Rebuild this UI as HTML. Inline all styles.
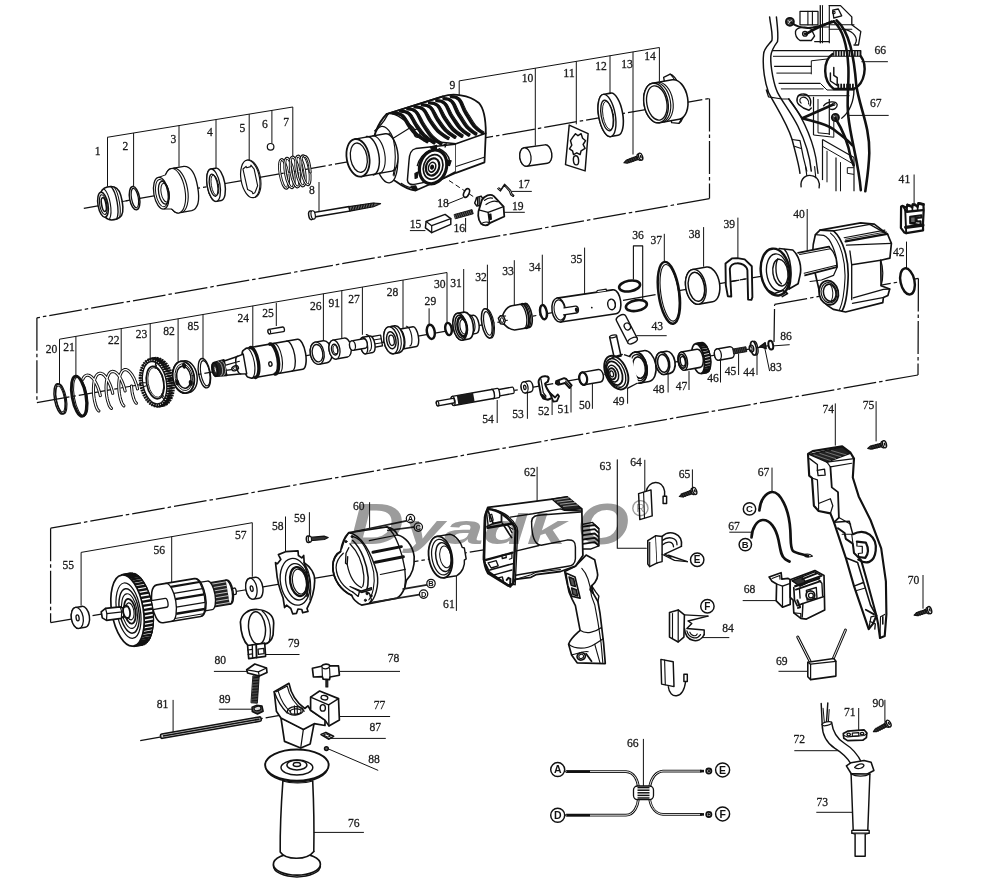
<!DOCTYPE html>
<html><head><meta charset="utf-8"><title>Parts diagram</title>
<style>html,body{margin:0;padding:0;background:#fff;}svg{display:block}</style></head>
<body>
<svg width="993" height="889" viewBox="0 0 993 889" stroke-linejoin="round" stroke-linecap="round">
<rect width="993" height="889" fill="#fff"/>
<g id="dashdot">
<line x1="83.8" y1="208.3" x2="709.5" y2="98.4" stroke="#111" stroke-width="1.25" stroke-dasharray="33 3 3.5 3" stroke-linecap="butt"/>
<line x1="709.5" y1="98.4" x2="709.5" y2="198.6" stroke="#111" stroke-width="1.25" stroke-dasharray="33 3 3.5 3" stroke-linecap="butt"/>
<line x1="709.5" y1="198.6" x2="36.9" y2="317.8" stroke="#111" stroke-width="1.25" stroke-dasharray="33 3 3.5 3" stroke-linecap="butt"/>
<line x1="36.9" y1="317.8" x2="36.9" y2="402.6" stroke="#111" stroke-width="1.25" stroke-dasharray="33 3 3.5 3" stroke-linecap="butt"/>
<line x1="36.9" y1="402.6" x2="780" y2="273" stroke="#111" stroke-width="1.25" stroke-dasharray="33 3 3.5 3" stroke-linecap="butt"/>
<line x1="437" y1="404" x2="771.4" y2="345.2" stroke="#111" stroke-width="1.25" stroke-dasharray="33 3 3.5 3" stroke-linecap="butt"/>
<line x1="774" y1="342" x2="774.6" y2="304.4" stroke="#111" stroke-width="1.25" stroke-dasharray="33 3 3.5 3" stroke-linecap="butt"/>
<line x1="774.6" y1="304.4" x2="918.4" y2="278.4" stroke="#111" stroke-width="1.25" stroke-dasharray="33 3 3.5 3" stroke-linecap="butt"/>
<line x1="918.4" y1="278.4" x2="918" y2="375" stroke="#111" stroke-width="1.25" stroke-dasharray="33 3 3.5 3" stroke-linecap="butt"/>
<line x1="918" y1="375" x2="50.6" y2="528.2" stroke="#111" stroke-width="1.25" stroke-dasharray="33 3 3.5 3" stroke-linecap="butt"/>
<line x1="50.6" y1="528.2" x2="50.6" y2="622.6" stroke="#111" stroke-width="1.25" stroke-dasharray="33 3 3.5 3" stroke-linecap="butt"/>
<line x1="50.6" y1="622.6" x2="520" y2="543.8" stroke="#111" stroke-width="1.25" stroke-dasharray="33 3 3.5 3" stroke-linecap="butt"/>
<line x1="140.2" y1="740.7" x2="316.4" y2="708.7" stroke="#111" stroke-width="1.25" stroke-dasharray="33 3 3.5 3" stroke-linecap="butt"/>
<line x1="449" y1="180.5" x2="476.8" y2="198.9" stroke="#111" stroke-width="1" stroke-dasharray="5 3" stroke-linecap="butt"/>
</g>
<g id="brackets">
<line x1="107.2" y1="137.3" x2="292.8" y2="107" stroke="#111" stroke-width="1" stroke-linecap="butt"/>
<line x1="107.5" y1="137.3" x2="107.5" y2="186.6" stroke="#111" stroke-width="1" stroke-linecap="butt"/>
<line x1="133.6" y1="133" x2="133.6" y2="186" stroke="#111" stroke-width="1" stroke-linecap="butt"/>
<line x1="179" y1="125.6" x2="179" y2="166.7" stroke="#111" stroke-width="1" stroke-linecap="butt"/>
<line x1="216" y1="119.5" x2="216" y2="168.5" stroke="#111" stroke-width="1" stroke-linecap="butt"/>
<line x1="249.2" y1="114.1" x2="249.2" y2="160" stroke="#111" stroke-width="1" stroke-linecap="butt"/>
<line x1="271.9" y1="110.4" x2="271.9" y2="143.3" stroke="#111" stroke-width="1" stroke-linecap="butt"/>
<line x1="292.8" y1="107" x2="292.8" y2="156" stroke="#111" stroke-width="1" stroke-linecap="butt"/>
<line x1="319" y1="182" x2="319" y2="211" stroke="#111" stroke-width="1" stroke-linecap="butt"/>
<line x1="459.2" y1="80.9" x2="659.4" y2="47.5" stroke="#111" stroke-width="1" stroke-linecap="butt"/>
<line x1="459.2" y1="80.9" x2="459.2" y2="104" stroke="#111" stroke-width="1" stroke-linecap="butt"/>
<line x1="535.3" y1="68.2" x2="535.3" y2="145.7" stroke="#111" stroke-width="1" stroke-linecap="butt"/>
<line x1="576.3" y1="61.4" x2="576.3" y2="124.3" stroke="#111" stroke-width="1" stroke-linecap="butt"/>
<line x1="610" y1="55.7" x2="610" y2="93" stroke="#111" stroke-width="1" stroke-linecap="butt"/>
<line x1="633" y1="51.9" x2="633" y2="154.5" stroke="#111" stroke-width="1" stroke-linecap="butt"/>
<line x1="659.4" y1="47.5" x2="659.4" y2="81.5" stroke="#111" stroke-width="1" stroke-linecap="butt"/>
<line x1="59.5" y1="339.2" x2="447" y2="272.5" stroke="#111" stroke-width="1" stroke-linecap="butt"/>
<line x1="59.5" y1="339.2" x2="59.5" y2="384.5" stroke="#111" stroke-width="1" stroke-linecap="butt"/>
<line x1="75.9" y1="336.4" x2="75.9" y2="375.7" stroke="#111" stroke-width="1" stroke-linecap="butt"/>
<line x1="121.2" y1="328.6" x2="121.2" y2="371.9" stroke="#111" stroke-width="1" stroke-linecap="butt"/>
<line x1="150.2" y1="323.6" x2="150.2" y2="358" stroke="#111" stroke-width="1" stroke-linecap="butt"/>
<line x1="178.1" y1="318.8" x2="178.1" y2="361.8" stroke="#111" stroke-width="1" stroke-linecap="butt"/>
<line x1="203" y1="314.5" x2="203" y2="359.3" stroke="#111" stroke-width="1" stroke-linecap="butt"/>
<line x1="252.8" y1="305.9" x2="252.8" y2="349.4" stroke="#111" stroke-width="1" stroke-linecap="butt"/>
<line x1="323.4" y1="293.8" x2="323.4" y2="341.1" stroke="#111" stroke-width="1" stroke-linecap="butt"/>
<line x1="341.8" y1="290.6" x2="341.8" y2="339.3" stroke="#111" stroke-width="1" stroke-linecap="butt"/>
<line x1="362.4" y1="287.1" x2="362.4" y2="334.8" stroke="#111" stroke-width="1" stroke-linecap="butt"/>
<line x1="403" y1="280.1" x2="403" y2="329.2" stroke="#111" stroke-width="1" stroke-linecap="butt"/>
<line x1="447" y1="272.5" x2="447" y2="322.5" stroke="#111" stroke-width="1" stroke-linecap="butt"/>
<line x1="276.3" y1="302.8" x2="276.3" y2="326" stroke="#111" stroke-width="1" stroke-linecap="butt"/>
<line x1="429.1" y1="308.3" x2="429.1" y2="324.2" stroke="#111" stroke-width="1" stroke-linecap="butt"/>
<line x1="463.7" y1="269" x2="463.7" y2="314.3" stroke="#111" stroke-width="1" stroke-linecap="butt"/>
<line x1="487.4" y1="264.7" x2="487.4" y2="309.3" stroke="#111" stroke-width="1" stroke-linecap="butt"/>
<line x1="514.3" y1="260.2" x2="514.3" y2="305.5" stroke="#111" stroke-width="1" stroke-linecap="butt"/>
<line x1="542.3" y1="254.7" x2="542.3" y2="305.5" stroke="#111" stroke-width="1" stroke-linecap="butt"/>
<line x1="584.6" y1="247.6" x2="584.6" y2="296" stroke="#111" stroke-width="1" stroke-linecap="butt"/>
<line x1="664.3" y1="233.8" x2="664.3" y2="261.5" stroke="#111" stroke-width="1" stroke-linecap="butt"/>
<line x1="703.6" y1="227.1" x2="703.6" y2="266.7" stroke="#111" stroke-width="1" stroke-linecap="butt"/>
<line x1="737.9" y1="217.6" x2="737.9" y2="257.9" stroke="#111" stroke-width="1" stroke-linecap="butt"/>
<line x1="807.2" y1="209" x2="807.2" y2="251" stroke="#111" stroke-width="1" stroke-linecap="butt"/>
<path d="M633.4,279.1 L633.4,245.9 L642.7,245.9 L642.7,299.2" stroke="#111" stroke-width="1.12" fill="none" />
<line x1="914.1" y1="174.5" x2="914.1" y2="204.8" stroke="#111" stroke-width="1" stroke-linecap="butt"/>
<line x1="906.5" y1="241.6" x2="906.5" y2="268.2" stroke="#111" stroke-width="1" stroke-linecap="butt"/>
<line x1="636.4" y1="335.7" x2="666.7" y2="335.7" stroke="#111" stroke-width="1" stroke-linecap="butt"/>
<line x1="757" y1="354.8" x2="757" y2="375" stroke="#111" stroke-width="1" stroke-linecap="butt"/>
<line x1="738.6" y1="353.5" x2="738.6" y2="375" stroke="#111" stroke-width="1" stroke-linecap="butt"/>
<line x1="720.5" y1="359.8" x2="720.5" y2="382.5" stroke="#111" stroke-width="1" stroke-linecap="butt"/>
<line x1="689" y1="371.1" x2="689" y2="390" stroke="#111" stroke-width="1" stroke-linecap="butt"/>
<line x1="668.1" y1="373.7" x2="668.1" y2="392.5" stroke="#111" stroke-width="1" stroke-linecap="butt"/>
<line x1="627.6" y1="378.5" x2="627.6" y2="403.7" stroke="#111" stroke-width="1" stroke-linecap="butt"/>
<line x1="592.4" y1="383.6" x2="592.4" y2="408.8" stroke="#111" stroke-width="1" stroke-linecap="butt"/>
<line x1="571" y1="387.4" x2="571" y2="412.5" stroke="#111" stroke-width="1" stroke-linecap="butt"/>
<line x1="552.1" y1="400" x2="552.1" y2="415" stroke="#111" stroke-width="1" stroke-linecap="butt"/>
<line x1="527.4" y1="392.4" x2="527.4" y2="418.8" stroke="#111" stroke-width="1" stroke-linecap="butt"/>
<line x1="497.2" y1="400" x2="497.2" y2="423" stroke="#111" stroke-width="1" stroke-linecap="butt"/>
<line x1="771.6" y1="346" x2="789.7" y2="344.7" stroke="#111" stroke-width="1" stroke-linecap="butt"/>
<line x1="764.6" y1="347.2" x2="769.6" y2="371.1" stroke="#111" stroke-width="1" stroke-linecap="butt"/>
<line x1="409.9" y1="230.6" x2="425.4" y2="230.6" stroke="#111" stroke-width="1" stroke-linecap="butt"/>
<line x1="465.6" y1="218" x2="465.6" y2="232.2" stroke="#111" stroke-width="1" stroke-linecap="butt"/>
<line x1="511.4" y1="191.4" x2="531.8" y2="191.4" stroke="#111" stroke-width="1" stroke-linecap="butt"/>
<line x1="447.9" y1="203.8" x2="463.4" y2="197.5" stroke="#111" stroke-width="1" stroke-linecap="butt"/>
<line x1="503.6" y1="212.3" x2="524.8" y2="212.3" stroke="#111" stroke-width="1" stroke-linecap="butt"/>
<line x1="861.4" y1="61.7" x2="887.9" y2="61.7" stroke="#111" stroke-width="1" stroke-linecap="butt"/>
<line x1="848.8" y1="115.4" x2="888.7" y2="115.4" stroke="#111" stroke-width="1" stroke-linecap="butt"/>
<line x1="81.1" y1="552.4" x2="252.3" y2="522.7" stroke="#111" stroke-width="1" stroke-linecap="butt"/>
<line x1="81.1" y1="552.4" x2="81.1" y2="605.7" stroke="#111" stroke-width="1" stroke-linecap="butt"/>
<line x1="171.7" y1="536.7" x2="171.7" y2="583.1" stroke="#111" stroke-width="1" stroke-linecap="butt"/>
<line x1="252.3" y1="522.7" x2="252.3" y2="576.8" stroke="#111" stroke-width="1" stroke-linecap="butt"/>
<line x1="285.5" y1="516.5" x2="285.5" y2="551.8" stroke="#111" stroke-width="1" stroke-linecap="butt"/>
<line x1="309.4" y1="512.2" x2="309.4" y2="537.4" stroke="#111" stroke-width="1" stroke-linecap="butt"/>
<line x1="369.6" y1="502.2" x2="369.6" y2="530.4" stroke="#111" stroke-width="1" stroke-linecap="butt"/>
<line x1="456.4" y1="569.4" x2="456.4" y2="610.9" stroke="#111" stroke-width="1" stroke-linecap="butt"/>
<line x1="537.1" y1="466.8" x2="537.1" y2="505.6" stroke="#111" stroke-width="1" stroke-linecap="butt"/>
<path d="M617.3,459.8 L617.3,548.3 L646.3,548.3" stroke="#111" stroke-width="1.12" fill="none" />
<line x1="644.8" y1="459.8" x2="644.8" y2="492.7" stroke="#111" stroke-width="1" stroke-linecap="butt"/>
<line x1="692.4" y1="469.4" x2="692.4" y2="488.8" stroke="#111" stroke-width="1" stroke-linecap="butt"/>
<line x1="835.3" y1="403.4" x2="835.3" y2="445.6" stroke="#111" stroke-width="1" stroke-linecap="butt"/>
<line x1="876.1" y1="401.2" x2="876.1" y2="441.4" stroke="#111" stroke-width="1" stroke-linecap="butt"/>
<line x1="923" y1="575" x2="923" y2="608.7" stroke="#111" stroke-width="1" stroke-linecap="butt"/>
<line x1="772" y1="467.6" x2="772" y2="492" stroke="#111" stroke-width="1" stroke-linecap="butt"/>
<line x1="729.3" y1="532.2" x2="752.3" y2="532.2" stroke="#111" stroke-width="1" stroke-linecap="butt"/>
<line x1="742.7" y1="600.6" x2="775.9" y2="600.6" stroke="#111" stroke-width="1" stroke-linecap="butt"/>
<line x1="778.5" y1="671.3" x2="808.2" y2="671.3" stroke="#111" stroke-width="1" stroke-linecap="butt"/>
<line x1="702.1" y1="637.6" x2="729.3" y2="637.6" stroke="#111" stroke-width="1" stroke-linecap="butt"/>
<line x1="858.7" y1="708" x2="858.7" y2="733.4" stroke="#111" stroke-width="1" stroke-linecap="butt"/>
<line x1="884.9" y1="699.8" x2="884.9" y2="721.7" stroke="#111" stroke-width="1" stroke-linecap="butt"/>
<line x1="794.3" y1="750.7" x2="844" y2="750.7" stroke="#111" stroke-width="1" stroke-linecap="butt"/>
<line x1="816.3" y1="812.3" x2="854.6" y2="812.3" stroke="#111" stroke-width="1" stroke-linecap="butt"/>
<line x1="643.4" y1="738.9" x2="643.4" y2="786.7" stroke="#111" stroke-width="1" stroke-linecap="butt"/>
<line x1="265.4" y1="654.5" x2="299.5" y2="654.5" stroke="#111" stroke-width="1" stroke-linecap="butt"/>
<line x1="213.9" y1="671.4" x2="248" y2="671.4" stroke="#111" stroke-width="1" stroke-linecap="butt"/>
<line x1="218.8" y1="709.2" x2="252.3" y2="709.2" stroke="#111" stroke-width="1" stroke-linecap="butt"/>
<line x1="173.1" y1="699.9" x2="173.1" y2="733.4" stroke="#111" stroke-width="1" stroke-linecap="butt"/>
<line x1="339.7" y1="671.4" x2="400" y2="671.4" stroke="#111" stroke-width="1" stroke-linecap="butt"/>
<line x1="338.3" y1="716.5" x2="390.1" y2="716.5" stroke="#111" stroke-width="1" stroke-linecap="butt"/>
<line x1="331" y1="738.4" x2="385.8" y2="738.4" stroke="#111" stroke-width="1" stroke-linecap="butt"/>
<line x1="328.1" y1="748.8" x2="378.2" y2="770.4" stroke="#111" stroke-width="1" stroke-linecap="butt"/>
<line x1="310.6" y1="832.4" x2="363.9" y2="832.4" stroke="#111" stroke-width="1" stroke-linecap="butt"/>
</g>
<g id="top">
<g transform="rotate(-10 103 204.7)">
<path d="M103,192.22848000000002 C105,188.72848000000002 110,187.72848000000002 114,188.22848000000002 L117,189.22848000000002 C121,190.72848000000002 122.5,196.72848000000002 122.5,204.72848000000002 C122.5,212.72848000000002 121,218.72848000000002 117,220.22848000000002 L114,221.22848000000002 C110,221.72848000000002 105,220.72848000000002 103,217.22848000000002 Z" stroke="#111" stroke-width="1.57" fill="#fff" />
<path d="M114,188.22848000000002 C118.5,194.72848000000002 118.5,214.72848000000002 114,221.22848000000002" stroke="#111" stroke-width="1.34" fill="none" />
<path d="M117,189.22848000000002 C120.5,195.72848000000002 120.5,213.72848000000002 117,220.22848000000002" stroke="#111" stroke-width="1.01" fill="none" />
<path d="M107,189.52848000000003 C111.5,195.72848000000002 111.5,213.72848000000002 107,219.92848" stroke="#111" stroke-width="1.12" fill="none" />
<ellipse cx="103" cy="204.72848000000002" rx="5" ry="12.6" fill="#fff" stroke="#111" stroke-width="1.5"/>
<ellipse cx="103.3" cy="204.72848000000002" rx="3.6" ry="10" fill="none" stroke="#111" stroke-width="1.1"/>
<ellipse cx="103.8" cy="204.72848000000002" rx="2.2" ry="7" fill="none" stroke="#111" stroke-width="1.6"/>
</g>
<ellipse cx="134.6" cy="198.2" rx="5" ry="11.8" stroke="#111" stroke-width="1.46" fill="#fff" transform="rotate(-10 134.6 198.2)"/>
<ellipse cx="134.9" cy="198.1" rx="3.4" ry="9.8" stroke="#111" stroke-width="1.23" fill="none" transform="rotate(-10 134.9 198.1)"/>
<line x1="121.5" y1="201.7" x2="129" y2="200.4" stroke="#111" stroke-width="1" stroke-linecap="butt"/>
<g transform="rotate(-10 175 190.8)">
<path d="M175,168.28528 L188,168.28528 C195,169.28528 198,178.78528 198,190.78528 C198,202.78528 195,212.28528 188,213.28528 L175,213.28528 A10 22.5 0 0 1 175,168.28528Z" stroke="#111" stroke-width="1.34" fill="#fff" />
<ellipse cx="175" cy="190.78528" rx="10" ry="22.5" fill="#fff" stroke="#111" stroke-width="1.1"/>
<path d="M177.2,168.28528 A10.5 22.5 0 0 1 177.2,213.28528" stroke="#111" stroke-width="1.12" fill="none" />
<path d="M161,174.78528 L170,173.28528 L170,208.28528 L161,206.78528Z" stroke="#111" stroke-width="0.0" fill="#fff" />
<line x1="161" y1="174.8" x2="169" y2="173.3" stroke="#111" stroke-width="1" stroke-linecap="butt"/>
<line x1="161" y1="206.8" x2="169" y2="208.3" stroke="#111" stroke-width="1" stroke-linecap="butt"/>
<ellipse cx="161" cy="190.78528" rx="7.4" ry="16" fill="#fff" stroke="#111" stroke-width="1.3"/>
<ellipse cx="161.6" cy="190.78528" rx="6" ry="13.8" fill="none" stroke="#111" stroke-width="1"/>
<ellipse cx="163.5" cy="190.78528" rx="5" ry="11.5" fill="none" stroke="#111" stroke-width="1.3"/>
<ellipse cx="165" cy="190.78528" rx="4" ry="9.5" fill="none" stroke="#111" stroke-width="1"/>
</g>
<g transform="rotate(-10 213.6 185.2)">
<path d="M213.6,168.8 L218.6,168.8 A6.4,16.4 0 0 1 218.6,201.6 L213.6,201.6 A6.4,16.4 0 0 1 213.6,168.8Z" stroke="#111" stroke-width="1.46" fill="#fff" />
<ellipse cx="213.6" cy="185.2" rx="6.4" ry="16.4" stroke="#111" stroke-width="1.3" fill="#fff"/>
</g>
<ellipse cx="213.6" cy="185.2" rx="4" ry="11.2" stroke="#111" stroke-width="1.34" fill="none" transform="rotate(-10 213.6 185.2)"/>
<ellipse cx="214.9" cy="185.2" rx="3.5" ry="10.4" stroke="#111" stroke-width="0.9" fill="none" transform="rotate(-10 214.9 185.2)"/>
<g transform="rotate(-10 250.3 178.9)">
<ellipse cx="251.3" cy="178.9" rx="9.3" ry="19" fill="#fff" stroke="#111" stroke-width="1"/>
<ellipse cx="250.3" cy="178.9" rx="9.3" ry="19" fill="#fff" stroke="#111" stroke-width="1.2"/>
<path d="M244.8,167.9 L248.3,165.9 L248.8,167.4 L252.8,166.9 L253.3,165.4 L255.8,169.9 L256.3,186.9 L253.3,191.9 L252.3,193.4 L250.3,193.9 L249.8,191.9 L245.8,188.9 Z" stroke="#111" stroke-width="1.12" fill="none" />
</g>
<circle cx="270.6" cy="146.8" r="3.3" stroke="#111" stroke-width="1.23" fill="#fff"/>
<ellipse cx="284" cy="173.9" rx="3.9" ry="14.6" stroke="#111" stroke-width="2.8" fill="none" transform="rotate(-10 284 173.9)"/>
<ellipse cx="284" cy="173.9" rx="3.9" ry="14.6" stroke="#fff" stroke-width="0.9" fill="none" transform="rotate(-10 284 173.9)"/>
<ellipse cx="289.5" cy="173" rx="4.1" ry="15" stroke="#111" stroke-width="2.8" fill="none" transform="rotate(-10 289.5 173)"/>
<ellipse cx="289.5" cy="173" rx="4.1" ry="15" stroke="#fff" stroke-width="0.9" fill="none" transform="rotate(-10 289.5 173)"/>
<ellipse cx="295" cy="172" rx="4.1" ry="15.2" stroke="#111" stroke-width="2.8" fill="none" transform="rotate(-10 295 172)"/>
<ellipse cx="295" cy="172" rx="4.1" ry="15.2" stroke="#fff" stroke-width="0.9" fill="none" transform="rotate(-10 295 172)"/>
<ellipse cx="300.5" cy="171" rx="4.1" ry="15.2" stroke="#111" stroke-width="2.8" fill="none" transform="rotate(-10 300.5 171)"/>
<ellipse cx="300.5" cy="171" rx="4.1" ry="15.2" stroke="#fff" stroke-width="0.9" fill="none" transform="rotate(-10 300.5 171)"/>
<ellipse cx="305.5" cy="170.2" rx="4" ry="14.8" stroke="#111" stroke-width="2.8" fill="none" transform="rotate(-10 305.5 170.2)"/>
<ellipse cx="305.5" cy="170.2" rx="4" ry="14.8" stroke="#fff" stroke-width="0.9" fill="none" transform="rotate(-10 305.5 170.2)"/>
<path d="M304.5,156.4 C307.5,155.8 309.5,162 310.3,172" stroke="#111" stroke-width="2.8" fill="none" />
<path d="M304.5,156.4 C307.5,155.8 309.5,162 310.3,172" stroke="#fff" stroke-width="0.9" fill="none" />
<g transform="rotate(-9.5 310.8 215.3)">
<path d="M313,213 L350,213 L350,217.6 L313,217.6Z" stroke="#111" stroke-width="1.46" fill="#fff" />
<path d="M350,213 L374,213.4 L381.5,215.3 L374,217.2 L350,217.6Z" stroke="#111" stroke-width="1.23" fill="#666" />
<line x1="351.5" y1="217.4" x2="353.7" y2="213.2" stroke="#111" stroke-width="1.2" stroke-linecap="butt"/>
<line x1="354.2" y1="217.4" x2="356.4" y2="213.2" stroke="#111" stroke-width="1.2" stroke-linecap="butt"/>
<line x1="356.9" y1="217.4" x2="359.1" y2="213.2" stroke="#111" stroke-width="1.2" stroke-linecap="butt"/>
<line x1="359.6" y1="217.4" x2="361.8" y2="213.2" stroke="#111" stroke-width="1.2" stroke-linecap="butt"/>
<line x1="362.3" y1="217.4" x2="364.5" y2="213.2" stroke="#111" stroke-width="1.2" stroke-linecap="butt"/>
<line x1="365" y1="217.4" x2="367.2" y2="213.2" stroke="#111" stroke-width="1.2" stroke-linecap="butt"/>
<line x1="367.7" y1="217.4" x2="369.9" y2="213.2" stroke="#111" stroke-width="1.2" stroke-linecap="butt"/>
<line x1="370.4" y1="217.4" x2="372.6" y2="213.2" stroke="#111" stroke-width="1.2" stroke-linecap="butt"/>
<line x1="373.1" y1="217.4" x2="375.3" y2="213.2" stroke="#111" stroke-width="1.2" stroke-linecap="butt"/>
<ellipse cx="311" cy="215.3" rx="2.3" ry="4.4" fill="#fff" stroke="#111" stroke-width="1.5"/>
<ellipse cx="313.2" cy="215.3" rx="2.1" ry="4.2" fill="#fff" stroke="#111" stroke-width="1.2"/>
</g>
</g>
<g id="housing9">
<path d="M386.7,114.0 L443.1,96.3 C452.8,93.1 468.9,94.7 478.6,102.7 C483.4,107.6 485.8,117.2 485.8,133.3 L484.5,162.3 L456.0,172.8 L443.1,178.5 L415.7,190.5 C409.3,189.7 402.8,186.5 396.4,181.7 C385.1,175.2 373.0,162.3 373.0,149.5 C372.2,138.2 377.1,123.7 386.7,114.0 Z" stroke="#111" stroke-width="1.79" fill="#fff" />
<ellipse cx="385.6" cy="154.6" rx="11.5" ry="28.5" stroke="#111" stroke-width="1.34" fill="#fff" transform="rotate(-8 385.6 154.6)"/>
<path d="M389.1,133.3 C395.6,141.4 398.0,160.7 394.0,176.0 " stroke="#111" stroke-width="1.12" fill="none" />
<g transform="rotate(-10 358 157.8)">
<path d="M358.0470512407348,138.83274250725106 L389.0470512407348,138.83274250725106 A9 19 0 0 1 389.0470512407348,176.83274250725106 L358.0470512407348,176.83274250725106Z" stroke="#111" stroke-width="1.46" fill="#fff" />
<path d="M370.0470512407348,138.33274250725106 A9 19.5 0 0 1 370.0470512407348,177.33274250725106" stroke="#111" stroke-width="1.46" fill="none" />
<path d="M376.0470512407348,138.83274250725106 A9 19 0 0 1 376.0470512407348,176.83274250725106" stroke="#111" stroke-width="1.12" fill="none" />
<ellipse cx="358.0" cy="157.8" rx="11.3" ry="19" fill="#fff" stroke="#111" stroke-width="1.8"/>
<ellipse cx="358.8" cy="157.8" rx="8.3" ry="14.8" fill="#fff" stroke="#111" stroke-width="1.3"/>
</g>
<path d="M386.7,114.0 C393.2,111.6 401.2,117.2 412.5,126.9 L423.8,140.6 " stroke="#111" stroke-width="1.34" fill="none" />
<path d="M388.3,113.7 L384.3,120.4 C381.1,125.3 377.1,128.5 374.6,130.9 " stroke="#111" stroke-width="1.34" fill="none" />
<path d="M410.9,127.2 L393.2,138.2 C395.6,149.5 396.4,162.3 393.2,175.2 " stroke="#111" stroke-width="1.12" fill="none" />
<path d="M415.7,129.3 C420.6,128.5 421.4,136.6 417.3,137.4 C413.3,136.6 413.3,130.9 415.7,129.3 " stroke="#111" stroke-width="1.23" fill="#fff" />
<path d="M423.8,140.6 L456.0,143.8 L485.8,133.3 " stroke="#111" stroke-width="1.46" fill="none" />
<path d="M393.2,113.0 C404.5,113.0 403.6,118.5 409.3,126.6 C414.9,134.6 415.7,134.5 427.0,141.7 " stroke="#111" stroke-width="3.25" fill="none" />
<path d="M395.4,112.7 C406.1,113.4 405.6,119.0 411.4,126.4 C416.5,133.8 418.2,134.5 428.6,140.8 " stroke="#111" stroke-width="1.01" fill="none" />
<path d="M400.4,111.0 C411.7,111.0 410.7,118.1 416.4,126.1 C422.0,134.2 422.7,135.6 434.0,142.8 " stroke="#111" stroke-width="3.25" fill="none" />
<path d="M402.7,110.7 C413.3,111.3 412.7,118.5 418.5,125.9 C423.6,133.4 425.1,135.6 435.6,141.9 " stroke="#111" stroke-width="1.01" fill="none" />
<path d="M407.7,108.9 C419.0,108.9 417.8,117.6 423.5,125.6 C429.1,133.7 429.6,136.7 440.9,144.0 " stroke="#111" stroke-width="3.25" fill="none" />
<path d="M409.9,108.6 C420.6,109.3 419.8,118.1 425.6,125.5 C430.7,132.9 432.0,136.7 442.5,143.0 " stroke="#111" stroke-width="1.01" fill="none" />
<path d="M414.9,106.9 C426.2,106.9 424.9,113.8 430.6,121.9 C436.2,129.9 436.6,131.2 447.9,138.5 " stroke="#111" stroke-width="3.25" fill="none" />
<path d="M417.2,106.6 C427.8,107.2 426.9,114.3 432.7,121.7 C437.8,129.1 439.0,131.2 449.5,137.5 " stroke="#111" stroke-width="1.01" fill="none" />
<path d="M422.2,104.8 C433.5,104.8 432.0,112.2 437.7,120.3 C443.3,128.3 443.5,130.1 454.8,137.4 " stroke="#111" stroke-width="3.25" fill="none" />
<path d="M424.4,104.5 C435.1,105.1 434.0,112.7 439.8,120.1 C444.9,127.5 445.9,130.1 456.4,136.4 " stroke="#111" stroke-width="1.01" fill="none" />
<path d="M429.4,102.8 C440.7,102.8 439.1,110.7 444.8,118.7 C450.4,126.8 450.5,129.0 461.8,136.3 " stroke="#111" stroke-width="3.25" fill="none" />
<path d="M431.7,102.4 C442.3,103.1 441.1,111.1 446.9,118.6 C452.0,126.0 452.9,129.0 463.4,135.3 " stroke="#111" stroke-width="1.01" fill="none" />
<path d="M436.7,100.7 C448.0,100.7 446.2,109.1 451.9,117.1 C457.5,125.2 457.4,127.9 468.7,135.2 " stroke="#111" stroke-width="3.25" fill="none" />
<path d="M438.9,100.4 C449.6,101.0 448.2,109.6 454.0,117.0 C459.1,124.4 459.8,127.9 470.3,134.2 " stroke="#111" stroke-width="1.01" fill="none" />
<path d="M443.9,98.7 C455.2,98.7 453.3,107.5 459.0,115.6 C464.6,123.6 464.4,126.9 475.7,134.1 " stroke="#111" stroke-width="3.25" fill="none" />
<path d="M446.2,98.3 C456.8,99.0 455.3,108.0 461.1,115.4 C466.2,122.8 466.8,126.9 477.3,133.1 " stroke="#111" stroke-width="1.01" fill="none" />
<path d="M451.2,96.6 C462.5,96.6 460.4,105.9 466.1,114.0 C471.7,122.1 471.3,125.8 482.6,133.0 " stroke="#111" stroke-width="3.25" fill="none" />
<path d="M453.4,96.3 C464.1,96.9 462.4,106.4 468.2,113.8 C473.3,121.3 473.7,125.8 484.2,132.1 " stroke="#111" stroke-width="1.01" fill="none" />
<path d="M386.7,114.0 L443.1,96.3 " stroke="#111" stroke-width="1.79" fill="none" />
<path d="M455.2,144.3 L455.2,171.2 " stroke="#111" stroke-width="1.46" fill="none" />
<path d="M456.0,166.4 L484.2,157.2 " stroke="#111" stroke-width="1.01" fill="none" />
<path d="M455.2,144.3 L415.7,148.6 C410.9,149.5 409.3,154.3 409.0,160.7 L407.4,180.1 C407.7,184.1 410.9,185.2 415.7,184.1 L443.1,178.5 L455.2,172.0 " stroke="#111" stroke-width="1.46" fill="#fff" />
<ellipse cx="433.1" cy="166.9" rx="13.3" ry="17.2" stroke="#111" stroke-width="3.14" fill="#fff" transform="rotate(18 433.1 166.9)"/>
<ellipse cx="433.1" cy="166.9" rx="9.5" ry="12.6" stroke="#111" stroke-width="1.68" fill="none" transform="rotate(18 433.1 166.9)"/>
<ellipse cx="432.6" cy="166.9" rx="6.5" ry="8.8" stroke="#111" stroke-width="2.24" fill="none" transform="rotate(18 432.6 166.9)"/>
<ellipse cx="432.1" cy="167.2" rx="3.5" ry="5" stroke="#111" stroke-width="1.57" fill="none" transform="rotate(18 432.1 167.2)"/>
<ellipse cx="432.1" cy="167.2" rx="1.2" ry="1.8" stroke="#111" stroke-width="1.57" fill="#111" transform="rotate(18 432.1 167.2)"/>
<path d="M430.2,147.0 L436.7,145.4 L436.4,149.5 L432.7,151.1 Z" stroke="#111" stroke-width="1.12" fill="#111" />
<path d="M443.9,144.9 L446.3,143.8 L445.1,147.0 " stroke="#111" stroke-width="1.34" fill="none" />
<path d="M445.5,159.9 L451.2,160.7 L449.6,165.6 L446.3,164.8 Z" stroke="#111" stroke-width="1.12" fill="#111" />
<path d="M414.9,173.6 L417.7,172.0 L417.3,177.7 L415.1,178.5 Z" stroke="#111" stroke-width="1.12" fill="#111" />
<path d="M417.3,165.6 C419.0,159.1 423.8,152.7 429.4,150.3 " stroke="#111" stroke-width="1.34" fill="none" />
<path d="M439.1,148.6 C444.7,151.1 448.8,155.9 449.6,160.7 " stroke="#111" stroke-width="1.34" fill="none" />
<path d="M401.2,183.3 C404.5,185.7 410.9,188.1 414.9,188.1 " stroke="#111" stroke-width="1.12" fill="none" />
<path d="M410.9,186.2 L415.7,185.7 L417.3,188.9 L413.3,190.1 Z" stroke="#111" stroke-width="1.12" fill="#111" />
</g>
<g id="top3">
<ellipse cx="466.5" cy="193" rx="2.5" ry="4.6" stroke="#111" stroke-width="1.57" fill="#fff" transform="rotate(25 466.5 193)"/>
<path d="M426.1,221.5 L445.1,214.4 L450.8,218.6 L450.8,224.3 L431.7,232.7 L425.4,227.8 Z" stroke="#111" stroke-width="1.46" fill="#fff" />
<path d="M426.1,221.5 L431.7,225.7 L450.8,218.6 " stroke="#111" stroke-width="1.23" fill="none" />
<path d="M431.7,225.7 L431.7,232.7 " stroke="#111" stroke-width="1.23" fill="none" />
<g transform="rotate(-15.5 455 216.5)">
<rect x="455" y="214.4" width="18.3" height="4.4" fill="#555" stroke="#111" stroke-width="0.8"/>
<line x1="456" y1="214.4" x2="456.6" y2="218.8" stroke="#111" stroke-width="0.9" stroke-linecap="butt"/>
<line x1="458" y1="214.4" x2="458.6" y2="218.8" stroke="#111" stroke-width="0.9" stroke-linecap="butt"/>
<line x1="460" y1="214.4" x2="460.6" y2="218.8" stroke="#111" stroke-width="0.9" stroke-linecap="butt"/>
<line x1="462" y1="214.4" x2="462.6" y2="218.8" stroke="#111" stroke-width="0.9" stroke-linecap="butt"/>
<line x1="464" y1="214.4" x2="464.6" y2="218.8" stroke="#111" stroke-width="0.9" stroke-linecap="butt"/>
<line x1="466" y1="214.4" x2="466.6" y2="218.8" stroke="#111" stroke-width="0.9" stroke-linecap="butt"/>
<line x1="468" y1="214.4" x2="468.6" y2="218.8" stroke="#111" stroke-width="0.9" stroke-linecap="butt"/>
<line x1="470" y1="214.4" x2="470.6" y2="218.8" stroke="#111" stroke-width="0.9" stroke-linecap="butt"/>
<line x1="472" y1="214.4" x2="472.6" y2="218.8" stroke="#111" stroke-width="0.9" stroke-linecap="butt"/>
</g>
<path d="M497.6,188.6 L500.4,191.1 L504.3,185.5 L509.3,191.1 L510.7,194.7 L513.2,196.5 " stroke="#111" stroke-width="1.12" fill="none" />
<path d="M498.7,187.8 L500.9,189.5 L504.6,184.1 L510.7,190.4 L512.1,194.0 L513.9,195.4 L513.2,196.5 " stroke="#111" stroke-width="1.12" fill="none" />
<path d="M476.8,197.5 L481.1,196.1 L482.5,198.2 L481.8,205.2 L476.8,206.0 L474.7,203.1 Z" stroke="#111" stroke-width="1.46" fill="#fff" />
<path d="M477.8,198.2 L477.8,204.5 " stroke="#111" stroke-width="1.68" fill="none" />
<path d="M479.7,197.5 L479.7,205.2 " stroke="#111" stroke-width="1.12" fill="none" />
<path d="M481.8,200.3 C484.6,195.4 490.2,193.3 493.8,196.1 L503.6,206.7 L504.3,216.5 L490.2,222.9 C487.4,226.4 483.2,225.7 481.1,223.6 C477.5,219.3 477.5,212.3 479.7,207.4 Z" stroke="#111" stroke-width="1.79" fill="#fff" />
<path d="M484.6,200.3 C487.4,198.2 490.2,197.5 492.3,198.2 " stroke="#111" stroke-width="1.34" fill="none" />
<path d="M486.0,204.5 C490.2,201.7 494.5,200.3 497.3,201.7 " stroke="#111" stroke-width="1.34" fill="none" />
<path d="M479.7,210.2 L488.1,212.3 L503.6,206.7 " stroke="#111" stroke-width="1.34" fill="none" />
<path d="M488.1,212.3 L489.5,222.9 " stroke="#111" stroke-width="1.34" fill="none" />
<path d="M489.2,214.4 L490.9,214.0 L491.4,219.3 L489.8,219.8 Z" stroke="#111" stroke-width="1.12" fill="#111" />
<path d="M481.1,223.6 C483.2,222.2 486.0,221.5 488.8,222.4 " stroke="#111" stroke-width="1.12" fill="none" />
</g>
<g id="p10_14">
<g transform="rotate(-8 525.4 157)">
<path d="M525.4,147.7 L546.4,147.7 A5.6,9.3 0 0 1 546.4,166.3 L525.4,166.3 A5.6,9.3 0 0 1 525.4,147.7Z" stroke="#111" stroke-width="1.46" fill="#fff" />
<ellipse cx="525.4" cy="157" rx="5.6" ry="9.3" stroke="#111" stroke-width="1.3" fill="#fff"/>
</g>
<path d="M569.2,125.1 L588.1,133.7 L585.1,170.9 L565.5,164.6 Z" stroke="#111" stroke-width="1.46" fill="#fff" />
<path d="M573.0,136.9 L575.5,133.7 L578.0,135.7 L581.1,133.7 L582.6,138.2 L585.6,140.7 L583.1,144.5 L585.1,148.3 L581.1,150.8 L580.1,154.6 L576.8,152.8 L573.5,154.6 L572.5,150.8 L569.5,148.8 L571.8,145.2 L570.5,140.7 Z" stroke="#111" stroke-width="1.46" fill="#fff" />
<ellipse cx="576" cy="160.3" rx="2.6" ry="4.6" stroke="#111" stroke-width="1.46" fill="#fff" transform="rotate(-5 576 160.3)"/>
<g transform="rotate(-10 607 115.5)">
<path d="M607,94.1 L614.5,94.1 A8.3,21.4 0 0 1 614.5,136.9 L607,136.9 A8.3,21.4 0 0 1 607,94.1Z" stroke="#111" stroke-width="1.57" fill="#fff" />
<ellipse cx="607" cy="115.5" rx="8.3" ry="21.4" stroke="#111" stroke-width="1.4" fill="#fff"/>
</g>
<ellipse cx="607" cy="115.5" rx="5.8" ry="15.5" stroke="#111" stroke-width="1.34" fill="none" transform="rotate(-10 607 115.5)"/>
<ellipse cx="608.2" cy="115.5" rx="5.2" ry="14.3" stroke="#111" stroke-width="0.9" fill="none" transform="rotate(-10 608.2 115.5)"/>
<g transform="rotate(160 640.3 156.8)">
<path d="M642.3,155.0 L654.8,155.3 L657.8,156.8 L654.8,158.3 L642.3,158.60000000000002Z" stroke="#111" stroke-width="1.12" fill="#333" />
<line x1="643.8" y1="154.5" x2="644.6" y2="159.1" stroke="#111" stroke-width="0.9" stroke-linecap="butt"/>
<line x1="646" y1="154.5" x2="646.8" y2="159.1" stroke="#111" stroke-width="0.9" stroke-linecap="butt"/>
<line x1="648.2" y1="154.5" x2="649" y2="159.1" stroke="#111" stroke-width="0.9" stroke-linecap="butt"/>
<line x1="650.4" y1="154.5" x2="651.2" y2="159.1" stroke="#111" stroke-width="0.9" stroke-linecap="butt"/>
<line x1="652.6" y1="154.5" x2="653.4" y2="159.1" stroke="#111" stroke-width="0.9" stroke-linecap="butt"/>
<ellipse cx="641.6999999999999" cy="156.8" rx="1.6" ry="3.3" fill="#fff" stroke="#111" stroke-width="1.2"/>
<ellipse cx="640.0" cy="156.8" rx="1.9" ry="3.7" fill="#fff" stroke="#111" stroke-width="1.4"/>
<ellipse cx="639.8" cy="156.8" rx="0.8" ry="1.8" fill="#111"/>
</g>
<g transform="rotate(-10 656 103)">
<path d="M668,79 L675,77 C680,79 681,87 683,93 L686,95 L686,111 L683,113 C681,119 680,125 675,127 L668,125Z" stroke="#111" stroke-width="1.34" fill="#fff" />
<path d="M675,77 C682,85 682,121 675,127" stroke="#111" stroke-width="1.12" fill="none" />
</g>
<g transform="rotate(-10 656 103)">
<path d="M656,83 L676,83 A12,20 0 0 1 676,123 L656,123 A12,20 0 0 1 656,83Z" stroke="#111" stroke-width="1.57" fill="#fff" />
<ellipse cx="656" cy="103" rx="12" ry="20" stroke="#111" stroke-width="1.4" fill="#fff"/>
</g>
<ellipse cx="656.8" cy="103" rx="10" ry="17.3" stroke="#111" stroke-width="1.34" fill="none" transform="rotate(-10 656.8 103)"/>
<g transform="rotate(-10 656 103)">
<path d="M658.5,83 A12 20 0 0 1 658.5,123" stroke="#111" stroke-width="1.12" fill="none" />
<path d="M661,83 A12 20 0 0 1 661,123" stroke="#111" stroke-width="1.12" fill="none" />
</g>
</g>
<g id="mid">
<ellipse cx="61.2" cy="398.9" rx="5.2" ry="15.2" stroke="#111" stroke-width="1.12" fill="none" transform="rotate(-10 61.2 398.9)"/>
<ellipse cx="59.9" cy="398.9" rx="5.4" ry="15.4" stroke="#111" stroke-width="1.46" fill="none" transform="rotate(-10 59.9 398.9)"/>
<ellipse cx="60.4" cy="398.9" rx="4" ry="13" stroke="#111" stroke-width="1.01" fill="none" transform="rotate(-10 60.4 398.9)"/>
<ellipse cx="79" cy="396.2" rx="6.9" ry="20.3" stroke="#111" stroke-width="2.91" fill="none" transform="rotate(-10 79 396.2)"/>
<ellipse cx="80.8" cy="396.5" rx="6.5" ry="19.6" stroke="#111" stroke-width="1.01" fill="none" transform="rotate(-10 80.8 396.5)"/>
<g transform="rotate(-10 89 394)">
<path d="M85.5,378.3 L86.6,376.9 L87.9,375.8 L89.2,375.2 L90.4,375.1 L91.7,375.4 L93.0,376.2 L94.2,377.4 L95.4,379.0 L96.4,381.0 L97.3,383.3 L98.1,385.9 L98.8,388.7 L99.3,391.6 L99.7,394.5 L99.9,397.5 M95.8,412.4 L95.2,411.7 L94.6,410.5 L94.1,408.8 L93.7,406.9 L93.5,404.6 L93.3,402.0 L93.3,399.3 L93.4,396.4 L93.7,393.5 L94.1,390.6 L94.7,387.8 L95.4,385.1 L96.2,382.6 L97.2,380.5 L98.3,378.7 L99.4,377.2 L100.6,376.2 L101.9,375.6 L103.2,375.4 L104.4,375.8 L105.7,376.5 L106.9,377.7 L108.0,379.3 L109.0,381.3 L110.0,383.6 L110.7,386.1 L111.4,388.8 L111.9,391.6 L112.3,394.5 L112.5,397.4 M108.6,412.1 L108.0,411.3 L107.4,410.1 L106.9,408.5 L106.6,406.6 L106.3,404.4 L106.1,401.9 L106.1,399.2 L106.2,396.4 L106.5,393.5 L106.9,390.6 L107.5,387.9 L108.2,385.3 L109.1,382.9 L110.0,380.8 L111.1,379.0 L112.2,377.6 L113.4,376.6 L114.6,376.0 L115.9,375.8 L117.2,376.2 L118.4,376.9 L119.6,378.1 L120.7,379.6 L121.7,381.6 L122.6,383.8 L123.4,386.3 L124.0,388.9 L124.5,391.7 L124.9,394.5 L125.1,397.3 M121.3,411.7 L120.7,410.9 L120.2,409.8 L119.7,408.2 L119.4,406.3 L119.1,404.1 L119.0,401.7 L119.0,399.1 L119.1,396.3 L119.4,393.5 L119.8,390.7 L120.4,388.0 L121.1,385.5 L121.9,383.1 L122.8,381.0 L123.9,379.3 L125.0,377.9 L126.2,376.9 L127.4,376.4 L128.6,376.2 L129.9,376.5 L131.1,377.3 L132.2,378.4 L133.3,380.0 L134.3,381.8 L135.2,384.0 L136.0,386.4 L136.6,389.0 L137.1,391.7 L137.5,394.5 L137.7,397.3 M134.1,411.3 L133.5,410.6 L133.0,409.4 L132.6,407.9 L132.2,406.1 L132.0,403.9 L131.8,401.5 L131.8,399.0 L132.0,396.3 L132.2,393.5 " stroke="#111" stroke-width="3.14" fill="none" />
<path d="M85.5,378.3 L86.6,376.9 L87.9,375.8 L89.2,375.2 L90.4,375.1 L91.7,375.4 L93.0,376.2 L94.2,377.4 L95.4,379.0 L96.4,381.0 L97.3,383.3 L98.1,385.9 L98.8,388.7 L99.3,391.6 L99.7,394.5 L99.9,397.5 M95.8,412.4 L95.2,411.7 L94.6,410.5 L94.1,408.8 L93.7,406.9 L93.5,404.6 L93.3,402.0 L93.3,399.3 L93.4,396.4 L93.7,393.5 L94.1,390.6 L94.7,387.8 L95.4,385.1 L96.2,382.6 L97.2,380.5 L98.3,378.7 L99.4,377.2 L100.6,376.2 L101.9,375.6 L103.2,375.4 L104.4,375.8 L105.7,376.5 L106.9,377.7 L108.0,379.3 L109.0,381.3 L110.0,383.6 L110.7,386.1 L111.4,388.8 L111.9,391.6 L112.3,394.5 L112.5,397.4 M108.6,412.1 L108.0,411.3 L107.4,410.1 L106.9,408.5 L106.6,406.6 L106.3,404.4 L106.1,401.9 L106.1,399.2 L106.2,396.4 L106.5,393.5 L106.9,390.6 L107.5,387.9 L108.2,385.3 L109.1,382.9 L110.0,380.8 L111.1,379.0 L112.2,377.6 L113.4,376.6 L114.6,376.0 L115.9,375.8 L117.2,376.2 L118.4,376.9 L119.6,378.1 L120.7,379.6 L121.7,381.6 L122.6,383.8 L123.4,386.3 L124.0,388.9 L124.5,391.7 L124.9,394.5 L125.1,397.3 M121.3,411.7 L120.7,410.9 L120.2,409.8 L119.7,408.2 L119.4,406.3 L119.1,404.1 L119.0,401.7 L119.0,399.1 L119.1,396.3 L119.4,393.5 L119.8,390.7 L120.4,388.0 L121.1,385.5 L121.9,383.1 L122.8,381.0 L123.9,379.3 L125.0,377.9 L126.2,376.9 L127.4,376.4 L128.6,376.2 L129.9,376.5 L131.1,377.3 L132.2,378.4 L133.3,380.0 L134.3,381.8 L135.2,384.0 L136.0,386.4 L136.6,389.0 L137.1,391.7 L137.5,394.5 L137.7,397.3 M134.1,411.3 L133.5,410.6 L133.0,409.4 L132.6,407.9 L132.2,406.1 L132.0,403.9 L131.8,401.5 L131.8,399.0 L132.0,396.3 L132.2,393.5 " stroke="#fff" stroke-width="1.23" fill="none" />
</g>
<g transform="rotate(-10 154.6 382.7)">
<ellipse cx="159.1" cy="382.67312000000004" rx="13.6" ry="23.4" fill="none" stroke="#111" stroke-width="3.8" stroke-dasharray="1.7 0.8" stroke-linecap="butt"/>
<ellipse cx="157.6" cy="382.67312000000004" rx="13.6" ry="23.4" fill="none" stroke="#111" stroke-width="3.8" stroke-dasharray="1.7 0.8" stroke-linecap="butt"/>
<ellipse cx="156.1" cy="382.67312000000004" rx="13.6" ry="23.4" fill="none" stroke="#111" stroke-width="3.8" stroke-dasharray="1.7 0.8" stroke-linecap="butt"/>
<ellipse cx="154.6" cy="382.67312000000004" rx="13.6" ry="23.4" fill="#fff" stroke="#111" stroke-width="3.8" stroke-dasharray="1.7 0.8" stroke-linecap="butt"/>
<ellipse cx="154.6" cy="382.67312000000004" rx="11.8" ry="21.4" fill="#fff" stroke="#111" stroke-width="1.3"/>
<ellipse cx="155.2" cy="382.67312000000004" rx="8.6" ry="16.4" fill="#fff" stroke="#111" stroke-width="1.7"/>
<ellipse cx="155.79999999999998" cy="382.67312000000004" rx="7.6" ry="15" fill="none" stroke="#111" stroke-width="0.8"/>
<line x1="158.2" y1="366.3" x2="159.6" y2="361.3" stroke="#111" stroke-width="1.1" stroke-linecap="butt"/>
<line x1="158.2" y1="369.3" x2="159.6" y2="365.3" stroke="#111" stroke-width="1.1" stroke-linecap="butt"/>
<line x1="159.5" y1="394.6" x2="161.4" y2="398.2" stroke="#111" stroke-width="1.1" stroke-linecap="butt"/>
<line x1="159.5" y1="397.6" x2="161.4" y2="402.2" stroke="#111" stroke-width="1.1" stroke-linecap="butt"/>
<line x1="146" y1="381.2" x2="142.8" y2="380.7" stroke="#111" stroke-width="1.1" stroke-linecap="butt"/>
<line x1="146" y1="384.2" x2="142.8" y2="384.7" stroke="#111" stroke-width="1.1" stroke-linecap="butt"/>
</g>
<g transform="rotate(-10 183.5 377.2)">
<path d="M183.5,361.2 L186.5,361.2 A10.6,16 0 0 1 186.5,393.2 L183.5,393.2 A10.6,16 0 0 1 183.5,361.2Z" stroke="#111" stroke-width="1.46" fill="#fff" />
<ellipse cx="183.5" cy="377.2" rx="10.6" ry="16" stroke="#111" stroke-width="1.3" fill="#fff"/>
</g>
<ellipse cx="183.5" cy="377.2" rx="10.6" ry="16" stroke="#111" stroke-width="1.79" fill="#fff" transform="rotate(-10 183.5 377.2)"/>
<ellipse cx="183.8" cy="377.2" rx="7" ry="11.2" stroke="#111" stroke-width="1.46" fill="#fff" transform="rotate(-10 183.8 377.2)"/>
<ellipse cx="183.8" cy="377.2" rx="8.6" ry="13.5" stroke="#111" stroke-width="0.9" fill="none" transform="rotate(-10 183.8 377.2)"/>
<g transform="rotate(-10 183.5 377.2)">
<ellipse cx="186.1" cy="366.0" rx="2" ry="3" fill="#111"/>
<ellipse cx="189.7" cy="384.1" rx="2" ry="3" fill="#111"/>
<ellipse cx="176.4" cy="381.3" rx="2" ry="3" fill="#111"/>
</g>
<ellipse cx="204.4" cy="373.2" rx="5.8" ry="14.9" stroke="#111" stroke-width="1.34" fill="none" transform="rotate(-10 204.4 373.2)"/>
<ellipse cx="205.2" cy="373.2" rx="4.4" ry="12.8" stroke="#111" stroke-width="1.12" fill="none" transform="rotate(-10 205.2 373.2)"/>
</g>
<g id="mid2">
<g transform="rotate(-10 244 364.1)">
<path d="M246,350.38176000000004 L249,348.88176000000004 L301,348.88176000000004 A5.5,15.2 0 0 1 301,379.28176 L249,379.28176 L246,377.78176 A3,13.7 0 0 1 246,350.38176000000004Z" stroke="#111" stroke-width="1.57" fill="#fff" />
<path d="M253,348.88176000000004 A5.5,15.2 0 0 1 253,379.28176" stroke="#111" stroke-width="3.36" fill="none" />
<path d="M249,348.88176000000004 A5.5,15.2 0 0 1 249,379.28176" stroke="#111" stroke-width="1.12" fill="none" />
<path d="M273,348.88176000000004 A5.5,15.2 0 0 1 273,379.28176" stroke="#111" stroke-width="3.58" fill="none" />
<path d="M290,348.88176000000004 A5.5,15.2 0 0 1 290,379.28176" stroke="#111" stroke-width="1.34" fill="none" />
<path d="M277,348.88176000000004 A5.5,15.2 0 0 1 277,379.28176" stroke="#111" stroke-width="1.12" fill="none" />
<ellipse cx="270" cy="368.58176000000003" rx="1.6" ry="2.2" fill="#fff" stroke="#111" stroke-width="1.4"/>
<path d="M225,357.58176000000003 L238,355.58176000000003 L245,354.08176000000003 L245,374.08176000000003 L238,373.08176000000003 L225,372.08176000000003Z" stroke="#111" stroke-width="1.46" fill="#fff" />
<path d="M225,362.08176000000003 L240,360.58176000000003" stroke="#111" stroke-width="1.12" fill="none" />
<path d="M225,367.08176000000003 L238,367.58176000000003" stroke="#111" stroke-width="1.12" fill="none" />
<ellipse cx="234.5" cy="366.58176000000003" rx="3.4" ry="2.3" fill="#fff" stroke="#111" stroke-width="1.4" transform="rotate(-15 234.5 366.58176000000003)"/>
<ellipse cx="234.5" cy="366.58176000000003" rx="1.8" ry="1.1" fill="none" stroke="#111" stroke-width="0.8" transform="rotate(-15 234.5 366.58176000000003)"/>
<path d="M239,355.08176000000003 A3,9 0 0 0 239,373.08176000000003" stroke="#111" stroke-width="1.34" fill="none" />
<path d="M214.5,357.28176 L225,356.28176 L225,372.38176000000004 L214.5,371.38176000000004 A3,7 0 0 1 214.5,357.28176Z" stroke="#111" stroke-width="1.46" fill="#222" />
<ellipse cx="214.5" cy="364.38176000000004" rx="2.6" ry="6.6" fill="#222" stroke="#111" stroke-width="1.5"/>
<ellipse cx="214.8" cy="364.38176000000004" rx="1.1" ry="3" fill="#fff" stroke="#111" stroke-width="0.8"/>
<path d="M219,357.08176000000003 A3,7.3 0 0 1 219,371.68176000000005" stroke="#bbb" stroke-width="0.78" fill="none" />
<path d="M222,357.08176000000003 A3,7.3 0 0 1 222,371.68176000000005" stroke="#bbb" stroke-width="0.78" fill="none" />
</g>
<g transform="rotate(-9.5 269.3 331.6)">
<path d="M269.3,329.3 L283.3,329.3 A1.3,2.3 0 0 1 283.3,333.9 L269.3,333.9 A1.3,2.3 0 0 1 269.3,329.3Z" stroke="#111" stroke-width="1.34" fill="#fff" />
<ellipse cx="269.3" cy="331.6" rx="1.3" ry="2.3" stroke="#111" stroke-width="1.2" fill="#fff"/>
</g>
<g transform="rotate(-10 317.2 353.2)">
<path d="M317.2,342 L325.2,342 A6.9,11.2 0 0 1 325.2,364.4 L317.2,364.4 A6.9,11.2 0 0 1 317.2,342Z" stroke="#111" stroke-width="1.46" fill="#fff" />
<ellipse cx="317.2" cy="353.2" rx="6.9" ry="11.2" stroke="#111" stroke-width="1.3" fill="#fff"/>
</g>
<ellipse cx="317.5" cy="353.2" rx="5.2" ry="8.8" stroke="#111" stroke-width="1.34" fill="none" transform="rotate(-10 317.5 353.2)"/>
<g transform="rotate(-10 334.5 349.6)">
<path d="M334.5,340 L346,340 A5.4,9.6 0 0 1 346,359.2 L334.5,359.2 A5.4,9.6 0 0 1 334.5,340Z" stroke="#111" stroke-width="1.46" fill="#fff" />
<ellipse cx="334.5" cy="349.6" rx="5.4" ry="9.6" stroke="#111" stroke-width="1.3" fill="#fff"/>
</g>
<ellipse cx="334.7" cy="349.6" rx="3.1" ry="5.4" stroke="#111" stroke-width="1.46" fill="none" transform="rotate(-10 334.7 349.6)"/>
<ellipse cx="335.3" cy="349.6" rx="2.3" ry="4.3" stroke="#111" stroke-width="0.9" fill="none" transform="rotate(-10 335.3 349.6)"/>
<g transform="rotate(-10 352.5 345.6)">
<path d="M372.5,340.1 L382.0,340.1 L382.0,351.1 L372.5,351.1Z" stroke="#111" stroke-width="1.34" fill="#fff" />
<line x1="372.5" y1="343.8" x2="382" y2="343.8" stroke="#111" stroke-width="1" stroke-linecap="butt"/>
<line x1="372.5" y1="347.8" x2="382" y2="347.8" stroke="#111" stroke-width="1" stroke-linecap="butt"/>
</g>
<g transform="rotate(-10 364 345.6)">
<path d="M364,337.2 L371.5,337.2 A3.5,8.4 0 0 1 371.5,354 L364,354 A3.5,8.4 0 0 1 364,337.2Z" stroke="#111" stroke-width="1.46" fill="#fff" />
<ellipse cx="364" cy="345.6" rx="3.5" ry="8.4" stroke="#111" stroke-width="1.3" fill="#fff"/>
</g>
<g transform="rotate(-10 352.5 345.6)">
<path d="M368.0,337.20000000000005 A3.5,8.4 0 0 1 368.0,354.0" stroke="#111" stroke-width="1.12" fill="none" />
</g>
<g transform="rotate(-10 352.5 345.6)">
<path d="M352.5,340.8 L364.5,340.8 A2.9,4.8 0 0 1 364.5,350.4 L352.5,350.4 A2.9,4.8 0 0 1 352.5,340.8Z" stroke="#111" stroke-width="1.46" fill="#fff" />
<ellipse cx="352.5" cy="345.6" rx="2.9" ry="4.8" stroke="#111" stroke-width="1.3" fill="#fff"/>
</g>
</g>
<g id="mid3">
<g transform="rotate(-10 401 339.1)">
<path d="M401,329.1 L415,329.1 A3.6,10 0 0 1 415,349.1 L401,349.1 A3.6,10 0 0 1 401,329.1Z" stroke="#111" stroke-width="1.46" fill="#fff" />
<ellipse cx="401" cy="339.1" rx="3.6" ry="10" stroke="#111" stroke-width="1.3" fill="#fff"/>
</g>
<g transform="rotate(-10 391 340.3)">
<path d="M408.5,329.1 A3.6,10 0 0 1 408.5,349.1" stroke="#111" stroke-width="1.12" fill="none" />
</g>
<g transform="rotate(-10 391 340.3)">
<path d="M391,326.7 L397,326.7 A7.1,13.6 0 0 1 397,353.9 L391,353.9 A7.1,13.6 0 0 1 391,326.7Z" stroke="#111" stroke-width="1.57" fill="#fff" />
<ellipse cx="391" cy="340.3" rx="7.1" ry="13.6" stroke="#111" stroke-width="1.4" fill="#fff"/>
</g>
<g transform="rotate(-10 391 340.3)">
<path d="M394,326.7 A7.1,13.6 0 0 1 394,353.90000000000003" stroke="#111" stroke-width="1.12" fill="none" />
</g>
<ellipse cx="391.3" cy="340.3" rx="4.6" ry="8.6" stroke="#111" stroke-width="1.46" fill="none" transform="rotate(-10 391.3 340.3)"/>
<ellipse cx="391.6" cy="340.3" rx="2.6" ry="5.2" stroke="#111" stroke-width="1.34" fill="none" transform="rotate(-10 391.6 340.3)"/>
<ellipse cx="430.8" cy="331.8" rx="3.9" ry="7.2" stroke="#111" stroke-width="2.46" fill="#fff" transform="rotate(-10 430.8 331.8)"/>
<ellipse cx="448.5" cy="329" rx="3.2" ry="6.2" stroke="#111" stroke-width="2.46" fill="#fff" transform="rotate(-10 448.5 329)"/>
<g transform="rotate(-10 466 325.9)">
<path d="M466,316.7 L475,316.7 A4.1,9.2 0 0 1 475,335.1 L466,335.1 A4.1,9.2 0 0 1 466,316.7Z" stroke="#111" stroke-width="1.46" fill="#fff" />
<ellipse cx="466" cy="325.9" rx="4.1" ry="9.2" stroke="#111" stroke-width="1.3" fill="#fff"/>
</g>
<g transform="rotate(-10 460 326.7)">
<path d="M471,316.7 A4.1,9.2 0 0 1 471,335.09999999999997" stroke="#111" stroke-width="1.12" fill="none" />
</g>
<g transform="rotate(-10 460 326.7)">
<path d="M460,313.1 L466.5,313.1 A6.8,13.6 0 0 1 466.5,340.3 L460,340.3 A6.8,13.6 0 0 1 460,313.1Z" stroke="#111" stroke-width="1.68" fill="#fff" />
<ellipse cx="460" cy="326.7" rx="6.8" ry="13.6" stroke="#111" stroke-width="1.5" fill="#fff"/>
</g>
<ellipse cx="460.8" cy="326.7" rx="5.6" ry="11.6" stroke="#111" stroke-width="1.46" fill="none" transform="rotate(-10 460.8 326.7)"/>
<ellipse cx="462.2" cy="326.7" rx="4.6" ry="9.6" stroke="#111" stroke-width="2.46" fill="none" transform="rotate(-10 462.2 326.7)"/>
<ellipse cx="463.4" cy="326.7" rx="3.4" ry="7.4" stroke="#111" stroke-width="1.12" fill="none" transform="rotate(-10 463.4 326.7)"/>
<ellipse cx="488.6" cy="323.4" rx="5.4" ry="14.8" stroke="#111" stroke-width="1.12" fill="#fff" transform="rotate(-10 488.6 323.4)"/>
<ellipse cx="487.3" cy="323.4" rx="5.4" ry="14.9" stroke="#111" stroke-width="1.57" fill="#fff" transform="rotate(-10 487.3 323.4)"/>
<ellipse cx="487.8" cy="323.4" rx="3.8" ry="12" stroke="#111" stroke-width="1.12" fill="none" transform="rotate(-10 487.8 323.4)"/>
<g transform="rotate(-10 514 317.8)">
<path d="M503,313.8 C506,308.8 510,305.6 514,305.6 L527.5,305.6 A4.6,12.2 0 0 1 527.5,330.0 L514,330.0 C510,330.0 506,326.8 503,322.3Z" stroke="#111" stroke-width="1.57" fill="#fff" />
<path d="M522,305.6 A4.6,12.2 0 0 1 522,330.0" stroke="#111" stroke-width="1.23" fill="none" />
<path d="M524.2,305.6 A4.6,12.2 0 0 1 524.2,330.0" stroke="#111" stroke-width="2.24" fill="none" />
<path d="M526,305.6 A4.6,12.2 0 0 1 526,330.0" stroke="#111" stroke-width="1.12" fill="none" />
<path d="M498.5,315.6 L501,313.40000000000003 L504,314.2 L505,319.0 L503,322.40000000000003 L499.6,321.40000000000003Z" stroke="#111" stroke-width="1.46" fill="#fff" />
<ellipse cx="501.8" cy="318.0" rx="1.5" ry="2.3" fill="none" stroke="#111" stroke-width="1"/>
<line x1="504" y1="314.2" x2="506.5" y2="314.6" stroke="#111" stroke-width="1" stroke-linecap="butt"/>
<line x1="505" y1="319" x2="507.5" y2="319.2" stroke="#111" stroke-width="1" stroke-linecap="butt"/>
</g>
<ellipse cx="543.5" cy="312.2" rx="3.3" ry="7.2" stroke="#111" stroke-width="2.46" fill="#fff" transform="rotate(-10 543.5 312.2)"/>
</g>
<g id="mid4">
<g transform="rotate(-8.5 558.8 310.1)">
<path d="M558.8,298.0 L614.8,298.0 C619.8,298.0 621.3,305.1 621.3,310.1 C621.3,315.1 619.8,322.20000000000005 614.8,322.20000000000005 L558.8,322.20000000000005Z" stroke="#111" stroke-width="1.57" fill="#fff" />
<path d="M598.8,298.0 L599.8,296.4 L608.8,296.4 L608.8,298.0" stroke="#111" stroke-width="1.12" fill="#fff" />
<ellipse cx="558.8" cy="310.1" rx="6.8" ry="12.1" fill="#fff" stroke="#111" stroke-width="1.5"/>
<ellipse cx="559.5999999999999" cy="310.1" rx="5.4" ry="10.2" fill="#fff" stroke="#111" stroke-width="1.1"/>
<path d="M564.3,308.6 L575.8,308.6 A2.5,3.5 0 0 1 575.8,315.6 L562.8,315.6" stroke="#111" stroke-width="1.34" fill="#fff" />
<ellipse cx="576.3" cy="312.40000000000003" rx="1.6" ry="2.4" fill="#111"/>
<circle cx="591.8" cy="312.6" r="0.9" fill="#111"/>
<ellipse cx="611.8" cy="312.3" rx="3.8" ry="5.3" fill="#fff" stroke="#111" stroke-width="1.4"/>
<path d="M613.8,308.1 A3,4.6 0 0 1 613.8,316.6" stroke="#111" stroke-width="1.01" fill="none" />
</g>
<ellipse cx="629.6" cy="286" rx="10.6" ry="5.3" stroke="#111" stroke-width="2.58" fill="#fff" transform="rotate(-10 629.6 286)"/>
<ellipse cx="636.4" cy="305.6" rx="10.6" ry="5.3" stroke="#111" stroke-width="2.58" fill="#fff" transform="rotate(-10 636.4 305.6)"/>
<ellipse cx="668.9" cy="292.8" rx="10.4" ry="31.2" stroke="#111" stroke-width="2.46" fill="#fff" transform="rotate(-8 668.9 292.8)"/>
<ellipse cx="669.6" cy="292.8" rx="8.8" ry="28.6" stroke="#111" stroke-width="1.12" fill="none" transform="rotate(-8 669.6 292.8)"/>
<g transform="rotate(-117.3 632.6 340.6)">
<path d="M632.6,335.40000000000003 L657.6,335.40000000000003 C661.6,335.40000000000003 662.1,345.8 657.6,345.8 L632.6,345.8Z" stroke="#111" stroke-width="1.46" fill="#fff" />
<ellipse cx="632.6" cy="340.6" rx="2.6" ry="5.2" fill="#fff" stroke="#111" stroke-width="1.3"/>
<ellipse cx="647.6" cy="342.40000000000003" rx="3.6" ry="3" fill="#fff" stroke="#111" stroke-width="1.3"/>
</g>
</g>
<g id="mid5">
<g transform="rotate(-10 498.1 392.9)">
<path d="M498.1,389.7 L513.1,389.7 A1.1,3.2 0 0 1 513.1,396.1 L498.1,396.1 A1.1,3.2 0 0 1 498.1,389.7Z" stroke="#111" stroke-width="1.34" fill="#fff" />
<ellipse cx="498.1" cy="392.9" rx="1.1" ry="3.2" stroke="#111" stroke-width="1.2" fill="#fff"/>
</g>
<g transform="rotate(-10 492.6 394)">
<path d="M492.6,389.3 L498.1,389.3 A1.6,4.7 0 0 1 498.1,398.7 L492.6,398.7 A1.6,4.7 0 0 1 492.6,389.3Z" stroke="#111" stroke-width="1.34" fill="#fff" />
<ellipse cx="492.6" cy="394" rx="1.6" ry="4.7" stroke="#111" stroke-width="1.2" fill="#fff"/>
</g>
<g transform="rotate(-10 453.1 400.9)">
<path d="M453.1,396.3 L493.1,396.3 A1.8,4.6 0 0 1 493.1,405.5 L453.1,405.5 A1.8,4.6 0 0 1 453.1,396.3Z" stroke="#111" stroke-width="1.46" fill="#fff" />
<ellipse cx="453.1" cy="400.9" rx="1.8" ry="4.6" stroke="#111" stroke-width="1.3" fill="#fff"/>
</g>
<g transform="rotate(-10 457.6 400.1)">
<rect x="457.6" y="395.5069" width="16.5" height="9.2" fill="#1a1a1a"/>
</g>
<g transform="rotate(-10 437.6 403.5)">
<path d="M437.6,401.1 L453.6,401.1 A1.2,2.4 0 0 1 453.6,405.9 L437.6,405.9 A1.2,2.4 0 0 1 437.6,401.1Z" stroke="#111" stroke-width="1.46" fill="#fff" />
<ellipse cx="437.6" cy="403.5" rx="1.2" ry="2.4" stroke="#111" stroke-width="1.3" fill="#fff"/>
</g>
<g transform="rotate(-10 524.6 387.4)">
<path d="M524.6,381.8 L529.6,381.8 A3.4,5.6 0 0 1 529.6,393 L524.6,393 A3.4,5.6 0 0 1 524.6,381.8Z" stroke="#111" stroke-width="1.46" fill="#fff" />
<ellipse cx="524.6" cy="387.4" rx="3.4" ry="5.6" stroke="#111" stroke-width="1.3" fill="#fff"/>
</g>
<ellipse cx="524.8" cy="387.4" rx="1.2" ry="2.2" stroke="#111" stroke-width="1.34" fill="none" transform="rotate(-10 524.8 387.4)"/>
<path d="M546.0,376.3 C541.5,375.4 537.8,379.0 538.8,383.5 L540.9,394.4 L543.3,398.6 L547.8,399.8 L553.3,397.5 C549.6,392.6 546.0,389.0 545.1,383.5 L547.8,381.7 L548.7,378.6 C548.7,377.2 547.8,376.5 546.0,376.3 Z" stroke="#111" stroke-width="2.02" fill="#fff" />
<path d="M540.9,379.0 L543.3,392.6 L546.0,396.2" stroke="#111" stroke-width="1.23" fill="none" />
<path d="M549.6,392.6 L555.1,397.5 L557.8,394.4 L559.1,396.2 L556.9,401.1 L553.3,401.7 L552.3,398.9Z" stroke="#111" stroke-width="1.79" fill="#fff" />
<path d="M542.4,395.3 L545.1,397.5" stroke="#111" stroke-width="2.46" fill="none" />
<path d="M556.2,381.2 L564.1,378.1 L566.3,379.0 L571.7,385.3 L569.6,388.1 L565.0,383.0 L558.0,384.8 L555.8,383.4Z" stroke="#111" stroke-width="1.9" fill="#fff" />
<path d="M556.5,381.9 L559.1,380.8 L559.8,383.7 L557.2,384.4Z" stroke="#111" stroke-width="1.12" fill="#222" />
<path d="M565.6,381.2 L570.7,387.0" stroke="#111" stroke-width="1.12" fill="none" />
<g transform="rotate(-10 583.2 378.6)">
<path d="M583.2,372.3 L599.7,372.3 A3.9,6.3 0 0 1 599.7,384.9 L583.2,384.9 A3.9,6.3 0 0 1 583.2,372.3Z" stroke="#111" stroke-width="1.46" fill="#fff" />
<ellipse cx="583.2" cy="378.6" rx="3.9" ry="6.3" stroke="#111" stroke-width="1.3" fill="#fff"/>
</g>
<ellipse cx="583.2" cy="378.6" rx="3.9" ry="6.3" stroke="#111" stroke-width="2.24" fill="none" transform="rotate(-10 583.2 378.6)"/>
</g>
<g id="mid6">
<g transform="rotate(-10 637.6 367.6)">
<path d="M637.6,352 L646.6,352 A9.4,15.6 0 0 1 646.6,383.2 L637.6,383.2 A9.4,15.6 0 0 1 637.6,352Z" stroke="#111" stroke-width="1.57" fill="#fff" />
<ellipse cx="637.6" cy="367.6" rx="9.4" ry="15.6" stroke="#111" stroke-width="1.4" fill="#fff"/>
</g>
<ellipse cx="637.6" cy="367.6" rx="9.3" ry="15.6" stroke="#111" stroke-width="1.79" fill="#fff" transform="rotate(-10 637.6 367.6)"/>
<ellipse cx="638.2" cy="367.6" rx="7.8" ry="13.2" stroke="#111" stroke-width="1.34" fill="none" transform="rotate(-10 638.2 367.6)"/>
<ellipse cx="639" cy="367.6" rx="6.2" ry="10.8" stroke="#111" stroke-width="1.57" fill="none" transform="rotate(-10 639 367.6)"/>
<path d="M622.2,354.5 L631.3,356.7 L638.5,383.0 L626.7,388.9 Z" stroke="#111" stroke-width="0.0" fill="#fff" />
<line x1="624" y1="354.7" x2="630.5" y2="356.9" stroke="#111" stroke-width="1.4" stroke-linecap="butt"/>
<line x1="626.9" y1="388.7" x2="637.6" y2="383" stroke="#111" stroke-width="1.4" stroke-linecap="butt"/>
<g transform="rotate(77.5 613.1 336.3)">
<path d="M613.1323662737988,332.8327289211242 L634.1323662737988,332.8327289211242 L634.1323662737988,339.8327289211242 L613.1323662737988,339.8327289211242Z" stroke="#111" stroke-width="1.57" fill="#fff" />
<ellipse cx="613.1323662737988" cy="336.3327289211242" rx="1.3" ry="3.5" fill="#fff" stroke="#111" stroke-width="1.3"/>
</g>
<ellipse cx="616.3" cy="372.6" rx="10.6" ry="17.8" stroke="#111" stroke-width="1.9" fill="#fff" transform="rotate(-24 616.3 372.6)"/>
<ellipse cx="615.7" cy="372.9" rx="8.8" ry="15.2" stroke="#111" stroke-width="1.34" fill="none" transform="rotate(-24 615.7 372.9)"/>
<ellipse cx="614.5" cy="373.2" rx="7.2" ry="12.4" stroke="#111" stroke-width="1.79" fill="none" transform="rotate(-22 614.5 373.2)"/>
<ellipse cx="613.1" cy="373.6" rx="5.2" ry="8.6" stroke="#111" stroke-width="1.46" fill="none" transform="rotate(-18 613.1 373.6)"/>
<ellipse cx="612.1" cy="373.8" rx="3.6" ry="5.6" stroke="#111" stroke-width="1.9" fill="none" transform="rotate(-15 612.1 373.8)"/>
<ellipse cx="611.7" cy="373.9" rx="1.8" ry="3" stroke="#111" stroke-width="1.34" fill="none" transform="rotate(-15 611.7 373.9)"/>
<path d="M608.6,359.9 L614.5,356.7 L622.2,354.5" stroke="#111" stroke-width="1.46" fill="none" />
<g transform="rotate(-10 662.7 363.3)">
<path d="M662.7,352.1 L668.2,352.1 A6.9,11.2 0 0 1 668.2,374.5 L662.7,374.5 A6.9,11.2 0 0 1 662.7,352.1Z" stroke="#111" stroke-width="1.68" fill="#fff" />
<ellipse cx="662.7" cy="363.3" rx="6.9" ry="11.2" stroke="#111" stroke-width="1.5" fill="#fff"/>
</g>
<ellipse cx="663.1" cy="363.3" rx="5.4" ry="9" stroke="#111" stroke-width="1.57" fill="none" transform="rotate(-10 663.1 363.3)"/>
<g transform="rotate(-10 698.1 358.7)">
<path d="M698.1218529707955,343.67069486404836 A6,15 0 0 1 698.1218529707955,373.67069486404836 L704.6218529707955,373.67069486404836 A6,15 0 0 0 704.6218529707955,343.67069486404836Z" stroke="#111" stroke-width="1.12" fill="#fff" />
<line x1="698.1" y1="343.7" x2="704.6" y2="343.7" stroke="#111" stroke-width="2.3" stroke-linecap="butt"/>
<line x1="699.4" y1="344" x2="705.9" y2="344" stroke="#111" stroke-width="2.3" stroke-linecap="butt"/>
<line x1="700.6" y1="345" x2="707.1" y2="345" stroke="#111" stroke-width="2.3" stroke-linecap="butt"/>
<line x1="701.6" y1="346.5" x2="708.1" y2="346.5" stroke="#111" stroke-width="2.3" stroke-linecap="butt"/>
<line x1="702.6" y1="348.6" x2="709.1" y2="348.6" stroke="#111" stroke-width="2.3" stroke-linecap="butt"/>
<line x1="703.3" y1="351.2" x2="709.8" y2="351.2" stroke="#111" stroke-width="2.3" stroke-linecap="butt"/>
<line x1="703.8" y1="354" x2="710.3" y2="354" stroke="#111" stroke-width="2.3" stroke-linecap="butt"/>
<line x1="704.1" y1="357.1" x2="710.6" y2="357.1" stroke="#111" stroke-width="2.3" stroke-linecap="butt"/>
<line x1="704.1" y1="360.2" x2="710.6" y2="360.2" stroke="#111" stroke-width="2.3" stroke-linecap="butt"/>
<line x1="703.8" y1="363.3" x2="710.3" y2="363.3" stroke="#111" stroke-width="2.3" stroke-linecap="butt"/>
<line x1="703.3" y1="366.2" x2="709.8" y2="366.2" stroke="#111" stroke-width="2.3" stroke-linecap="butt"/>
<line x1="702.6" y1="368.7" x2="709.1" y2="368.7" stroke="#111" stroke-width="2.3" stroke-linecap="butt"/>
<line x1="701.6" y1="370.8" x2="708.1" y2="370.8" stroke="#111" stroke-width="2.3" stroke-linecap="butt"/>
<line x1="700.6" y1="372.4" x2="707.1" y2="372.4" stroke="#111" stroke-width="2.3" stroke-linecap="butt"/>
<line x1="699.4" y1="373.3" x2="705.9" y2="373.3" stroke="#111" stroke-width="2.3" stroke-linecap="butt"/>
<line x1="698.1" y1="373.7" x2="704.6" y2="373.7" stroke="#111" stroke-width="2.3" stroke-linecap="butt"/>
<path d="M704.6218529707955,343.67069486404836 A6,15 0 0 1 704.6218529707955,373.67069486404836" stroke="#111" stroke-width="1.12" fill="none" />
</g>
<ellipse cx="698.1" cy="358.7" rx="6" ry="15" stroke="#111" stroke-width="1.68" fill="#fff" transform="rotate(-10 698.1 358.7)"/>
<g transform="rotate(-10 682.8 361.1)">
<path d="M682.8,351.9 L698.8,351.9 A4.6,9.2 0 0 1 698.8,370.3 L682.8,370.3 A4.6,9.2 0 0 1 682.8,351.9Z" stroke="#111" stroke-width="1.57" fill="#fff" />
<ellipse cx="682.8" cy="361.1" rx="4.6" ry="9.2" stroke="#111" stroke-width="1.4" fill="#fff"/>
</g>
<ellipse cx="682.3" cy="361.3" rx="3.6" ry="7" stroke="#111" stroke-width="1.79" fill="#fff" transform="rotate(-10 682.3 361.3)"/>
<ellipse cx="682.8" cy="361.3" rx="2.4" ry="4.8" stroke="#111" stroke-width="1.34" fill="none" transform="rotate(-10 682.8 361.3)"/>
<g transform="rotate(-10 717.9 354.6)">
<path d="M717.9,348.9 L730.9,348.9 A3.4,5.7 0 0 1 730.9,360.3 L717.9,360.3 A3.4,5.7 0 0 1 717.9,348.9Z" stroke="#111" stroke-width="1.46" fill="#fff" />
<ellipse cx="717.9" cy="354.6" rx="3.4" ry="5.7" stroke="#111" stroke-width="1.3" fill="#fff"/>
</g>
<g transform="rotate(-10 733.6 351.4)">
<rect x="733.5699899295066" y="348.91993957703926" width="13" height="5" fill="#444" stroke="#111" stroke-width="0.8"/>
<line x1="734.6" y1="348.9" x2="735.2" y2="353.9" stroke="#111" stroke-width="0.8" stroke-linecap="butt"/>
<line x1="736.4" y1="348.9" x2="737" y2="353.9" stroke="#111" stroke-width="0.8" stroke-linecap="butt"/>
<line x1="738.2" y1="348.9" x2="738.8" y2="353.9" stroke="#111" stroke-width="0.8" stroke-linecap="butt"/>
<line x1="740" y1="348.9" x2="740.6" y2="353.9" stroke="#111" stroke-width="0.8" stroke-linecap="butt"/>
<line x1="741.8" y1="348.9" x2="742.4" y2="353.9" stroke="#111" stroke-width="0.8" stroke-linecap="butt"/>
<line x1="743.6" y1="348.9" x2="744.2" y2="353.9" stroke="#111" stroke-width="0.8" stroke-linecap="butt"/>
<line x1="745.4" y1="348.9" x2="746" y2="353.9" stroke="#111" stroke-width="0.8" stroke-linecap="butt"/>
</g>
<ellipse cx="755" cy="348.2" rx="2.8" ry="7" stroke="#111" stroke-width="1.34" fill="#fff" transform="rotate(-10 755 348.2)"/>
<ellipse cx="753.5" cy="348.2" rx="2.8" ry="7" stroke="#111" stroke-width="1.57" fill="#fff" transform="rotate(-10 753.5 348.2)"/>
<ellipse cx="751.5" cy="348.5" rx="2.2" ry="3.4" stroke="#111" stroke-width="1.46" fill="#fff" transform="rotate(-10 751.5 348.5)"/>
<ellipse cx="750.9" cy="348.6" rx="1.2" ry="2" stroke="#111" stroke-width="1.12" fill="#fff" transform="rotate(-10 750.9 348.6)"/>
<path d="M759.8,346.6 L765.2,342.6 L766.2,348.6 Z" stroke="#111" stroke-width="1.34" fill="#222" />
<ellipse cx="770.8" cy="345.2" rx="2.3" ry="4.4" stroke="#111" stroke-width="2.02" fill="#fff" transform="rotate(-10 770.8 345.2)"/>
</g>
<g id="h40">
<path d="M815.4,234.6 L820.0,230.1 L860.7,222.9 L874.3,224.1 L887.6,234.3 L891.4,243.4 L889.9,258.1 L880.7,260.3 L881.1,285.7 L889.7,289.0 L887.9,295.4 L883.4,297.6 L882.8,302.6 L845.6,312.0 L833.5,309.4 C826.0,305.6 820.0,299.6 819.2,290.5 L813.2,264.8 C811.6,252.8 813.2,242.2 815.4,234.6 Z" stroke="#111" stroke-width="1.68" fill="#fff" />
<path d="M820.0,230.1 L833.5,230.9 C843.4,239.2 849.0,260.3 848.1,278.4 C847.4,293.5 845.6,305.6 841.9,311.1 " stroke="#111" stroke-width="1.68" fill="none" />
<path d="M830.5,233.1 C840.3,240.7 845.6,260.3 845.0,278.4 C844.4,292.0 842.6,302.6 839.6,309.4 " stroke="#111" stroke-width="1.12" fill="none" />
<path d="M815.4,234.6 L823.7,235.4 C830.5,237.7 836.6,252.8 837.3,266.4 " stroke="#111" stroke-width="1.23" fill="none" />
<path d="M833.5,230.9 L869.8,224.4 L887.6,234.3 " stroke="#111" stroke-width="1.34" fill="none" />
<path d="M844.1,237.7 L884.9,230.1 " stroke="#111" stroke-width="1.12" fill="none" />
<path d="M845.6,241.4 L887.2,233.9 " stroke="#111" stroke-width="2.24" fill="none" />
<path d="M846.5,245.2 L891.4,243.4 " stroke="#111" stroke-width="1.34" fill="none" />
<path d="M845.6,239.2 L886.4,231.9 " stroke="#111" stroke-width="0.9" fill="none" />
<path d="M851.7,264.8 L880.7,260.3 " stroke="#111" stroke-width="1.46" fill="none" />
<path d="M848.4,250.5 L890.2,258.1 " stroke="#111" stroke-width="0.0" fill="none" />
<path d="M849.9,251.0 L851.7,264.8 L851.7,299.6 " stroke="#111" stroke-width="1.34" fill="none" />
<path d="M880.7,260.3 C883.4,267.9 883.4,278.4 881.1,285.7 " stroke="#111" stroke-width="1.23" fill="none" />
<path d="M853.2,297.8 L883.4,289.3 L889.7,289.0 " stroke="#111" stroke-width="1.34" fill="none" />
<path d="M852.4,303.4 L882.8,297.6 " stroke="#111" stroke-width="1.12" fill="none" />
<path d="M848.7,305.6 L882.8,302.6 " stroke="#111" stroke-width="0.0" fill="none" />
<path d="M798.1,252.8 L829.0,246.7 C835.1,252.8 837.3,260.3 836.6,267.1 L804.8,275.4 Z" stroke="#111" stroke-width="0.0" fill="#fff" />
<path d="M798.1,252.8 L829.0,246.7 " stroke="#111" stroke-width="1.79" fill="none" />
<path d="M799.6,254.6 L830.5,248.8 " stroke="#111" stroke-width="1.01" fill="none" />
<path d="M804.8,275.4 L836.6,267.1 " stroke="#111" stroke-width="1.79" fill="none" />
<path d="M804.1,273.2 L836.6,265.2 " stroke="#111" stroke-width="1.01" fill="none" />
<path d="M829.0,246.7 C835.1,252.8 837.3,260.3 836.6,267.1 " stroke="#111" stroke-width="1.34" fill="none" />
<path d="M810.1,281.5 L821.5,280.0 L833.5,275.4 L837.3,267.1 " stroke="#111" stroke-width="1.23" fill="none" />
<ellipse cx="828.7" cy="292.8" rx="9.6" ry="12.2" stroke="#111" stroke-width="1.79" fill="#fff" transform="rotate(-12 828.7 292.8)"/>
<ellipse cx="829" cy="292.8" rx="7.8" ry="10.2" stroke="#111" stroke-width="1.12" fill="none" transform="rotate(-12 829 292.8)"/>
<ellipse cx="829.7" cy="292.8" rx="6.2" ry="8.6" stroke="#111" stroke-width="1.57" fill="#fff" transform="rotate(-12 829.7 292.8)"/>
<path d="M830.5,284.8 C833.5,289.0 833.5,296.6 831.3,301.1 " stroke="#111" stroke-width="1.01" fill="none" />
<path d="M777.7,249.0 L793.5,250.5 C798.8,255.8 801.8,264.8 800.3,274.7 L804.8,275.4 L798.8,286.0 L785.2,293.5 L777.7,249.0 Z" stroke="#111" stroke-width="0.0" fill="#fff" />
<path d="M779.2,248.5 L792.8,250.0 C799.1,255.8 802.1,266.4 800.0,275.4 L798.1,283.7 L789.0,289.0 " stroke="#111" stroke-width="1.68" fill="none" />
<path d="M784.5,249.4 C791.3,257.3 792.8,275.4 789.0,289.0 " stroke="#111" stroke-width="1.46" fill="none" />
<ellipse cx="775.4" cy="272.1" rx="14.5" ry="23.6" stroke="#111" stroke-width="2.46" fill="#fff" transform="rotate(-8 775.4 272.1)"/>
<ellipse cx="777.6" cy="272.4" rx="11" ry="18.6" stroke="#111" stroke-width="1.34" fill="#fff" transform="rotate(-8 777.6 272.4)"/>
<ellipse cx="780.4" cy="272.6" rx="7.5" ry="13.5" stroke="#111" stroke-width="1.46" fill="none" transform="rotate(-8 780.4 272.6)"/>
<path d="M777.7,258.8 C774.6,266.4 775.4,278.4 781.4,283.7 " stroke="#111" stroke-width="1.34" fill="none" />
<path d="M768.6,290.5 L774.6,293.5 L782.9,290.5 L787.5,293.5 L782.2,296.6 " stroke="#111" stroke-width="1.57" fill="none" />
</g>
<g transform="rotate(-10 695.8 286.8)">
<path d="M695.8,269.2 L709.8,269.2 A10,17.6 0 0 1 709.8,304.4 L695.8,304.4 A10,17.6 0 0 1 695.8,269.2Z" stroke="#111" stroke-width="1.57" fill="#fff" />
<ellipse cx="695.8" cy="286.8" rx="10" ry="17.6" stroke="#111" stroke-width="1.4" fill="#fff"/>
</g>
<ellipse cx="696.4" cy="286.8" rx="8" ry="14.6" stroke="#111" stroke-width="1.46" fill="none" transform="rotate(-10 696.4 286.8)"/>
<g transform="rotate(-10 695.8 286.8)">
<path d="M698.8,272.8 A8,14.6 0 0 1 698.8,300.8" stroke="#111" stroke-width="1.01" fill="none" />
</g>
<path d="M725.5,263.5 L731.9,258.4 L737.3,258.1 L744.7,259.4 L751.8,266.2 L752.4,297.2 L751.4,299.9 L748.1,299.6 L747.4,270.2 C746.7,265.5 741.3,263.0 737.3,263.2 C733.2,263.2 730.2,265.5 729.8,268.9 L731.3,296.6 L727.8,296.2 L725.8,285.1 Z" stroke="#111" stroke-width="1.9" fill="#fff" />
<line x1="730" y1="281.6" x2="748" y2="278.5" stroke="#111" stroke-width="1.1" stroke-dasharray="7 3" stroke-linecap="butt"/>
<path d="M901.1,206.6 L902.7,205.9 L906.7,207.7 L907.5,204.9 L910.2,205.9 L912.3,207.4 L912.8,204.6 L915.3,204.9 L917.6,207.0 L918.6,203.4 L923.4,204.4 L923.7,210.2 L922.9,224.9 L923.1,230.4 L906.2,233.2 L904.2,232.4 L900.9,227.9 Z" stroke="#111" stroke-width="2.24" fill="#fff" />
<path d="M902.7,205.9 L905.2,209.7 L906.2,233.2 " stroke="#111" stroke-width="1.9" fill="none" />
<path d="M905.2,209.7 L906.7,211.7 L922.9,210.1 " stroke="#111" stroke-width="2.46" fill="none" />
<path d="M906.7,207.7 L907.2,210.2 " stroke="#111" stroke-width="1.68" fill="none" />
<path d="M912.3,207.4 L912.5,210.2 " stroke="#111" stroke-width="1.68" fill="none" />
<path d="M917.6,207.0 L917.7,209.7 " stroke="#111" stroke-width="1.68" fill="none" />
<path d="M907.5,204.9 L910.2,205.9 " stroke="#111" stroke-width="2.69" fill="none" />
<path d="M912.8,204.6 L915.3,204.9 " stroke="#111" stroke-width="2.69" fill="none" />
<path d="M918.6,203.4 L923.4,204.4 " stroke="#111" stroke-width="2.91" fill="none" />
<path d="M910.2,216.8 L921.4,215.2 L921.5,217.5 L916.6,218.0 L916.6,221.6 L920.6,221.2 L920.6,224.9 L910.2,223.3 Z" stroke="#111" stroke-width="2.02" fill="none" />
<path d="M910.5,217.0 L915.3,216.5 L915.3,222.6 L910.5,222.3 Z" stroke="#111" stroke-width="1.34" fill="#666" />
<path d="M905.7,227.4 L922.9,225.1 " stroke="#111" stroke-width="3.36" fill="none" />
</g>
<g>
<ellipse cx="907.5" cy="281.4" rx="7" ry="13.3" stroke="#111" stroke-width="2.46" fill="#fff" transform="rotate(-12 907.5 281.4)"/>
</g>
<g id="arm">
<g transform="rotate(-9.5 77.3 617.9)">
<path d="M77.3,607.3 L83.6,607.3 A5.9,10.6 0 0 1 83.6,628.5 L77.3,628.5 A5.9,10.6 0 0 1 77.3,607.3Z" stroke="#111" stroke-width="1.46" fill="#fff" />
<ellipse cx="77.3" cy="617.9" rx="5.9" ry="10.6" stroke="#111" stroke-width="1.3" fill="#fff"/>
</g>
<ellipse cx="77.6" cy="617.9" rx="1.5" ry="3" stroke="#111" stroke-width="1.34" fill="none" transform="rotate(-9.5 77.6 617.9)"/>
<g transform="rotate(-9.5 229 592.2)">
<path d="M229,589 L235,589 A1.3,3.2 0 0 1 235,595.4 L229,595.4 A1.3,3.2 0 0 1 229,589Z" stroke="#111" stroke-width="1.34" fill="#fff" />
<ellipse cx="229" cy="592.2" rx="1.3" ry="3.2" stroke="#111" stroke-width="1.2" fill="#fff"/>
</g>
<g transform="rotate(-9.5 209 595.3)">
<path d="M209,583.1 L229,583.1 A4.4,12.2 0 0 1 229,607.5 L209,607.5 A4.4,12.2 0 0 1 209,583.1Z" stroke="#111" stroke-width="1.46" fill="#fff" />
<ellipse cx="209" cy="595.3" rx="4.4" ry="12.2" stroke="#111" stroke-width="1.3" fill="#fff"/>
</g>
<g transform="rotate(-9.5 209 595.3)">
<rect x="213" y="583.31391" width="15" height="24" fill="#222"/>
<line x1="213" y1="584.8" x2="228" y2="584.8" stroke="#ddd" stroke-width="0.8" stroke-linecap="butt"/>
<line x1="213" y1="588.3" x2="228" y2="588.3" stroke="#ddd" stroke-width="0.8" stroke-linecap="butt"/>
<line x1="213" y1="591.8" x2="228" y2="591.8" stroke="#ddd" stroke-width="0.8" stroke-linecap="butt"/>
<line x1="213" y1="595.3" x2="228" y2="595.3" stroke="#ddd" stroke-width="0.8" stroke-linecap="butt"/>
<line x1="213" y1="598.8" x2="228" y2="598.8" stroke="#ddd" stroke-width="0.8" stroke-linecap="butt"/>
<line x1="213" y1="602.3" x2="228" y2="602.3" stroke="#ddd" stroke-width="0.8" stroke-linecap="butt"/>
<line x1="213" y1="605.8" x2="228" y2="605.8" stroke="#ddd" stroke-width="0.8" stroke-linecap="butt"/>
<path d="M228,583.1139099999999 A4.4,12.2 0 0 1 228,607.51391" stroke="#111" stroke-width="1.34" fill="none" />
</g>
<g transform="rotate(-9.5 200 597)">
<path d="M200,582.5 L210,582.5 A5.2,14.5 0 0 1 210,611.5 L200,611.5 A5.2,14.5 0 0 1 200,582.5Z" stroke="#111" stroke-width="1.34" fill="#fff" />
<ellipse cx="200" cy="597" rx="5.2" ry="14.5" stroke="#111" stroke-width="1.2" fill="#fff"/>
</g>
<g transform="rotate(-9.5 160 603.8)">
<path d="M160,584.6312099999999 L198,584.6312099999999 C204,584.6312099999999 206,595.8312099999999 206,603.8312099999999 C206,611.8312099999999 204,623.03121 198,623.03121 L160,623.03121 C154,623.03121 152,611.8312099999999 152,603.8312099999999 C152,595.8312099999999 154,584.6312099999999 160,584.6312099999999Z" stroke="#111" stroke-width="1.57" fill="#fff" />
<path d="M169,584.6312099999999 A7,19.2 0 0 1 169,623.03121" stroke="#111" stroke-width="1.34" fill="none" />
<path d="M198,584.6312099999999 A7,19.2 0 0 1 198,623.03121" stroke="#111" stroke-width="1.12" fill="none" />
<line x1="173.4" y1="588.8" x2="202.4" y2="588.8" stroke="#111" stroke-width="2.2" stroke-linecap="butt"/>
<line x1="175.4" y1="595.8" x2="204.4" y2="595.8" stroke="#111" stroke-width="1.2" stroke-linecap="butt"/>
<line x1="176" y1="601.8" x2="205" y2="601.8" stroke="#111" stroke-width="2.4" stroke-linecap="butt"/>
<line x1="175.6" y1="609.8" x2="204.6" y2="609.8" stroke="#111" stroke-width="1.2" stroke-linecap="butt"/>
<line x1="174.3" y1="616.3" x2="203.3" y2="616.3" stroke="#111" stroke-width="2.4" stroke-linecap="butt"/>
<line x1="172.3" y1="620.8" x2="201.3" y2="620.8" stroke="#111" stroke-width="1.0" stroke-linecap="butt"/>
<path d="M152,599.3312099999999 L166,599.3312099999999 A2,4.5 0 0 1 166,608.3312099999999 L152,608.3312099999999" stroke="#111" stroke-width="1.34" fill="#fff" />
</g>
<g transform="rotate(-9.5 127.5 610.6)">
<path d="M127.5,574.6 A15.8,36 0 0 1 127.5,646.6 L137.0,646.6 A15.8,36 0 0 0 137.0,574.6Z" stroke="#111" stroke-width="1.12" fill="#fff" />
<line x1="127.5" y1="574.6" x2="137" y2="574.6" stroke="#111" stroke-width="2.4" stroke-linecap="butt"/>
<line x1="129.3" y1="574.8" x2="138.8" y2="574.8" stroke="#111" stroke-width="2.4" stroke-linecap="butt"/>
<line x1="131.1" y1="575.6" x2="140.6" y2="575.6" stroke="#111" stroke-width="2.4" stroke-linecap="butt"/>
<line x1="132.9" y1="576.8" x2="142.4" y2="576.8" stroke="#111" stroke-width="2.4" stroke-linecap="butt"/>
<line x1="134.6" y1="578.4" x2="144.1" y2="578.4" stroke="#111" stroke-width="2.4" stroke-linecap="butt"/>
<line x1="136.2" y1="580.5" x2="145.7" y2="580.5" stroke="#111" stroke-width="2.4" stroke-linecap="butt"/>
<line x1="137.7" y1="583" x2="147.2" y2="583" stroke="#111" stroke-width="2.4" stroke-linecap="butt"/>
<line x1="139" y1="585.9" x2="148.5" y2="585.9" stroke="#111" stroke-width="2.4" stroke-linecap="butt"/>
<line x1="140.2" y1="589.1" x2="149.7" y2="589.1" stroke="#111" stroke-width="2.4" stroke-linecap="butt"/>
<line x1="141.2" y1="592.6" x2="150.7" y2="592.6" stroke="#111" stroke-width="2.4" stroke-linecap="butt"/>
<line x1="142" y1="596.3" x2="151.5" y2="596.3" stroke="#111" stroke-width="2.4" stroke-linecap="butt"/>
<line x1="142.6" y1="600.3" x2="152.1" y2="600.3" stroke="#111" stroke-width="2.4" stroke-linecap="butt"/>
<line x1="143.1" y1="604.3" x2="152.6" y2="604.3" stroke="#111" stroke-width="2.4" stroke-linecap="butt"/>
<line x1="143.3" y1="608.5" x2="152.8" y2="608.5" stroke="#111" stroke-width="2.4" stroke-linecap="butt"/>
<line x1="143.3" y1="612.7" x2="152.8" y2="612.7" stroke="#111" stroke-width="2.4" stroke-linecap="butt"/>
<line x1="143.1" y1="616.9" x2="152.6" y2="616.9" stroke="#111" stroke-width="2.4" stroke-linecap="butt"/>
<line x1="142.6" y1="620.9" x2="152.1" y2="620.9" stroke="#111" stroke-width="2.4" stroke-linecap="butt"/>
<line x1="142" y1="624.9" x2="151.5" y2="624.9" stroke="#111" stroke-width="2.4" stroke-linecap="butt"/>
<line x1="141.2" y1="628.6" x2="150.7" y2="628.6" stroke="#111" stroke-width="2.4" stroke-linecap="butt"/>
<line x1="140.2" y1="632.1" x2="149.7" y2="632.1" stroke="#111" stroke-width="2.4" stroke-linecap="butt"/>
<line x1="139" y1="635.3" x2="148.5" y2="635.3" stroke="#111" stroke-width="2.4" stroke-linecap="butt"/>
<line x1="137.7" y1="638.2" x2="147.2" y2="638.2" stroke="#111" stroke-width="2.4" stroke-linecap="butt"/>
<line x1="136.2" y1="640.7" x2="145.7" y2="640.7" stroke="#111" stroke-width="2.4" stroke-linecap="butt"/>
<line x1="134.6" y1="642.8" x2="144.1" y2="642.8" stroke="#111" stroke-width="2.4" stroke-linecap="butt"/>
<line x1="132.9" y1="644.4" x2="142.4" y2="644.4" stroke="#111" stroke-width="2.4" stroke-linecap="butt"/>
<line x1="131.1" y1="645.6" x2="140.6" y2="645.6" stroke="#111" stroke-width="2.4" stroke-linecap="butt"/>
<line x1="129.3" y1="646.4" x2="138.8" y2="646.4" stroke="#111" stroke-width="2.4" stroke-linecap="butt"/>
<line x1="127.5" y1="646.6" x2="137" y2="646.6" stroke="#111" stroke-width="2.4" stroke-linecap="butt"/>
<path d="M137.0,574.6 A15.8,36 0 0 1 137.0,646.6" stroke="#111" stroke-width="1.12" fill="none" />
</g>
<ellipse cx="127.5" cy="610.6" rx="15.8" ry="36" stroke="#111" stroke-width="1.68" fill="#fff" transform="rotate(-9.5 127.5 610.6)"/>
<ellipse cx="128.5" cy="610.6" rx="11.8" ry="28" stroke="#111" stroke-width="1.23" fill="none" transform="rotate(-9.5 128.5 610.6)"/>
<ellipse cx="129.1" cy="610.9" rx="9.6" ry="22.5" stroke="#111" stroke-width="1.46" fill="none" transform="rotate(-9.5 129.1 610.9)"/>
<ellipse cx="129.5" cy="611.1" rx="7.6" ry="17.5" stroke="#111" stroke-width="1.12" fill="none" transform="rotate(-9.5 129.5 611.1)"/>
<ellipse cx="129.9" cy="611.2" rx="5.6" ry="12.5" stroke="#111" stroke-width="1.79" fill="none" transform="rotate(-9.5 129.9 611.2)"/>
<ellipse cx="129.9" cy="611.4" rx="4" ry="8.6" stroke="#111" stroke-width="1.12" fill="#fff" transform="rotate(-9.5 129.9 611.4)"/>
<path d="M101.2,611.9 L105.5,608.3 L120.3,606.9 L123.4,608.3 L123.9,615.8 L121.3,618.3 L106.5,620.4 L102.3,617.9 Z" stroke="#111" stroke-width="1.68" fill="#fff" />
<path d="M105.5,608.3 L106.9,613.6 L106.5,620.4 " stroke="#111" stroke-width="1.23" fill="none" />
<path d="M106.9,613.6 L122.4,611.9 " stroke="#111" stroke-width="1.23" fill="none" />
<path d="M120.3,606.9 L121.7,611.9 L121.3,618.3 " stroke="#111" stroke-width="1.12" fill="none" />
<ellipse cx="126.6" cy="611.9" rx="3.4" ry="6.4" stroke="#111" stroke-width="1.79" fill="#fff" transform="rotate(-9.5 126.6 611.9)"/>
<path d="M123.4,607.3 L128.1,606.4 " stroke="#111" stroke-width="1.34" fill="none" />
<path d="M123.9,616.8 L128.1,617.9 " stroke="#111" stroke-width="1.34" fill="none" />
<g transform="rotate(-9.5 251.4 588.7)">
<path d="M251.4,578.1 L257.4,578.1 A5.5,10.6 0 0 1 257.4,599.3 L251.4,599.3 A5.5,10.6 0 0 1 251.4,578.1Z" stroke="#111" stroke-width="1.46" fill="#fff" />
<ellipse cx="251.4" cy="588.7" rx="5.5" ry="10.6" stroke="#111" stroke-width="1.3" fill="#fff"/>
</g>
<ellipse cx="251.7" cy="588.7" rx="1.4" ry="2.8" stroke="#111" stroke-width="1.34" fill="none" transform="rotate(-9.5 251.7 588.7)"/>
</g>
<g id="low2">
<path d="M278.4,554.6 L285.5,551.7 L298.0,550.8 L298.4,555.5 L301.8,557.9 L303.7,555.5 L304.2,562.7 C309.9,566.5 315.1,573.2 314.7,580.8 C314.5,592.3 311.8,599.9 307.0,608.5 L308.0,611.4 L302.7,612.8 L301.8,609.5 L298.0,609.0 L296.5,613.3 L292.7,613.8 L290.8,608.5 L286.5,605.2 L284.6,607.6 L283.1,598.0 C279.3,588.5 276.9,578.0 276.5,571.3 L275.5,562.7 L277.4,563.7 L280.8,559.4 Z" stroke="#111" stroke-width="1.68" fill="#fff" />
<ellipse cx="295.1" cy="581.8" rx="14.6" ry="23.6" stroke="#111" stroke-width="1.34" fill="none" transform="rotate(-10 295.1 581.8)"/>
<ellipse cx="297" cy="581.8" rx="11.2" ry="18.4" stroke="#111" stroke-width="1.34" fill="none" transform="rotate(-10 297 581.8)"/>
<ellipse cx="298.6" cy="581.6" rx="8.4" ry="14.6" stroke="#111" stroke-width="2.24" fill="#fff" transform="rotate(-10 298.6 581.6)"/>
<ellipse cx="299.4" cy="581.6" rx="6.8" ry="12.6" stroke="#111" stroke-width="1.12" fill="none" transform="rotate(-10 299.4 581.6)"/>
<path d="M304.2,562.7 C307.5,571.3 308.0,584.7 307.0,596.1 " stroke="#111" stroke-width="1.79" fill="none" />
<path d="M306.1,566.5 C310.8,575.1 311.8,588.5 309.9,599.9 " stroke="#111" stroke-width="1.12" fill="none" />
<g transform="rotate(-5 307.3 539.3)">
<path d="M310.2922393740748,537.6317826178896 L324.2922393740748,537.6317826178896 L328.2922393740748,539.3317826178896 L324.2922393740748,541.0317826178897 L310.2922393740748,541.0317826178897Z" stroke="#111" stroke-width="1.12" fill="#333" />
<ellipse cx="308.2922393740748" cy="539.3317826178896" rx="2" ry="3.4" fill="#fff" stroke="#111" stroke-width="1.4"/>
<ellipse cx="309.89223937407485" cy="539.3317826178896" rx="1.6" ry="3" fill="#fff" stroke="#111" stroke-width="1.1"/>
</g>
<path d="M348.8,532.7 L387.0,526.9 C391.5,527.8 395.9,531.1 397.6,535.0 C404.8,536.6 412.5,544.4 414.2,556.6 C414.7,566.5 411.4,575.4 406.4,580.4 L404.8,587.6 C402.5,593.1 400.3,596.4 397.0,598.1 L361.6,605.1 C356.0,602.5 352.7,598.1 351.6,595.3 C341.6,590.9 332.8,579.8 332.8,566.5 C332.8,558.8 336.1,553.2 340.5,551.6 C341.6,544.4 344.9,536.6 348.8,532.7 Z" stroke="#111" stroke-width="1.68" fill="#fff" />
<line x1="352.7" y1="532" x2="407.5" y2="520.6" stroke="#222" stroke-width="1.7" stroke-linecap="butt"/>
<line x1="387" y1="530.5" x2="415.3" y2="526.9" stroke="#222" stroke-width="1.7" stroke-linecap="butt"/>
<line x1="402.5" y1="589.2" x2="426.9" y2="584.8" stroke="#222" stroke-width="1.7" stroke-linecap="butt"/>
<line x1="371.5" y1="602.5" x2="420.8" y2="594.4" stroke="#222" stroke-width="1.7" stroke-linecap="butt"/>
<path d="M348.8,532.7 C361.6,534.4 371.5,553.2 377.1,573.2 C379.3,586.5 374.9,599.8 369.3,603.3 " stroke="#111" stroke-width="1.46" fill="none" />
<path d="M353.2,536.6 C362.7,538.8 369.3,553.2 373.7,572.1 C375.4,584.3 372.6,595.3 368.8,599.8 " stroke="#111" stroke-width="1.12" fill="none" />
<path d="M387.0,526.9 C395.9,533.3 402.5,553.2 404.8,568.7 C405.9,577.6 405.3,584.3 404.8,587.6 " stroke="#111" stroke-width="1.34" fill="none" />
<path d="M369.3,540.6 L397.6,535.0 " stroke="#111" stroke-width="1.23" fill="none" />
<path d="M372.9,552.3 L401.4,546.6 " stroke="#111" stroke-width="2.91" fill="none" />
<path d="M375.4,562.3 L403.4,556.8 " stroke="#111" stroke-width="2.91" fill="none" />
<path d="M380.4,574.5 L405.3,569.3 " stroke="#111" stroke-width="1.23" fill="none" />
<path d="M340.5,551.6 C335.0,555.4 332.8,561.0 332.8,566.5 C332.8,579.8 341.6,590.9 351.6,595.3 " stroke="#111" stroke-width="1.68" fill="none" />
<path d="M343.3,553.2 C338.3,557.7 336.1,562.1 336.1,567.6 C336.6,578.7 343.8,587.6 352.7,592.0 " stroke="#111" stroke-width="1.23" fill="none" />
<path d="M352.7,540.5 C361.6,548.8 367.1,564.3 368.2,577.6 C368.4,583.1 367.6,587.6 366.5,590.9 " stroke="#111" stroke-width="1.57" fill="none" />
<path d="M349.9,543.8 C358.2,552.1 362.7,564.3 363.8,575.4 C364.0,579.8 363.6,584.3 362.7,586.5 " stroke="#111" stroke-width="1.23" fill="none" />
<path d="M348.8,547.7 L346.0,553.2 L345.5,563.2 L347.2,564.3 L347.7,556.6 " stroke="#111" stroke-width="1.34" fill="none" />
<path d="M347.2,564.3 C349.4,575.4 353.8,584.3 361.6,587.6 " stroke="#111" stroke-width="1.23" fill="none" />
<path d="M352.7,592.0 L358.2,596.4 L359.3,592.0 L363.2,590.9 " stroke="#111" stroke-width="1.34" fill="none" />
<path d="M349.9,586.5 L361.6,590.9 L371.5,587.6 L371.5,589.8 L361.6,592.6 Z" stroke="#111" stroke-width="1.12" fill="#444" />
<circle cx="352.1" cy="536.6" r="1.1" stroke="#111" stroke-width="0.9" fill="#111"/>
<circle cx="346" cy="541.6" r="1.1" stroke="#111" stroke-width="0.9" fill="#111"/>
<circle cx="365.4" cy="600.3" r="1.1" stroke="#111" stroke-width="0.9" fill="#111"/>
<circle cx="371" cy="595.9" r="1.1" stroke="#111" stroke-width="0.9" fill="#111"/>
<circle cx="367.1" cy="593.7" r="1.1" stroke="#111" stroke-width="0.9" fill="#111"/>
<path d="M348.8,532.7 L344.9,538.8 L341.6,548.8 " stroke="#111" stroke-width="1.34" fill="none" />
<path d="M351.6,595.3 L357.1,602.0 L361.6,605.1 " stroke="#111" stroke-width="0.0" fill="none" />
<path d="M363.2,590.9 L369.3,593.1 L371.5,599.8 L369.3,603.3 " stroke="#111" stroke-width="1.23" fill="none" />
<circle cx="410.5" cy="518.6" r="4.2" stroke="#111" stroke-width="1.23" fill="#fff"/>
<text x="410.5" y="521.3" font-family="Liberation Sans" font-weight="bold" font-size="7.5" text-anchor="middle" fill="#111" filter="url(#nf)">A</text>
<circle cx="418.3" cy="527.1" r="4.2" stroke="#111" stroke-width="1.23" fill="#fff"/>
<text x="418.3" y="529.8" font-family="Liberation Sans" font-weight="bold" font-size="7.5" text-anchor="middle" fill="#111" filter="url(#nf)">C</text>
<circle cx="431" cy="583.5" r="4.2" stroke="#111" stroke-width="1.23" fill="#fff"/>
<text x="431.0" y="586.2" font-family="Liberation Sans" font-weight="bold" font-size="7.5" text-anchor="middle" fill="#111" filter="url(#nf)">B</text>
<circle cx="423.6" cy="594.1" r="4.2" stroke="#111" stroke-width="1.23" fill="#fff"/>
<text x="423.6" y="596.8" font-family="Liberation Sans" font-weight="bold" font-size="7.5" text-anchor="middle" fill="#111" filter="url(#nf)">D</text>
<g transform="rotate(-9.5 440.5 557.1)">
<path d="M440.5127934024107,536.0945231550011 L453.5127934024107,536.0945231550011 C459.5127934024107,538.0945231550011 463.5127934024107,547.0945231550011 463.5127934024107,551.0945231550011 L465.5127934024107,552.0945231550011 L465.5127934024107,563.0945231550011 L463.5127934024107,564.0945231550011 C463.5127934024107,569.0945231550011 459.5127934024107,576.0945231550011 453.5127934024107,578.0945231550011 L440.5127934024107,578.0945231550011Z" stroke="#111" stroke-width="1.46" fill="#fff" />
<path d="M453.5127934024107,536.0945231550011 A11,21 0 0 1 453.5127934024107,578.0945231550011" stroke="#111" stroke-width="0.0" fill="none" />
</g>
<ellipse cx="440.5" cy="557.1" rx="11.6" ry="21" stroke="#111" stroke-width="1.79" fill="#fff" transform="rotate(-9.5 440.5 557.1)"/>
<ellipse cx="441.5" cy="557.1" rx="9.6" ry="18" stroke="#111" stroke-width="1.23" fill="none" transform="rotate(-9.5 441.5 557.1)"/>
<ellipse cx="443.5" cy="557.1" rx="7.6" ry="14.6" stroke="#111" stroke-width="1.46" fill="none" transform="rotate(-9.5 443.5 557.1)"/>
<ellipse cx="445.5" cy="556.8" rx="5.6" ry="11" stroke="#111" stroke-width="1.01" fill="none" transform="rotate(-9.5 445.5 556.8)"/>
</g>
<g id="h62">
<path d="M581.8,524.5 L592.5,522.4 L598.9,528.8 L598.9,545.9 L590.4,549.1 L581.8,549.1 Z" stroke="#111" stroke-width="1.46" fill="#fff" />
<path d="M582.9,526.7 L594.7,525.0 L598.5,528.4 " stroke="#111" stroke-width="1.79" fill="none" />
<path d="M582.9,530.9 L594.7,529.2 L598.5,532.6 " stroke="#111" stroke-width="1.79" fill="none" />
<path d="M582.9,535.2 L594.7,533.5 L598.5,536.9 " stroke="#111" stroke-width="1.79" fill="none" />
<path d="M582.9,539.5 L594.7,537.8 L598.5,541.2 " stroke="#111" stroke-width="1.79" fill="none" />
<path d="M582.9,543.8 L594.7,542.1 L598.5,545.5 " stroke="#111" stroke-width="1.79" fill="none" />
<path d="M564.7,571.5 L569.0,591.8 L572.2,599.3 L575.4,605.7 L580.1,630.3 C575.4,634.6 570.1,638.8 568.6,644.2 L571.6,654.9 L577.1,662.8 L605.3,663.6 L603.6,643.1 L600.0,613.2 L597.9,601.5 L592.9,592.9 L591.7,585.9 C596.8,581.2 598.9,576.9 597.2,571.5 L594.7,559.8 L586.1,555.1 L575.4,566.2 Z" stroke="#111" stroke-width="1.68" fill="#fff" />
<path d="M580.1,630.3 C586.1,634.6 594.7,632.4 601.1,627.7 " stroke="#111" stroke-width="1.34" fill="none" />
<path d="M581.8,568.3 C588.2,574.7 590.4,585.4 591.5,596.1 L594.7,604.7 L597.9,621.8 L601.1,643.1 L602.8,662.4 " stroke="#111" stroke-width="1.12" fill="none" />
<path d="M568.6,644.2 C575.4,649.5 586.1,649.5 594.7,644.2 L603.2,638.8 " stroke="#111" stroke-width="1.34" fill="none" />
<path d="M594.7,644.2 L600.0,662.8 " stroke="#111" stroke-width="1.12" fill="none" />
<path d="M571.6,654.9 C577.6,653.8 584.0,650.6 588.2,651.7 " stroke="#111" stroke-width="1.12" fill="none" />
<ellipse cx="581.2" cy="656.4" rx="4.2" ry="3.6" stroke="#111" stroke-width="1.68" fill="#fff" transform="rotate(-20 581.2 656.4)"/>
<ellipse cx="581.2" cy="656.4" rx="2.4" ry="2" stroke="#111" stroke-width="1.12" fill="none" transform="rotate(-20 581.2 656.4)"/>
<path d="M586.1,653.8 L591.5,661.3 " stroke="#111" stroke-width="1.79" fill="none" />
<path d="M565.8,573.0 L575.0,576.9 L580.1,598.2 L571.6,596.1 L567.9,585.4 Z" stroke="#111" stroke-width="1.68" fill="#fff" />
<path d="M569.0,576.9 L573.7,579.0 L575.4,586.5 L571.2,585.4 Z" stroke="#111" stroke-width="1.46" fill="#555" />
<path d="M571.6,588.0 L576.3,589.7 L577.6,596.1 L572.9,594.4 Z" stroke="#111" stroke-width="1.46" fill="#555" />
<path d="M591.7,585.9 L595.7,591.8 L598.9,596.1 L597.9,601.5 " stroke="#111" stroke-width="1.34" fill="none" />
<path d="M592.9,592.9 L590.4,589.7 L591.7,585.9 " stroke="#111" stroke-width="2.24" fill="none" />
<path d="M487.8,507.4 L554.1,498.9 L566.9,496.8 L581.8,508.9 L582.9,555.5 L575.4,566.2 L560.5,571.5 L535.9,574.7 L531.0,577.3 L515.2,579.4 L510.3,586.9 L487.8,570.9 L483.5,559.8 L484.6,517.1 Z" stroke="#111" stroke-width="1.79" fill="#fff" />
<path d="M551.9,499.1 L566.9,496.8 L581.8,508.9 L564.7,510.2 Z" stroke="#111" stroke-width="1.34" fill="#222" />
<path d="M554.5,500.0 L569.0,497.8 " stroke="#bbb" stroke-width="0.78" fill="none" />
<path d="M557.5,502.1 L572.0,500.2 " stroke="#bbb" stroke-width="0.78" fill="none" />
<path d="M560.5,504.2 L575.0,502.5 " stroke="#bbb" stroke-width="0.78" fill="none" />
<path d="M563.5,506.4 L578.0,504.9 " stroke="#bbb" stroke-width="0.78" fill="none" />
<path d="M510.3,517.1 L532.7,513.8 L560.5,508.9 L564.7,510.2 L581.8,511.1 " stroke="#111" stroke-width="1.46" fill="none" />
<path d="M488.1,509.1 C498.2,509.6 508.4,517.2 514.4,526.3 L515.6,530.4 L513.2,584.0 L508.4,585.6 L488.1,573.1 C485.6,568.8 484.1,562.7 484.1,556.7 L485.1,520.2 C485.3,515.2 486.3,511.1 488.1,509.1 Z" stroke="#111" stroke-width="2.46" fill="none" />
<path d="M488.1,509.1 C499.2,508.6 511.4,516.2 517.0,527.3 L517.7,531.4 L515.2,584.8 L513.2,584.0 " stroke="#111" stroke-width="1.34" fill="none" />
<path d="M488.1,511.1 L493.2,523.5 L501.5,521.8 L501.5,515.2 " stroke="#111" stroke-width="1.79" fill="none" />
<path d="M493.2,523.5 L486.9,526.5 " stroke="#111" stroke-width="1.57" fill="none" />
<path d="M487.6,527.8 L512.9,523.5 " stroke="#111" stroke-width="2.46" fill="none" />
<path d="M502.3,523.1 L511.6,537.6 " stroke="#111" stroke-width="1.68" fill="none" />
<path d="M508.4,525.8 L511.9,532.6 " stroke="#111" stroke-width="1.34" fill="none" />
<path d="M505.3,524.3 L512.9,529.3 " stroke="#111" stroke-width="1.12" fill="none" />
<path d="M489.1,515.2 L491.7,514.2 L493.2,520.2 L490.1,521.8 Z" stroke="#111" stroke-width="1.23" fill="none" />
<path d="M486.1,559.9 L512.6,552.6 " stroke="#111" stroke-width="2.24" fill="none" />
<path d="M488.1,562.9 L496.2,560.7 L498.2,565.8 L491.2,568.0 Z" stroke="#111" stroke-width="1.34" fill="none" />
<path d="M489.9,570.0 L512.6,563.7 " stroke="#111" stroke-width="1.57" fill="none" />
<path d="M493.2,575.1 L511.9,570.0 " stroke="#111" stroke-width="1.34" fill="none" />
<path d="M501.8,555.4 L505.8,554.4 L506.3,557.5 L502.3,558.5 Z" stroke="#111" stroke-width="1.34" fill="none" />
<path d="M508.4,554.1 L511.9,553.3 L511.9,558.2 L509.4,559.2 " stroke="#111" stroke-width="1.23" fill="none" />
<path d="M498.2,577.9 L502.3,576.9 L503.3,580.9 " stroke="#111" stroke-width="1.46" fill="none" />
<path d="M506.8,579.9 L508.4,577.9 L510.4,578.9 L510.2,584.0 " stroke="#111" stroke-width="2.02" fill="none" />
<path d="M486.1,564.8 L489.1,570.8 " stroke="#111" stroke-width="1.34" fill="none" />
<path d="M486.6,512.1 L488.1,525.3 " stroke="#111" stroke-width="1.34" fill="none" />
<path d="M531.6,521.3 C532.3,516.0 535.9,515.3 541.2,514.9 L580.8,511.9 " stroke="#111" stroke-width="1.46" fill="none" />
<path d="M531.6,521.3 C531.6,534.1 533.8,544.8 541.2,545.3 L566.9,540.1 C573.3,539.5 575.4,541.6 575.4,547.0 L575.4,558.7 C575.0,564.1 572.2,565.8 567.9,566.2 L515.6,575.2 " stroke="#111" stroke-width="1.46" fill="none" />
<path d="M515.6,551.2 L539.1,545.5 " stroke="#111" stroke-width="1.34" fill="none" />
<path d="M515.2,579.4 L531.0,574.7 L535.9,572.2 L560.5,569.4 " stroke="#111" stroke-width="1.01" fill="none" />
</g>
<g id="low4">
<path d="M646.0,491.9 C648.5,480.0 662.1,478.8 664.6,491.1 L664.6,496.3 " stroke="#111" stroke-width="1.46" fill="none" />
<path d="M638.6,493.6 L651.0,489.9 L652.2,515.9 L639.8,519.6 Z" stroke="#111" stroke-width="1.46" fill="#fff" />
<path d="M643.6,492.4 L644.5,518.3 " stroke="#111" stroke-width="1.12" fill="none" />
<path d="M663.1,496.3 L666.6,496.3 L666.6,503.5 L663.1,503.5 Z" stroke="#111" stroke-width="1.46" fill="#fff" />
<g transform="rotate(160 694.3 491.1)">
<path d="M696.2726373082633,489.3331024245423 L707.2726373082633,489.6331024245423 L710.2726373082633,491.1331024245423 L707.2726373082633,492.6331024245423 L696.2726373082633,492.9331024245423Z" stroke="#111" stroke-width="1.12" fill="#333" />
<line x1="697.8" y1="488.8" x2="698.6" y2="493.4" stroke="#111" stroke-width="0.9" stroke-linecap="butt"/>
<line x1="700" y1="488.8" x2="700.8" y2="493.4" stroke="#111" stroke-width="0.9" stroke-linecap="butt"/>
<line x1="702.2" y1="488.8" x2="703" y2="493.4" stroke="#111" stroke-width="0.9" stroke-linecap="butt"/>
<line x1="704.4" y1="488.8" x2="705.2" y2="493.4" stroke="#111" stroke-width="0.9" stroke-linecap="butt"/>
<line x1="706.6" y1="488.8" x2="707.4" y2="493.4" stroke="#111" stroke-width="0.9" stroke-linecap="butt"/>
<ellipse cx="695.6726373082632" cy="491.1331024245423" rx="1.6" ry="3.3" fill="#fff" stroke="#111" stroke-width="1.2"/>
<ellipse cx="693.9726373082633" cy="491.1331024245423" rx="1.9" ry="3.7" fill="#fff" stroke="#111" stroke-width="1.4"/>
<ellipse cx="693.7726373082633" cy="491.1331024245423" rx="0.8" ry="1.8" fill="#111"/>
</g>
<path d="M662.1,536.4 C669.5,529.5 683.1,533.2 681.4,546.3 " stroke="#111" stroke-width="1.57" fill="none" />
<path d="M662.1,540.6 C668.3,535.7 677.4,537.4 677.0,544.8 " stroke="#111" stroke-width="1.34" fill="none" />
<path d="M662.6,544.8 C667.1,540.6 673.2,541.4 673.5,546.8 " stroke="#111" stroke-width="1.34" fill="none" />
<path d="M647.8,540.6 L655.9,535.7 L657.2,562.9 L649.7,566.6 L647.8,564.1 Z" stroke="#111" stroke-width="1.57" fill="#fff" />
<path d="M649.7,542.3 L649.7,566.6 " stroke="#111" stroke-width="1.12" fill="none" />
<path d="M655.9,535.7 L662.1,536.4 L662.1,561.6 L657.2,562.9 " stroke="#111" stroke-width="1.46" fill="#fff" />
<path d="M681.4,546.3 L664.6,554.2 L670.8,557.2 L668.5,555.2 L687.3,561.6 " stroke="#111" stroke-width="1.46" fill="none" />
<path d="M662.1,554.2 L674.5,560.4 L687.3,561.6 " stroke="#111" stroke-width="1.23" fill="none" />
<circle cx="697.2" cy="559.7" r="6.7" stroke="#111" stroke-width="1.46" fill="#fff"/>
<text x="697.2" y="563.3" font-family="Liberation Sans" font-weight="bold" font-size="10" text-anchor="middle" fill="#111" filter="url(#nf)">E</text>
<path d="M684.4,628.4 C685.6,642.0 699.2,644.5 704.2,634.6 " stroke="#111" stroke-width="1.57" fill="none" />
<path d="M686.9,630.9 C688.8,638.3 696.7,640.3 700.5,634.6 " stroke="#111" stroke-width="1.23" fill="none" />
<path d="M689.8,632.2 C691.3,635.9 695.5,637.1 697.2,633.9 " stroke="#111" stroke-width="1.12" fill="none" />
<path d="M669.5,612.4 L678.2,609.9 L684.4,614.8 L683.9,637.1 L678.2,642.0 L669.5,637.1 Z" stroke="#111" stroke-width="1.57" fill="#fff" />
<path d="M672.5,613.6 L672.5,638.3 " stroke="#111" stroke-width="1.12" fill="none" />
<path d="M678.2,609.9 L678.2,642.0 " stroke="#111" stroke-width="1.23" fill="none" />
<path d="M707.9,616.1 L688.1,621.0 L691.8,623.5 L686.9,628.4 L704.2,629.9 L704.2,634.6 " stroke="#111" stroke-width="1.46" fill="none" />
<path d="M684.4,614.8 L707.9,616.1 " stroke="#111" stroke-width="1.34" fill="none" />
<circle cx="707.4" cy="606.2" r="6.7" stroke="#111" stroke-width="1.46" fill="#fff"/>
<text x="707.4" y="609.8" font-family="Liberation Sans" font-weight="bold" font-size="10" text-anchor="middle" fill="#111" filter="url(#nf)">F</text>
<path d="M668.3,686.6 C669.5,699.0 683.1,700.2 685.6,681.6 " stroke="#111" stroke-width="1.34" fill="none" />
<path d="M660.9,659.4 L673.2,661.8 L674.0,686.6 L661.6,684.1 Z" stroke="#111" stroke-width="1.46" fill="#fff" />
<path d="M664.6,660.1 L665.3,684.8 " stroke="#111" stroke-width="1.12" fill="none" />
<path d="M683.9,674.2 L687.3,674.2 L687.3,681.6 L683.9,681.6 Z" stroke="#111" stroke-width="1.46" fill="#fff" />
</g>
<g id="w66">
<circle cx="557.7" cy="769.6" r="7" stroke="#111" stroke-width="1.46" fill="#fff"/>
<text x="557.7" y="773.4" font-family="Liberation Sans" font-weight="bold" font-size="10.5" text-anchor="middle" fill="#111" filter="url(#nf)">A</text>
<circle cx="557.7" cy="815.2" r="7" stroke="#111" stroke-width="1.46" fill="#fff"/>
<text x="557.7" y="819.0" font-family="Liberation Sans" font-weight="bold" font-size="10.5" text-anchor="middle" fill="#111" filter="url(#nf)">D</text>
<circle cx="722.6" cy="769.9" r="7" stroke="#111" stroke-width="1.46" fill="#fff"/>
<text x="722.6" y="773.7" font-family="Liberation Sans" font-weight="bold" font-size="10.5" text-anchor="middle" fill="#111" filter="url(#nf)">E</text>
<circle cx="722.6" cy="813.9" r="7" stroke="#111" stroke-width="1.46" fill="#fff"/>
<text x="722.6" y="817.7" font-family="Liberation Sans" font-weight="bold" font-size="10.5" text-anchor="middle" fill="#111" filter="url(#nf)">F</text>
<path d="M566.5,771.6 L626,771.6 C634,772 638,780 638.5,788" stroke="#111" stroke-width="2.69" fill="none" />
<path d="M566.5,771.6 L626,771.6 C634,772 638,780 638.5,788" stroke="#fff" stroke-width="0.9" fill="none" />
<path d="M566.5,815.2 L626,815.2 C634,815 638,806 638.5,798" stroke="#111" stroke-width="2.69" fill="none" />
<path d="M566.5,815.2 L626,815.2 C634,815 638,806 638.5,798" stroke="#fff" stroke-width="0.9" fill="none" />
<path d="M649.6,787 C651,778 656,771.5 663,771.1 L701,771.1" stroke="#111" stroke-width="2.69" fill="none" />
<path d="M649.6,787 C651,778 656,771.5 663,771.1 L701,771.1" stroke="#fff" stroke-width="0.9" fill="none" />
<path d="M649.6,799 C651,808 656,814 663,814.4 L701,814.4" stroke="#111" stroke-width="2.69" fill="none" />
<path d="M649.6,799 C651,808 656,814 663,814.4 L701,814.4" stroke="#fff" stroke-width="0.9" fill="none" />
<line x1="566.5" y1="771.6" x2="590" y2="771.6" stroke="#111" stroke-width="2.4" stroke-linecap="butt"/>
<line x1="566.5" y1="815.2" x2="590" y2="815.2" stroke="#111" stroke-width="2.4" stroke-linecap="butt"/>
<rect x="633.5" y="786" width="20" height="13.6" rx="4" fill="#fff" stroke="#111" stroke-width="1.3"/>
<line x1="637.5" y1="787.6" x2="649.5" y2="787.6" stroke="#111" stroke-width="1.5" stroke-linecap="butt"/>
<line x1="637.5" y1="790.2" x2="649.5" y2="790.2" stroke="#111" stroke-width="1.5" stroke-linecap="butt"/>
<line x1="637.5" y1="792.8" x2="649.5" y2="792.8" stroke="#111" stroke-width="1.5" stroke-linecap="butt"/>
<line x1="637.5" y1="795.4" x2="649.5" y2="795.4" stroke="#111" stroke-width="1.5" stroke-linecap="butt"/>
<line x1="637.5" y1="798" x2="649.5" y2="798" stroke="#111" stroke-width="1.5" stroke-linecap="butt"/>
<line x1="700" y1="771.1" x2="704" y2="771.1" stroke="#111" stroke-width="2.6" stroke-linecap="butt"/>
<circle cx="708.8" cy="771.1" r="2.6" stroke="#111" stroke-width="1.79" fill="#fff"/>
<circle cx="708.8" cy="771.1" r="0.9" stroke="#111" stroke-width="0.9" fill="#111"/>
<line x1="700" y1="814.4" x2="704" y2="814.4" stroke="#111" stroke-width="2.6" stroke-linecap="butt"/>
<circle cx="708.8" cy="814.4" r="2.6" stroke="#111" stroke-width="1.79" fill="#fff"/>
<circle cx="708.8" cy="814.4" r="0.9" stroke="#111" stroke-width="0.9" fill="#111"/>
</g>
<g id="h74">
<path d="M808.0,453.9 L812.7,451.1 L842.2,446.3 L850.5,452.7 L854.0,458.6 L852.8,477.5 L858.7,496.4 L870.5,520.0 L881.2,548.3 L885.9,581.4 L886.4,614.4 L884.7,636.1 L880.0,638.0 L878.1,623.9 L876.4,615.6 L872.9,623.9 L868.7,629.1 L865.3,619.1 L854.0,586.1 L845.8,557.8 L834.0,522.3 L830.4,513.4 L818.6,511.0 L813.9,505.8 L812.0,478.0 L809.2,475.6 Z" stroke="#111" stroke-width="2.13" fill="#fff" />
<path d="M809.2,454.4 L842.2,446.8 L850.2,453.4 L826.9,462.1 Z" stroke="#111" stroke-width="1.34" fill="#222" />
<path d="M813.9,454.8 L830.4,460.5 " stroke="#999" stroke-width="0.67" fill="none" />
<path d="M819.8,453.4 L835.6,458.6 " stroke="#999" stroke-width="0.67" fill="none" />
<path d="M825.7,452.0 L840.8,456.7 " stroke="#999" stroke-width="0.67" fill="none" />
<path d="M831.6,450.6 L846.0,454.8 " stroke="#999" stroke-width="0.67" fill="none" />
<path d="M826.9,462.1 L854.0,458.6 " stroke="#111" stroke-width="1.34" fill="none" />
<path d="M826.9,462.1 L830.4,466.9 L851.7,463.3 " stroke="#111" stroke-width="1.12" fill="none" />
<path d="M830.4,466.9 L831.8,487.4 L838.0,492.1 L838.9,517.6 L834.0,522.3 " stroke="#111" stroke-width="1.79" fill="none" />
<path d="M812.0,478.0 L817.4,479.9 L818.6,503.5 L830.4,498.7 L832.8,505.8 L830.4,513.4 " stroke="#111" stroke-width="1.23" fill="none" />
<path d="M818.6,503.5 L818.6,511.0 " stroke="#111" stroke-width="1.12" fill="none" />
<path d="M817.4,470.4 L824.5,469.2 L825.2,475.1 L818.1,475.6 Z" stroke="#111" stroke-width="1.34" fill="none" />
<path d="M809.6,458.6 L817.4,464.5 L817.4,470.4 " stroke="#111" stroke-width="1.34" fill="none" />
<path d="M834.0,522.3 L849.3,521.2 L852.8,534.2 " stroke="#111" stroke-width="1.46" fill="none" />
<path d="M838.9,517.6 L850.7,524.2 " stroke="#111" stroke-width="1.12" fill="none" />
<path d="M838.0,528.2 L844.6,533.0 L845.8,538.9 L852.8,543.6 L854.0,553.0 L861.1,560.1 L865.8,576.6 L876.4,615.6 " stroke="#111" stroke-width="2.02" fill="none" />
<path d="M842.2,534.2 L851.7,534.2 L852.8,542.4 " stroke="#111" stroke-width="1.12" fill="none" />
<path d="M845.8,557.8 L857.6,562.5 L870.5,605.0 L876.4,615.6 " stroke="#111" stroke-width="1.57" fill="none" />
<path d="M854.0,586.1 L863.5,582.5 " stroke="#111" stroke-width="1.34" fill="none" />
<path d="M855.9,590.8 L865.3,588.0 " stroke="#111" stroke-width="1.12" fill="none" />
<path d="M852.8,534.2 C865.8,527.5 877.2,536.5 875.7,550.7 C874.3,563.7 865.8,564.4 858.3,559.6 " stroke="#111" stroke-width="2.24" fill="none" />
<path d="M856.9,541.7 L865.8,542.6 C868.7,548.3 868.2,554.2 865.3,557.8 L858.7,557.0 " stroke="#111" stroke-width="2.24" fill="none" />
<path d="M856.9,541.7 L856.9,546.0 L862.3,546.4 L862.3,553.0 L858.3,553.5 L858.7,556.6 " stroke="#111" stroke-width="1.23" fill="none" />
<path d="M868.7,629.1 L871.0,616.8 L876.4,615.6 " stroke="#111" stroke-width="1.23" fill="none" />
<path d="M865.8,609.7 L874.1,614.4 " stroke="#111" stroke-width="1.79" fill="none" />
<path d="M870.1,621.5 L875.3,623.9 L874.8,629.1 " stroke="#111" stroke-width="1.34" fill="none" />
<path d="M880.0,638.0 L880.5,616.8 L884.7,614.4 " stroke="#111" stroke-width="1.12" fill="none" />
<path d="M882.8,616.8 L882.8,623.9 " stroke="#111" stroke-width="1.57" fill="none" />
</g>
<g transform="rotate(166 884.2 444.3)">
<path d="M886.2,442.5 L898.2,442.8 L901.2,444.3 L898.2,445.8 L886.2,446.1Z" stroke="#111" stroke-width="1.12" fill="#333" />
<line x1="887.7" y1="442" x2="888.5" y2="446.6" stroke="#111" stroke-width="0.9" stroke-linecap="butt"/>
<line x1="889.9" y1="442" x2="890.7" y2="446.6" stroke="#111" stroke-width="0.9" stroke-linecap="butt"/>
<line x1="892.1" y1="442" x2="892.9" y2="446.6" stroke="#111" stroke-width="0.9" stroke-linecap="butt"/>
<line x1="894.3" y1="442" x2="895.1" y2="446.6" stroke="#111" stroke-width="0.9" stroke-linecap="butt"/>
<line x1="896.5" y1="442" x2="897.3" y2="446.6" stroke="#111" stroke-width="0.9" stroke-linecap="butt"/>
<ellipse cx="885.6" cy="444.3" rx="1.6" ry="3.3" fill="#fff" stroke="#111" stroke-width="1.2"/>
<ellipse cx="883.9000000000001" cy="444.3" rx="1.9" ry="3.7" fill="#fff" stroke="#111" stroke-width="1.4"/>
<ellipse cx="883.7" cy="444.3" rx="0.8" ry="1.8" fill="#111"/>
</g>
<g transform="rotate(162 929.3 610.2)">
<path d="M931.3,608.4000000000001 L942.3,608.7 L945.3,610.2 L942.3,611.7 L931.3,612.0Z" stroke="#111" stroke-width="1.12" fill="#333" />
<line x1="932.8" y1="607.9" x2="933.6" y2="612.5" stroke="#111" stroke-width="0.9" stroke-linecap="butt"/>
<line x1="935" y1="607.9" x2="935.8" y2="612.5" stroke="#111" stroke-width="0.9" stroke-linecap="butt"/>
<line x1="937.2" y1="607.9" x2="938" y2="612.5" stroke="#111" stroke-width="0.9" stroke-linecap="butt"/>
<line x1="939.4" y1="607.9" x2="940.2" y2="612.5" stroke="#111" stroke-width="0.9" stroke-linecap="butt"/>
<line x1="941.6" y1="607.9" x2="942.4" y2="612.5" stroke="#111" stroke-width="0.9" stroke-linecap="butt"/>
<ellipse cx="930.6999999999999" cy="610.2" rx="1.6" ry="3.3" fill="#fff" stroke="#111" stroke-width="1.2"/>
<ellipse cx="929.0" cy="610.2" rx="1.9" ry="3.7" fill="#fff" stroke="#111" stroke-width="1.4"/>
<ellipse cx="928.8" cy="610.2" rx="0.8" ry="1.8" fill="#111"/>
</g>
<g transform="rotate(152 888.4 723.7)">
<path d="M890.4,721.9000000000001 L902.4,722.2 L905.4,723.7 L902.4,725.2 L890.4,725.5Z" stroke="#111" stroke-width="1.12" fill="#333" />
<line x1="891.9" y1="721.4" x2="892.7" y2="726" stroke="#111" stroke-width="0.9" stroke-linecap="butt"/>
<line x1="894.1" y1="721.4" x2="894.9" y2="726" stroke="#111" stroke-width="0.9" stroke-linecap="butt"/>
<line x1="896.3" y1="721.4" x2="897.1" y2="726" stroke="#111" stroke-width="0.9" stroke-linecap="butt"/>
<line x1="898.5" y1="721.4" x2="899.3" y2="726" stroke="#111" stroke-width="0.9" stroke-linecap="butt"/>
<line x1="900.7" y1="721.4" x2="901.5" y2="726" stroke="#111" stroke-width="0.9" stroke-linecap="butt"/>
<ellipse cx="889.8" cy="723.7" rx="1.6" ry="3.3" fill="#fff" stroke="#111" stroke-width="1.2"/>
<ellipse cx="888.1" cy="723.7" rx="1.9" ry="3.7" fill="#fff" stroke="#111" stroke-width="1.4"/>
<ellipse cx="887.9" cy="723.7" rx="0.8" ry="1.8" fill="#111"/>
</g>
<g id="w67">
<path d="M759.4,510.5 C760,500 766,492.5 772,492 C780,491.5 789,508 790.3,530 C791,540 790,548 793,551 C797,554 803,554 808,556" stroke="#111" stroke-width="2.69" fill="none" />
<path d="M805,554.2 C808,553.6 811,554.6 812.5,556.2 C810,557 807,557 805,556.4" stroke="#111" stroke-width="1.01" fill="none" />
<path d="M751.5,537.5 C752,528 757,520.5 762.5,520 C770,519.5 776,528 778.5,540 C780.5,550 781,556 784.5,558.5 C786,560 788,560.6 789.5,561.5" stroke="#111" stroke-width="2.69" fill="none" />
<circle cx="749.5" cy="508.9" r="6.2" stroke="#111" stroke-width="1.46" fill="#fff"/>
<text x="749.5" y="512.3" font-family="Liberation Sans" font-weight="bold" font-size="9.5" text-anchor="middle" fill="#111" filter="url(#nf)">C</text>
<circle cx="745.3" cy="544.6" r="6.2" stroke="#111" stroke-width="1.46" fill="#fff"/>
<text x="745.3" y="548.0" font-family="Liberation Sans" font-weight="bold" font-size="9.5" text-anchor="middle" fill="#111" filter="url(#nf)">B</text>
</g>
<g id="p68">
<path d="M769.1,577.0 L781.1,572.7 L781.8,579.1 L788.1,578.4 L790.2,579.8 L790.2,604.4 L782.5,607.2 L776.2,600.9 L776.6,584.0 L772.0,581.2 Z" stroke="#111" stroke-width="1.68" fill="#fff" />
<path d="M772.0,578.4 L779.7,575.5 L780.0,579.1 " stroke="#111" stroke-width="1.12" fill="none" />
<path d="M776.6,584.0 L782.5,586.1 L790.2,583.3 " stroke="#111" stroke-width="1.23" fill="none" />
<path d="M782.5,586.1 L782.5,607.2 " stroke="#111" stroke-width="1.23" fill="none" />
<path d="M790.2,579.8 L814.9,570.6 L824.0,575.5 L824.7,610.0 L806.4,619.1 L800.8,618.4 L793.8,612.8 L793.1,600.2 L790.2,597.3 Z" stroke="#111" stroke-width="1.68" fill="#fff" />
<path d="M792.1,580.8 L814.6,571.8 L821.9,576.0 L800.1,586.1 Z" stroke="#111" stroke-width="1.34" fill="#fff" />
<path d="M792.1,580.8 L802.2,576.8 L806.4,583.3 L800.1,586.1 Z" stroke="#111" stroke-width="1.12" fill="#333" />
<path d="M802.2,579.1 L816.3,573.7 " stroke="#111" stroke-width="1.79" fill="none" />
<path d="M805.0,581.6 L819.8,576.3 " stroke="#111" stroke-width="1.57" fill="none" />
<path d="M795.2,586.1 L819.1,578.4 " stroke="#111" stroke-width="2.24" fill="none" />
<path d="M795.9,589.6 L820.5,581.2 " stroke="#111" stroke-width="1.79" fill="none" />
<path d="M793.8,587.5 L794.5,600.2 L797.3,605.8 L802.2,603.7 " stroke="#111" stroke-width="1.68" fill="none" />
<path d="M799.4,588.2 L800.1,598.1 " stroke="#111" stroke-width="1.34" fill="none" />
<path d="M802.2,603.7 L824.0,596.6 " stroke="#111" stroke-width="1.57" fill="none" />
<path d="M802.2,603.7 L806.4,619.1 " stroke="#111" stroke-width="0.0" fill="none" />
<path d="M802.9,604.1 L802.2,617.0 " stroke="#111" stroke-width="1.46" fill="none" />
<path d="M819.1,580.5 L821.9,583.3 L822.6,595.9 " stroke="#111" stroke-width="1.34" fill="none" />
<path d="M806.4,590.3 L816.3,587.5 L817.0,598.1 L807.1,600.2 Z" stroke="#111" stroke-width="1.34" fill="none" />
<circle cx="810.4" cy="595.2" r="4.3" stroke="#111" stroke-width="1.79" fill="#fff"/>
<circle cx="810.9" cy="595.5" r="2.4" stroke="#111" stroke-width="1.23" fill="none"/>
<path d="M793.8,612.8 L800.8,613.5 L800.8,618.4 " stroke="#111" stroke-width="1.23" fill="none" />
<path d="M797.3,600.2 L800.1,607.2 L798.0,607.9 " stroke="#111" stroke-width="2.02" fill="none" />
</g>
<g id="p69">
<path d="M810.4,662.0 L797.7,637.0 " stroke="#111" stroke-width="2.91" fill="none" />
<path d="M810.4,662.0 L797.7,637.0 " stroke="#fff" stroke-width="0.9" fill="none" />
<path d="M833.1,659.0 L845.5,630.0 " stroke="#111" stroke-width="2.91" fill="none" />
<path d="M833.1,659.0 L845.5,630.0 " stroke="#fff" stroke-width="0.9" fill="none" />
<path d="M807.8,662.3 L833.8,658.5 L835.9,661.3 L835.9,676.1 L810.6,679.6 L807.8,676.8 Z" stroke="#111" stroke-width="1.57" fill="#fff" />
<path d="M807.8,662.3 L810.6,664.2 L835.9,661.3 " stroke="#111" stroke-width="1.23" fill="none" />
<path d="M810.6,664.2 L810.6,679.6 " stroke="#111" stroke-width="1.23" fill="none" />
</g>
<g id="p71">
<path d="M843.3,733.6 L847.6,731.2 L864.0,729.8 L866.8,732.9 L866.4,737.6 L862.8,740.2 L847.6,740.6 L843.8,738.3 Z" stroke="#111" stroke-width="1.68" fill="#fff" />
<path d="M843.3,735.2 L847.6,736.9 L864.0,735.5 L866.8,733.6 " stroke="#111" stroke-width="1.12" fill="none" />
<ellipse cx="848.7" cy="734.5" rx="1.7" ry="1.3" stroke="#111" stroke-width="1.34" fill="none"/>
<ellipse cx="862.1" cy="733.6" rx="1.7" ry="1.3" stroke="#111" stroke-width="1.34" fill="none"/>
<path d="M852.3,733.1 L858.8,732.6 L858.8,735.9 L852.3,736.4 Z" stroke="#111" stroke-width="1.23" fill="none" />
</g>
<g id="cable">
<path d="M822.2,724.7 L821.2,703.5 " stroke="#111" stroke-width="1.46" fill="none" />
<path d="M824.5,724.2 L823.1,708.2 " stroke="#111" stroke-width="1.01" fill="none" />
<path d="M826.4,723.7 L827.8,703.0 " stroke="#111" stroke-width="1.46" fill="none" />
<path d="M828.3,723.2 L829.2,709.4 " stroke="#111" stroke-width="1.01" fill="none" />
<path d="M822.2,724.7 C822.2,734.1 825.2,741.6 834.6,748.2 C842.9,753.3 848.7,758.7 852.7,767.0 L861.7,762.7 C858.1,755.2 852.3,748.2 844.7,743.5 C837.0,738.8 833.0,732.9 831.6,722.3 Z" stroke="#111" stroke-width="1.46" fill="#fff" />
<ellipse cx="826.9" cy="723.7" rx="4.8" ry="1.8" stroke="#111" stroke-width="1.23" fill="#fff" transform="rotate(-12 826.9 723.7)"/>
<path d="M846.4,765.8 L851.1,762.7 L864.0,760.4 L871.1,762.3 L873.9,770.5 L866.4,774.5 L851.1,773.5 Z" stroke="#111" stroke-width="1.57" fill="#fff" />
<path d="M854.6,767.4 C857.0,764.1 862.1,762.7 864.0,765.1 C864.0,768.1 858.1,769.8 854.6,767.4 Z" stroke="#111" stroke-width="1.23" fill="#fff" />
<path d="M851.1,773.5 L852.3,770.5 L864.0,768.1 L873.9,770.5 " stroke="#111" stroke-width="0.0" fill="none" />
<path d="M851.1,774.0 L869.9,774.0 L867.8,830.4 L853.2,830.4 Z" stroke="#111" stroke-width="1.46" fill="#fff" />
<path d="M851.1,774.0 C855.8,776.8 865.2,776.8 869.9,774.0 " stroke="#111" stroke-width="1.23" fill="none" />
<path d="M851.8,830.4 L869.2,830.4 L869.2,833.2 L851.8,833.2 Z" stroke="#111" stroke-width="1.34" fill="#fff" />
<path d="M851.8,833.2 C855.8,835.1 865.2,835.1 869.2,833.2 " stroke="#111" stroke-width="1.12" fill="none" />
<path d="M855.1,834.2 L855.1,856.3 L865.2,856.3 L865.2,834.2 " stroke="#111" stroke-width="1.46" fill="#fff" />
</g>
<g id="lowleft">
<path d="M240.4,622.1 C241.3,614.0 248.5,609.0 257.5,609.5 C266.5,610.0 273.7,614.9 273.7,623.0 L273.1,634.7 C271.9,640.1 269.2,642.8 265.2,643.9 L248.5,646.0 C244.0,641.9 240.8,633.8 240.4,622.1 Z" stroke="#111" stroke-width="1.68" fill="#fff" />
<ellipse cx="257" cy="628" rx="8.4" ry="16.4" stroke="#111" stroke-width="1.46" fill="#fff" transform="rotate(-6 257 628)"/>
<path d="M257.5,609.5 C264.7,617.6 267.4,632.0 265.2,643.9 " stroke="#111" stroke-width="0.0" fill="none" />
<path d="M262.0,610.8 C270.1,617.6 271.9,630.2 269.2,641.9 " stroke="#111" stroke-width="1.23" fill="none" />
<path d="M247.6,645.5 L264.7,643.1 L265.6,656.3 L248.7,658.6 Z" stroke="#111" stroke-width="1.68" fill="#fff" />
<path d="M252.3,644.9 L252.6,658.1 " stroke="#111" stroke-width="1.34" fill="none" />
<path d="M256.2,644.6 L256.6,657.5 " stroke="#111" stroke-width="1.79" fill="none" />
<path d="M258.0,649.1 L263.8,648.4 L264.1,653.6 L258.4,654.3 Z" stroke="#111" stroke-width="1.34" fill="none" />
<path d="M247.6,650.0 L252.3,649.4 " stroke="#111" stroke-width="1.12" fill="none" />
<path d="M248.0,654.5 L252.5,653.9 " stroke="#111" stroke-width="1.12" fill="none" />
<g transform="rotate(4 256.2 676.1)">
<rect x="253.23065851025547" y="676.0687297589061" width="6" height="27" fill="#444" stroke="#111" stroke-width="0.9"/>
<line x1="253.2" y1="678.1" x2="259.2" y2="677.1" stroke="#111" stroke-width="1.0" stroke-linecap="butt"/>
<line x1="253.2" y1="681" x2="259.2" y2="680" stroke="#111" stroke-width="1.0" stroke-linecap="butt"/>
<line x1="253.2" y1="683.9" x2="259.2" y2="682.9" stroke="#111" stroke-width="1.0" stroke-linecap="butt"/>
<line x1="253.2" y1="686.8" x2="259.2" y2="685.8" stroke="#111" stroke-width="1.0" stroke-linecap="butt"/>
<line x1="253.2" y1="689.7" x2="259.2" y2="688.7" stroke="#111" stroke-width="1.0" stroke-linecap="butt"/>
<line x1="253.2" y1="692.6" x2="259.2" y2="691.6" stroke="#111" stroke-width="1.0" stroke-linecap="butt"/>
<line x1="253.2" y1="695.5" x2="259.2" y2="694.5" stroke="#111" stroke-width="1.0" stroke-linecap="butt"/>
<line x1="253.2" y1="698.4" x2="259.2" y2="697.4" stroke="#111" stroke-width="1.0" stroke-linecap="butt"/>
<line x1="253.2" y1="701.3" x2="259.2" y2="700.3" stroke="#111" stroke-width="1.0" stroke-linecap="butt"/>
</g>
<path d="M246.7,669.8 L254.8,664.0 L266.5,668.0 L267.0,672.5 L259.3,676.1 L247.6,673.0 Z" stroke="#111" stroke-width="1.68" fill="#fff" />
<path d="M246.7,669.8 L258.4,671.9 L266.5,668.0 " stroke="#111" stroke-width="1.23" fill="none" />
<path d="M258.4,671.9 L259.3,676.1 " stroke="#111" stroke-width="1.23" fill="none" />
<path d="M252.1,707.2 L256.6,705.4 L262.0,706.1 L263.1,711.2 L257.5,714.0 L252.3,711.5 Z" stroke="#111" stroke-width="1.57" fill="#555" />
<ellipse cx="257.5" cy="708.5" rx="3.4" ry="2.2" stroke="#111" stroke-width="1.12" fill="#ddd" transform="rotate(-8 257.5 708.5)"/>
<g transform="rotate(-9.9 160.6 736.3)">
<rect x="160.6" y="734.2" width="102" height="4.4" rx="1.5" fill="#ccc" stroke="#111" stroke-width="1.6"/>
<line x1="163" y1="736.4" x2="261" y2="736.4" stroke="#111" stroke-width="1.6" stroke-linecap="butt"/>
</g>
<path d="M325.9,678.8 L325.9,686.9 L327.8,686.9 L327.8,678.8 Z" stroke="#111" stroke-width="1.12" fill="#333" />
<path d="M312.4,668.3 L321.4,666.2 C323.2,663.5 328.6,663.5 330.0,665.8 L338.5,665.8 L339.4,675.2 L330.0,677.0 L329.5,679.7 L323.2,679.1 L322.3,676.6 L313.4,677.0 Z" stroke="#111" stroke-width="1.68" fill="#fff" />
<path d="M321.4,666.2 C322.3,669.8 328.6,669.8 330.0,665.8 " stroke="#111" stroke-width="1.23" fill="none" />
<path d="M322.3,676.6 L321.7,668.0 " stroke="#111" stroke-width="0.0" fill="none" />
<path d="M330.0,677.0 L329.6,668.3 " stroke="#111" stroke-width="1.12" fill="none" />
<path d="M322.4,676.2 L322.1,668.3 " stroke="#111" stroke-width="1.12" fill="none" />
<path d="M280.9,717.5 L284.5,741.4 L300.7,748.0 L310.2,743.9 L314.2,722.8 L303.4,729.1 Z" stroke="#111" stroke-width="1.68" fill="#fff" />
<path d="M303.4,729.1 L300.7,748.0 " stroke="#111" stroke-width="1.23" fill="none" />
<path d="M274.2,691.7 L289.0,683.3 C290.8,693.2 296.2,702.2 304.8,708.5 L307.9,705.8 L310.6,710.3 L325.0,720.1 L325.0,725.5 L314.2,723.7 L303.4,729.5 L280.9,718.0 L276.4,711.2 Z" stroke="#111" stroke-width="1.68" fill="#fff" />
<path d="M276.4,691.7 L287.2,686.0 C289.0,695.0 294.4,704.0 304.3,711.2 " stroke="#111" stroke-width="1.23" fill="none" />
<path d="M274.2,691.7 C277.3,700.4 281.8,707.6 287.2,713.0 " stroke="#111" stroke-width="1.34" fill="none" />
<path d="M278.2,691.4 C280.9,700.4 285.4,707.6 290.8,712.1 " stroke="#111" stroke-width="1.12" fill="none" />
<ellipse cx="295.3" cy="710.8" rx="8" ry="4.2" stroke="#111" stroke-width="1.34" fill="none" transform="rotate(-5 295.3 710.8)"/>
<ellipse cx="295.6" cy="711.5" rx="5.5" ry="2.6" stroke="#111" stroke-width="1.12" fill="none" transform="rotate(-5 295.6 711.5)"/>
<path d="M294.4,705.8 L294.7,713.9 " stroke="#111" stroke-width="1.12" fill="none" />
<path d="M297.1,705.8 L297.4,713.9 " stroke="#111" stroke-width="1.12" fill="none" />
<path d="M310.6,697.1 L319.6,691.0 L338.5,698.6 L339.4,720.1 L328.9,725.9 L325.0,720.1 L310.6,710.3 Z" stroke="#111" stroke-width="1.68" fill="#fff" />
<path d="M310.6,697.1 L328.6,704.9 L338.5,698.6 " stroke="#111" stroke-width="1.34" fill="none" />
<path d="M328.6,704.9 L328.9,725.9 " stroke="#111" stroke-width="1.34" fill="none" />
<ellipse cx="324.4" cy="697.7" rx="3.4" ry="2.2" stroke="#111" stroke-width="1.34" fill="none" transform="rotate(10 324.4 697.7)"/>
<ellipse cx="322.8" cy="707.9" rx="2.6" ry="3.2" stroke="#111" stroke-width="1.34" fill="none"/>
<path d="M321.0,734.5 L325.9,732.4 L333.6,736.3 L328.6,739.2 Z" stroke="#111" stroke-width="1.57" fill="#fff" />
<path d="M323.5,734.9 L326.4,733.8 L330.4,736.0 L327.7,737.2 Z" stroke="#111" stroke-width="1.01" fill="none" />
<circle cx="326.4" cy="748.6" r="1.9" stroke="#111" stroke-width="1.46" fill="#666"/>
</g>
<g id="h76">
<ellipse cx="296.9" cy="866" rx="23.5" ry="10.9" stroke="#111" stroke-width="1.46" fill="#fff"/>
<ellipse cx="296.9" cy="864.3" rx="23.5" ry="10.9" stroke="#111" stroke-width="1.68" fill="#fff"/>
<path d="M282.9,781 C281.5,800 280,830 280.2,852 C286,860.5 307,860.5 313.8,851.5 C314.2,830 313.6,800 312.7,781 Z" stroke="#111" stroke-width="0.0" fill="#fff" />
<path d="M282.9,781 C281.5,800 280,830 280.2,852 C286,860.5 307,860.5 313.8,851.5" stroke="#111" stroke-width="1.57" fill="none" />
<path d="M312.7,781 C313.6,800 314.2,830 313.8,851.5" stroke="#111" stroke-width="1.57" fill="none" />
<ellipse cx="296.9" cy="767.3" rx="31" ry="14.6" stroke="#111" stroke-width="1.34" fill="#fff"/>
<ellipse cx="296.9" cy="765.1" rx="31.8" ry="15.6" stroke="#111" stroke-width="1.9" fill="#fff"/>
<ellipse cx="296.9" cy="767.6" rx="15.9" ry="7.5" stroke="#111" stroke-width="1.46" fill="none"/>
<ellipse cx="296.9" cy="765.1" rx="10" ry="4.8" stroke="#111" stroke-width="1.46" fill="#fff"/>
<ellipse cx="296.9" cy="764.6" rx="3.7" ry="2" stroke="#111" stroke-width="1.46" fill="none"/>
<path d="M282.9,781 C290,783.5 305,783.5 312.7,781" stroke="#111" stroke-width="1.12" fill="none" />
</g>
<g id="wiring">
<path d="M769.6,16.9 C770.8,27.0 773.0,33.8 771.9,40.5 C768.5,45.0 764.0,48.4 763.6,54.0 C762.2,67.5 765.1,83.3 768.5,92.3 C775.3,105.8 786.5,121.5 792.1,139.5 C795.5,153.0 798.9,164.3 800.0,173.3 " stroke="#111" stroke-width="1.46" fill="none" />
<path d="M776.4,16.9 C777.5,27.0 778.6,36.0 777.5,41.6 C774.1,46.1 771.2,50.6 770.8,56.3 C770.3,67.5 774.1,85.5 777.5,92.3 C782.0,101.3 791.0,112.5 797.8,126.0 C805.6,141.8 810.1,157.6 811.3,171.1 " stroke="#111" stroke-width="1.46" fill="none" />
<path d="M788.8,99.0 C800.0,112.5 811.3,135.0 815.8,157.6 L818.0,173.3 " stroke="#111" stroke-width="1.34" fill="none" />
<path d="M768.5,92.3 L766.3,90.0 L768.5,96.8 L782.0,99.0 L788.8,99.0 " stroke="#111" stroke-width="1.23" fill="none" />
<path d="M792.1,139.5 L800.0,140.7 L803.4,157.6 L806.8,171.1 " stroke="#111" stroke-width="1.23" fill="none" />
<path d="M794.4,146.3 L801.1,148.5 " stroke="#111" stroke-width="1.12" fill="none" />
<line x1="771.9" y1="50.6" x2="833.8" y2="50.6" stroke="#111" stroke-width="1.3" stroke-linecap="butt"/>
<line x1="773" y1="56.3" x2="833.8" y2="56.3" stroke="#111" stroke-width="1.0" stroke-linecap="butt"/>
<line x1="774.1" y1="66.4" x2="811.3" y2="66.4" stroke="#111" stroke-width="1.2" stroke-linecap="butt"/>
<line x1="776.4" y1="73.1" x2="811.3" y2="73.1" stroke="#111" stroke-width="1.0" stroke-linecap="butt"/>
<line x1="778.6" y1="83.3" x2="820.3" y2="83.3" stroke="#111" stroke-width="1.3" stroke-linecap="butt"/>
<line x1="780.9" y1="88.9" x2="823.6" y2="88.9" stroke="#111" stroke-width="1.0" stroke-linecap="butt"/>
<line x1="811.3" y1="60.8" x2="811.3" y2="74.3" stroke="#111" stroke-width="1.0" stroke-linecap="butt"/>
<line x1="811.3" y1="60.8" x2="827" y2="59" stroke="#111" stroke-width="1.0" stroke-linecap="butt"/>
<line x1="820.3" y1="83.3" x2="827" y2="90" stroke="#111" stroke-width="1.0" stroke-linecap="butt"/>
<path d="M833.8,50.6 L860.8,50.6 L860.8,56.3 L833.8,56.3 Z" stroke="#111" stroke-width="1.12" fill="#fff" />
<line x1="836" y1="50.6" x2="836" y2="56.3" stroke="#111" stroke-width="1.6" stroke-linecap="butt"/>
<line x1="838.7" y1="50.6" x2="838.7" y2="56.3" stroke="#111" stroke-width="1.6" stroke-linecap="butt"/>
<line x1="841.4" y1="50.6" x2="841.4" y2="56.3" stroke="#111" stroke-width="1.6" stroke-linecap="butt"/>
<line x1="844.1" y1="50.6" x2="844.1" y2="56.3" stroke="#111" stroke-width="1.6" stroke-linecap="butt"/>
<line x1="846.8" y1="50.6" x2="846.8" y2="56.3" stroke="#111" stroke-width="1.6" stroke-linecap="butt"/>
<line x1="849.5" y1="50.6" x2="849.5" y2="56.3" stroke="#111" stroke-width="1.6" stroke-linecap="butt"/>
<line x1="852.2" y1="50.6" x2="852.2" y2="56.3" stroke="#111" stroke-width="1.6" stroke-linecap="butt"/>
<line x1="854.9" y1="50.6" x2="854.9" y2="56.3" stroke="#111" stroke-width="1.6" stroke-linecap="butt"/>
<line x1="857.6" y1="50.6" x2="857.6" y2="56.3" stroke="#111" stroke-width="1.6" stroke-linecap="butt"/>
<line x1="860.3" y1="50.6" x2="860.3" y2="56.3" stroke="#111" stroke-width="1.6" stroke-linecap="butt"/>
<path d="M832.7,54.0 C822.5,60.8 822.5,81.0 833.8,88.9 L854.0,88.9 C865.3,83.3 867.5,65.3 860.8,56.3 " stroke="#111" stroke-width="2.46" fill="none" />
<path d="M830.4,73.1 L830.4,81.0 L837.2,85.5 L837.2,77.7 L833.8,75.4 L833.8,67.5 " stroke="#111" stroke-width="1.46" fill="none" />
<line x1="838.3" y1="83.7" x2="838.3" y2="88.9" stroke="#111" stroke-width="1.8" stroke-linecap="butt"/>
<line x1="841.2" y1="83.7" x2="841.2" y2="88.9" stroke="#111" stroke-width="1.8" stroke-linecap="butt"/>
<line x1="844.1" y1="83.7" x2="844.1" y2="88.9" stroke="#111" stroke-width="1.8" stroke-linecap="butt"/>
<line x1="847.1" y1="83.7" x2="847.1" y2="88.9" stroke="#111" stroke-width="1.8" stroke-linecap="butt"/>
<line x1="850" y1="83.7" x2="850" y2="88.9" stroke="#111" stroke-width="1.8" stroke-linecap="butt"/>
<line x1="852.9" y1="83.7" x2="852.9" y2="88.9" stroke="#111" stroke-width="1.8" stroke-linecap="butt"/>
<path d="M854.0,88.9 C854.0,101.3 849.5,112.5 841.7,118.2 " stroke="#111" stroke-width="1.34" fill="none" />
<path d="M800.0,11.3 L818.0,11.3 L818.0,24.8 L800.0,24.8 Z" stroke="#111" stroke-width="1.23" fill="none" />
<path d="M807.9,11.3 L807.9,24.8 " stroke="#111" stroke-width="1.12" fill="none" />
<path d="M812.4,11.3 L812.4,24.8 " stroke="#111" stroke-width="1.12" fill="none" />
<path d="M820.3,5.6 L820.3,42.8 " stroke="#111" stroke-width="1.34" fill="none" />
<path d="M822.5,5.6 L822.5,42.8 " stroke="#111" stroke-width="1.01" fill="none" />
<path d="M829.3,5.6 L840.5,5.6 L851.8,16.9 L851.8,24.8 L860.8,31.5 L858.5,45.0 L854.0,45.0 " stroke="#111" stroke-width="1.34" fill="none" />
<path d="M829.3,5.6 L829.3,42.8 " stroke="#111" stroke-width="1.12" fill="none" />
<path d="M832.7,10.1 L838.3,9.0 L841.7,15.8 L833.8,18.0 Z" stroke="#111" stroke-width="1.34" fill="none" />
<circle cx="833.8" cy="12.4" r="1.3" stroke="#111" stroke-width="1.12" fill="none"/>
<path d="M829.3,24.8 L854.0,24.8 " stroke="#111" stroke-width="1.12" fill="none" />
<path d="M829.3,29.3 L851.8,29.3 " stroke="#111" stroke-width="1.12" fill="none" />
<path d="M845.0,29.3 C854.0,31.5 858.5,38.3 855.2,43.9 " stroke="#111" stroke-width="1.23" fill="none" />
<path d="M795.5,31.5 C796.6,27.0 806.8,25.9 811.3,29.3 L814.6,36.0 L811.3,40.5 L800.0,40.5 C796.6,38.3 795.1,34.9 795.5,31.5 Z" stroke="#111" stroke-width="1.34" fill="none" />
<circle cx="805" cy="33.8" r="2.4" stroke="#111" stroke-width="1.34" fill="none"/>
<circle cx="805" cy="33.8" r="1" stroke="#111" stroke-width="0.9" fill="#111"/>
<path d="M813.5,27.0 L829.3,27.0 " stroke="#111" stroke-width="1.12" fill="none" />
<path d="M814.6,41.6 L829.3,41.6 " stroke="#111" stroke-width="1.12" fill="none" />
<circle cx="789.9" cy="21.8" r="4" stroke="#111" stroke-width="1.79" fill="#444"/>
<line x1="787.6" y1="20.3" x2="792.4" y2="23.4" stroke="#eee" stroke-width="0.8" stroke-linecap="butt"/>
<line x1="788.1" y1="23.9" x2="791.9" y2="19.8" stroke="#eee" stroke-width="0.8" stroke-linecap="butt"/>
<line x1="813.5" y1="96.8" x2="813.5" y2="135" stroke="#111" stroke-width="1.2" stroke-linecap="butt"/>
<line x1="818" y1="99" x2="818" y2="132.8" stroke="#111" stroke-width="1.0" stroke-linecap="butt"/>
<line x1="829.3" y1="99" x2="829.3" y2="135" stroke="#111" stroke-width="1.2" stroke-linecap="butt"/>
<line x1="833.8" y1="121.5" x2="833.8" y2="137.3" stroke="#111" stroke-width="1.0" stroke-linecap="butt"/>
<line x1="813.5" y1="135" x2="833.8" y2="137.3" stroke="#111" stroke-width="1.1" stroke-linecap="butt"/>
<line x1="818" y1="132.8" x2="829.3" y2="133.9" stroke="#111" stroke-width="1.0" stroke-linecap="butt"/>
<line x1="822.5" y1="139.5" x2="854" y2="157.6" stroke="#111" stroke-width="1.2" stroke-linecap="butt"/>
<line x1="822.5" y1="146.3" x2="851.8" y2="163.2" stroke="#111" stroke-width="1.0" stroke-linecap="butt"/>
<line x1="822.5" y1="139.5" x2="822.5" y2="180.1" stroke="#111" stroke-width="1.2" stroke-linecap="butt"/>
<line x1="827" y1="150.8" x2="827" y2="182.3" stroke="#111" stroke-width="1.0" stroke-linecap="butt"/>
<line x1="836" y1="157.6" x2="836" y2="191.3" stroke="#111" stroke-width="1.2" stroke-linecap="butt"/>
<line x1="840.5" y1="162.1" x2="840.5" y2="191.3" stroke="#111" stroke-width="1.0" stroke-linecap="butt"/>
<line x1="854" y1="157.6" x2="854" y2="191.3" stroke="#111" stroke-width="1.2" stroke-linecap="butt"/>
<line x1="847.3" y1="167.7" x2="854" y2="167.7" stroke="#111" stroke-width="1.0" stroke-linecap="butt"/>
<line x1="847.3" y1="167.7" x2="847.3" y2="173.3" stroke="#111" stroke-width="1.0" stroke-linecap="butt"/>
<line x1="847.3" y1="173.3" x2="854" y2="174.4" stroke="#111" stroke-width="1.0" stroke-linecap="butt"/>
<line x1="797.8" y1="95.7" x2="849.5" y2="95.7" stroke="#111" stroke-width="1.0" stroke-linecap="butt"/>
<line x1="827" y1="90" x2="854" y2="90" stroke="#111" stroke-width="1.0" stroke-linecap="butt"/>
<path d="M810.1,105.8 C812.4,99.0 807.9,93.4 802.3,94.1 C796.6,94.5 795.5,101.3 798.9,104.7 L803.4,108.0 L809.0,110.3 L811.3,108.0 " stroke="#111" stroke-width="1.46" fill="none" />
<path d="M808.6,104.0 C809.5,100.2 806.3,96.8 802.7,97.2 C799.6,97.9 798.9,101.3 801.1,103.1 " stroke="#111" stroke-width="1.12" fill="none" />
<path d="M823.6,105.8 C827.0,101.3 836.0,100.2 837.2,104.7 C837.2,108.0 833.8,110.3 830.4,109.2 " stroke="#111" stroke-width="1.34" fill="none" />
<circle cx="833.8" cy="104.2" r="1.2" stroke="#111" stroke-width="1.01" fill="none"/>
<path d="M801.1,186.8 C800.0,177.8 806.8,174.4 811.3,175.6 C818.0,176.7 820.3,182.3 819.1,187.9 " stroke="#111" stroke-width="1.34" fill="none" />
<path d="M805.6,166.6 L806.8,175.6 " stroke="#111" stroke-width="1.12" fill="none" />
<path d="M814.6,166.6 L815.8,177.8 " stroke="#111" stroke-width="1.12" fill="none" />
<circle cx="835.4" cy="117.5" r="3.6" stroke="#111" stroke-width="1.79" fill="#444"/>
<line x1="833.3" y1="115.7" x2="837.4" y2="119.3" stroke="#eee" stroke-width="0.8" stroke-linecap="butt"/>
<path d="M833.8,21.4 C842.8,29.3 847.3,45.0 848.4,67.5 C849.1,85.5 846.2,101.3 848.4,117.0 C850.7,139.5 858.5,162.1 860.8,190.2 " stroke="#111" stroke-width="2.58" fill="none" />
<path d="M836.5,20.3 C849.5,31.5 854.0,56.3 856.3,85.5 C859.7,108.0 869.8,126.0 869.3,153.0 C868.7,171.1 866.4,182.3 865.3,191.3 " stroke="#111" stroke-width="2.58" fill="none" />
<path d="M833.8,21.4 C822.5,24.8 813.5,29.3 806.3,33.8 " stroke="#111" stroke-width="2.58" fill="none" />
<path d="M791.0,22.5 C800.0,29.3 813.5,30.4 831.5,21.4 " stroke="#111" stroke-width="2.02" fill="none" />
<path d="M802.3,118.2 L832.7,104.7 " stroke="#111" stroke-width="2.58" fill="none" />
<path d="M802.3,118.2 C813.5,121.5 827.0,123.8 833.8,129.4 C840.5,135.0 847.3,139.5 852.2,145.2 " stroke="#111" stroke-width="2.58" fill="none" />
<path d="M835.4,118.2 C841.7,128.3 848.4,144.0 850.7,157.6 L853.6,165.4 " stroke="#111" stroke-width="2.58" fill="none" />
<path d="M802.3,118.2 L788.8,99.0 " stroke="#111" stroke-width="1.46" fill="none" />
</g>
<g id="wm" style="mix-blend-mode:multiply" filter="url(#nf)">
<text x="349" y="544.3" font-family="Liberation Sans" font-weight="bold" font-style="italic" font-size="57" textLength="55" lengthAdjust="spacingAndGlyphs" fill="#9c9c9c">D</text>
<text x="405" y="544.3" font-family="Liberation Sans" font-weight="bold" font-style="italic" font-size="42" textLength="161" lengthAdjust="spacingAndGlyphs" fill="#9c9c9c">yadk</text>
<text x="577" y="544.3" font-family="Liberation Sans" font-weight="bold" font-style="italic" font-size="57" textLength="52" lengthAdjust="spacingAndGlyphs" fill="#9c9c9c">O</text>
<circle cx="640.4" cy="508.2" r="7.6" fill="none" stroke="#9c9c9c" stroke-width="1.4"/>
<text x="640.4" y="512.4" font-family="Liberation Sans" font-size="11.5" text-anchor="middle" fill="#9c9c9c">R</text>
</g>
<defs><filter id="nf" x="0" y="0" width="100%" height="100%" filterUnits="userSpaceOnUse"><feOffset dx="0" dy="0"/></filter></defs>
<g id="labels" filter="url(#nf)">
<text x="97.6" y="155.4" font-family="Liberation Serif" font-size="12.6" font-weight="normal" text-anchor="middle" textLength="5.8" lengthAdjust="spacingAndGlyphs" fill="#1a1a1a" stroke="#1a1a1a" stroke-width="0.3">1</text>
<text x="125.5" y="150.3" font-family="Liberation Serif" font-size="12.6" font-weight="normal" text-anchor="middle" textLength="5.8" lengthAdjust="spacingAndGlyphs" fill="#1a1a1a" stroke="#1a1a1a" stroke-width="0.3">2</text>
<text x="173.5" y="142.8" font-family="Liberation Serif" font-size="12.6" font-weight="normal" text-anchor="middle" textLength="5.8" lengthAdjust="spacingAndGlyphs" fill="#1a1a1a" stroke="#1a1a1a" stroke-width="0.3">3</text>
<text x="209.8" y="135.8" font-family="Liberation Serif" font-size="12.6" font-weight="normal" text-anchor="middle" textLength="5.8" lengthAdjust="spacingAndGlyphs" fill="#1a1a1a" stroke="#1a1a1a" stroke-width="0.3">4</text>
<text x="242.5" y="131.6" font-family="Liberation Serif" font-size="12.6" font-weight="normal" text-anchor="middle" textLength="5.8" lengthAdjust="spacingAndGlyphs" fill="#1a1a1a" stroke="#1a1a1a" stroke-width="0.3">5</text>
<text x="265" y="128.3" font-family="Liberation Serif" font-size="12.6" font-weight="normal" text-anchor="middle" textLength="5.8" lengthAdjust="spacingAndGlyphs" fill="#1a1a1a" stroke="#1a1a1a" stroke-width="0.3">6</text>
<text x="286.2" y="125.8" font-family="Liberation Serif" font-size="12.6" font-weight="normal" text-anchor="middle" textLength="5.8" lengthAdjust="spacingAndGlyphs" fill="#1a1a1a" stroke="#1a1a1a" stroke-width="0.3">7</text>
<text x="312" y="194" font-family="Liberation Serif" font-size="12.6" font-weight="normal" text-anchor="middle" textLength="5.8" lengthAdjust="spacingAndGlyphs" fill="#1a1a1a" stroke="#1a1a1a" stroke-width="0.3">8</text>
<text x="452.5" y="88.8" font-family="Liberation Serif" font-size="12.6" font-weight="normal" text-anchor="middle" textLength="5.8" lengthAdjust="spacingAndGlyphs" fill="#1a1a1a" stroke="#1a1a1a" stroke-width="0.3">9</text>
<text x="527.5" y="81.8" font-family="Liberation Serif" font-size="12.6" font-weight="normal" text-anchor="middle" textLength="11.6" lengthAdjust="spacingAndGlyphs" fill="#1a1a1a" stroke="#1a1a1a" stroke-width="0.3">10</text>
<text x="569" y="76.8" font-family="Liberation Serif" font-size="12.6" font-weight="normal" text-anchor="middle" textLength="11.6" lengthAdjust="spacingAndGlyphs" fill="#1a1a1a" stroke="#1a1a1a" stroke-width="0.3">11</text>
<text x="601" y="70.3" font-family="Liberation Serif" font-size="12.6" font-weight="normal" text-anchor="middle" textLength="11.6" lengthAdjust="spacingAndGlyphs" fill="#1a1a1a" stroke="#1a1a1a" stroke-width="0.3">12</text>
<text x="627" y="67.8" font-family="Liberation Serif" font-size="12.6" font-weight="normal" text-anchor="middle" textLength="11.6" lengthAdjust="spacingAndGlyphs" fill="#1a1a1a" stroke="#1a1a1a" stroke-width="0.3">13</text>
<text x="650" y="59.8" font-family="Liberation Serif" font-size="12.6" font-weight="normal" text-anchor="middle" textLength="11.6" lengthAdjust="spacingAndGlyphs" fill="#1a1a1a" stroke="#1a1a1a" stroke-width="0.3">14</text>
<text x="415.5" y="228.1" font-family="Liberation Serif" font-size="12.6" font-weight="normal" text-anchor="middle" textLength="11.6" lengthAdjust="spacingAndGlyphs" fill="#1a1a1a" stroke="#1a1a1a" stroke-width="0.3">15</text>
<text x="459.2" y="231.6" font-family="Liberation Serif" font-size="12.6" font-weight="normal" text-anchor="middle" textLength="11.6" lengthAdjust="spacingAndGlyphs" fill="#1a1a1a" stroke="#1a1a1a" stroke-width="0.3">16</text>
<text x="524.1" y="187.9" font-family="Liberation Serif" font-size="12.6" font-weight="normal" text-anchor="middle" textLength="11.6" lengthAdjust="spacingAndGlyphs" fill="#1a1a1a" stroke="#1a1a1a" stroke-width="0.3">17</text>
<text x="443" y="206.5" font-family="Liberation Serif" font-size="12.6" font-weight="normal" text-anchor="middle" textLength="11.6" lengthAdjust="spacingAndGlyphs" fill="#1a1a1a" stroke="#1a1a1a" stroke-width="0.3">18</text>
<text x="517.7" y="209.8" font-family="Liberation Serif" font-size="12.6" font-weight="normal" text-anchor="middle" textLength="11.6" lengthAdjust="spacingAndGlyphs" fill="#1a1a1a" stroke="#1a1a1a" stroke-width="0.3">19</text>
<text x="51.5" y="353" font-family="Liberation Serif" font-size="12.6" font-weight="normal" text-anchor="middle" textLength="11.6" lengthAdjust="spacingAndGlyphs" fill="#1a1a1a" stroke="#1a1a1a" stroke-width="0.3">20</text>
<text x="69.1" y="351.3" font-family="Liberation Serif" font-size="12.6" font-weight="normal" text-anchor="middle" textLength="11.6" lengthAdjust="spacingAndGlyphs" fill="#1a1a1a" stroke="#1a1a1a" stroke-width="0.3">21</text>
<text x="113.7" y="343.5" font-family="Liberation Serif" font-size="12.6" font-weight="normal" text-anchor="middle" textLength="11.6" lengthAdjust="spacingAndGlyphs" fill="#1a1a1a" stroke="#1a1a1a" stroke-width="0.3">22</text>
<text x="141.6" y="338.4" font-family="Liberation Serif" font-size="12.6" font-weight="normal" text-anchor="middle" textLength="11.6" lengthAdjust="spacingAndGlyphs" fill="#1a1a1a" stroke="#1a1a1a" stroke-width="0.3">23</text>
<text x="169" y="335.4" font-family="Liberation Serif" font-size="12.6" font-weight="normal" text-anchor="middle" textLength="11.6" lengthAdjust="spacingAndGlyphs" fill="#1a1a1a" stroke="#1a1a1a" stroke-width="0.3">82</text>
<text x="193.2" y="330.4" font-family="Liberation Serif" font-size="12.6" font-weight="normal" text-anchor="middle" textLength="11.6" lengthAdjust="spacingAndGlyphs" fill="#1a1a1a" stroke="#1a1a1a" stroke-width="0.3">85</text>
<text x="243.3" y="322.4" font-family="Liberation Serif" font-size="12.6" font-weight="normal" text-anchor="middle" textLength="11.6" lengthAdjust="spacingAndGlyphs" fill="#1a1a1a" stroke="#1a1a1a" stroke-width="0.3">24</text>
<text x="268" y="317.4" font-family="Liberation Serif" font-size="12.6" font-weight="normal" text-anchor="middle" textLength="11.6" lengthAdjust="spacingAndGlyphs" fill="#1a1a1a" stroke="#1a1a1a" stroke-width="0.3">25</text>
<text x="315.8" y="309.8" font-family="Liberation Serif" font-size="12.6" font-weight="normal" text-anchor="middle" textLength="11.6" lengthAdjust="spacingAndGlyphs" fill="#1a1a1a" stroke="#1a1a1a" stroke-width="0.3">26</text>
<text x="334.2" y="306.6" font-family="Liberation Serif" font-size="12.6" font-weight="normal" text-anchor="middle" textLength="11.6" lengthAdjust="spacingAndGlyphs" fill="#1a1a1a" stroke="#1a1a1a" stroke-width="0.3">91</text>
<text x="354.1" y="302.8" font-family="Liberation Serif" font-size="12.6" font-weight="normal" text-anchor="middle" textLength="11.6" lengthAdjust="spacingAndGlyphs" fill="#1a1a1a" stroke="#1a1a1a" stroke-width="0.3">27</text>
<text x="392.6" y="296" font-family="Liberation Serif" font-size="12.6" font-weight="normal" text-anchor="middle" textLength="11.6" lengthAdjust="spacingAndGlyphs" fill="#1a1a1a" stroke="#1a1a1a" stroke-width="0.3">28</text>
<text x="430.4" y="304.6" font-family="Liberation Serif" font-size="12.6" font-weight="normal" text-anchor="middle" textLength="11.6" lengthAdjust="spacingAndGlyphs" fill="#1a1a1a" stroke="#1a1a1a" stroke-width="0.3">29</text>
<text x="439.7" y="288.2" font-family="Liberation Serif" font-size="12.6" font-weight="normal" text-anchor="middle" textLength="11.6" lengthAdjust="spacingAndGlyphs" fill="#1a1a1a" stroke="#1a1a1a" stroke-width="0.3">30</text>
<text x="456" y="286.7" font-family="Liberation Serif" font-size="12.6" font-weight="normal" text-anchor="middle" textLength="11.6" lengthAdjust="spacingAndGlyphs" fill="#1a1a1a" stroke="#1a1a1a" stroke-width="0.3">31</text>
<text x="481" y="280.8" font-family="Liberation Serif" font-size="12.6" font-weight="normal" text-anchor="middle" textLength="11.6" lengthAdjust="spacingAndGlyphs" fill="#1a1a1a" stroke="#1a1a1a" stroke-width="0.3">32</text>
<text x="508" y="275.3" font-family="Liberation Serif" font-size="12.6" font-weight="normal" text-anchor="middle" textLength="11.6" lengthAdjust="spacingAndGlyphs" fill="#1a1a1a" stroke="#1a1a1a" stroke-width="0.3">33</text>
<text x="534.7" y="270.8" font-family="Liberation Serif" font-size="12.6" font-weight="normal" text-anchor="middle" textLength="11.6" lengthAdjust="spacingAndGlyphs" fill="#1a1a1a" stroke="#1a1a1a" stroke-width="0.3">34</text>
<text x="576.5" y="262.8" font-family="Liberation Serif" font-size="12.6" font-weight="normal" text-anchor="middle" textLength="11.6" lengthAdjust="spacingAndGlyphs" fill="#1a1a1a" stroke="#1a1a1a" stroke-width="0.3">35</text>
<text x="638" y="239.3" font-family="Liberation Serif" font-size="12.6" font-weight="normal" text-anchor="middle" textLength="11.6" lengthAdjust="spacingAndGlyphs" fill="#1a1a1a" stroke="#1a1a1a" stroke-width="0.3">36</text>
<text x="656.2" y="244.4" font-family="Liberation Serif" font-size="12.6" font-weight="normal" text-anchor="middle" textLength="11.6" lengthAdjust="spacingAndGlyphs" fill="#1a1a1a" stroke="#1a1a1a" stroke-width="0.3">37</text>
<text x="694.6" y="237.7" font-family="Liberation Serif" font-size="12.6" font-weight="normal" text-anchor="middle" textLength="11.6" lengthAdjust="spacingAndGlyphs" fill="#1a1a1a" stroke="#1a1a1a" stroke-width="0.3">38</text>
<text x="729.3" y="227.7" font-family="Liberation Serif" font-size="12.6" font-weight="normal" text-anchor="middle" textLength="11.6" lengthAdjust="spacingAndGlyphs" fill="#1a1a1a" stroke="#1a1a1a" stroke-width="0.3">39</text>
<text x="799" y="217.8" font-family="Liberation Serif" font-size="12.6" font-weight="normal" text-anchor="middle" textLength="11.6" lengthAdjust="spacingAndGlyphs" fill="#1a1a1a" stroke="#1a1a1a" stroke-width="0.3">40</text>
<text x="904.4" y="183.1" font-family="Liberation Serif" font-size="12.6" font-weight="normal" text-anchor="middle" textLength="11.6" lengthAdjust="spacingAndGlyphs" fill="#1a1a1a" stroke="#1a1a1a" stroke-width="0.3">41</text>
<text x="898.8" y="256.2" font-family="Liberation Serif" font-size="12.6" font-weight="normal" text-anchor="middle" textLength="11.6" lengthAdjust="spacingAndGlyphs" fill="#1a1a1a" stroke="#1a1a1a" stroke-width="0.3">42</text>
<text x="657.3" y="330" font-family="Liberation Serif" font-size="12.6" font-weight="normal" text-anchor="middle" textLength="11.6" lengthAdjust="spacingAndGlyphs" fill="#1a1a1a" stroke="#1a1a1a" stroke-width="0.3">43</text>
<text x="786" y="339.8" font-family="Liberation Serif" font-size="12.6" font-weight="normal" text-anchor="middle" textLength="11.6" lengthAdjust="spacingAndGlyphs" fill="#1a1a1a" stroke="#1a1a1a" stroke-width="0.3">86</text>
<text x="775.9" y="370.7" font-family="Liberation Serif" font-size="12.6" font-weight="normal" text-anchor="middle" textLength="11.6" lengthAdjust="spacingAndGlyphs" fill="#1a1a1a" stroke="#1a1a1a" stroke-width="0.3">83</text>
<text x="749" y="376.2" font-family="Liberation Serif" font-size="12.6" font-weight="normal" text-anchor="middle" textLength="11.6" lengthAdjust="spacingAndGlyphs" fill="#1a1a1a" stroke="#1a1a1a" stroke-width="0.3">44</text>
<text x="730.6" y="374.9" font-family="Liberation Serif" font-size="12.6" font-weight="normal" text-anchor="middle" textLength="11.6" lengthAdjust="spacingAndGlyphs" fill="#1a1a1a" stroke="#1a1a1a" stroke-width="0.3">45</text>
<text x="713" y="382" font-family="Liberation Serif" font-size="12.6" font-weight="normal" text-anchor="middle" textLength="11.6" lengthAdjust="spacingAndGlyphs" fill="#1a1a1a" stroke="#1a1a1a" stroke-width="0.3">46</text>
<text x="681.5" y="390" font-family="Liberation Serif" font-size="12.6" font-weight="normal" text-anchor="middle" textLength="11.6" lengthAdjust="spacingAndGlyphs" fill="#1a1a1a" stroke="#1a1a1a" stroke-width="0.3">47</text>
<text x="658.7" y="393" font-family="Liberation Serif" font-size="12.6" font-weight="normal" text-anchor="middle" textLength="11.6" lengthAdjust="spacingAndGlyphs" fill="#1a1a1a" stroke="#1a1a1a" stroke-width="0.3">48</text>
<text x="618.8" y="405" font-family="Liberation Serif" font-size="12.6" font-weight="normal" text-anchor="middle" textLength="11.6" lengthAdjust="spacingAndGlyphs" fill="#1a1a1a" stroke="#1a1a1a" stroke-width="0.3">49</text>
<text x="584.8" y="408.8" font-family="Liberation Serif" font-size="12.6" font-weight="normal" text-anchor="middle" textLength="11.6" lengthAdjust="spacingAndGlyphs" fill="#1a1a1a" stroke="#1a1a1a" stroke-width="0.3">50</text>
<text x="563.4" y="412.5" font-family="Liberation Serif" font-size="12.6" font-weight="normal" text-anchor="middle" textLength="11.6" lengthAdjust="spacingAndGlyphs" fill="#1a1a1a" stroke="#1a1a1a" stroke-width="0.3">51</text>
<text x="543.8" y="415.1" font-family="Liberation Serif" font-size="12.6" font-weight="normal" text-anchor="middle" textLength="11.6" lengthAdjust="spacingAndGlyphs" fill="#1a1a1a" stroke="#1a1a1a" stroke-width="0.3">52</text>
<text x="518.1" y="418.3" font-family="Liberation Serif" font-size="12.6" font-weight="normal" text-anchor="middle" textLength="11.6" lengthAdjust="spacingAndGlyphs" fill="#1a1a1a" stroke="#1a1a1a" stroke-width="0.3">53</text>
<text x="488" y="422.8" font-family="Liberation Serif" font-size="12.6" font-weight="normal" text-anchor="middle" textLength="11.6" lengthAdjust="spacingAndGlyphs" fill="#1a1a1a" stroke="#1a1a1a" stroke-width="0.3">54</text>
<text x="880.3" y="54.2" font-family="Liberation Serif" font-size="12.6" font-weight="normal" text-anchor="middle" textLength="11.6" lengthAdjust="spacingAndGlyphs" fill="#1a1a1a" stroke="#1a1a1a" stroke-width="0.3">66</text>
<text x="875.8" y="106.6" font-family="Liberation Serif" font-size="12.6" font-weight="normal" text-anchor="middle" textLength="11.6" lengthAdjust="spacingAndGlyphs" fill="#1a1a1a" stroke="#1a1a1a" stroke-width="0.3">67</text>
<text x="68.3" y="568.8" font-family="Liberation Serif" font-size="12.6" font-weight="normal" text-anchor="middle" textLength="11.6" lengthAdjust="spacingAndGlyphs" fill="#1a1a1a" stroke="#1a1a1a" stroke-width="0.3">55</text>
<text x="159.2" y="553.6" font-family="Liberation Serif" font-size="12.6" font-weight="normal" text-anchor="middle" textLength="11.6" lengthAdjust="spacingAndGlyphs" fill="#1a1a1a" stroke="#1a1a1a" stroke-width="0.3">56</text>
<text x="240.7" y="538.5" font-family="Liberation Serif" font-size="12.6" font-weight="normal" text-anchor="middle" textLength="11.6" lengthAdjust="spacingAndGlyphs" fill="#1a1a1a" stroke="#1a1a1a" stroke-width="0.3">57</text>
<text x="277.7" y="530.4" font-family="Liberation Serif" font-size="12.6" font-weight="normal" text-anchor="middle" textLength="11.6" lengthAdjust="spacingAndGlyphs" fill="#1a1a1a" stroke="#1a1a1a" stroke-width="0.3">58</text>
<text x="299.8" y="522.1" font-family="Liberation Serif" font-size="12.6" font-weight="normal" text-anchor="middle" textLength="11.6" lengthAdjust="spacingAndGlyphs" fill="#1a1a1a" stroke="#1a1a1a" stroke-width="0.3">59</text>
<text x="358.8" y="510.2" font-family="Liberation Serif" font-size="12.6" font-weight="normal" text-anchor="middle" textLength="11.6" lengthAdjust="spacingAndGlyphs" fill="#1a1a1a" stroke="#1a1a1a" stroke-width="0.3">60</text>
<text x="448.9" y="608.4" font-family="Liberation Serif" font-size="12.6" font-weight="normal" text-anchor="middle" textLength="11.6" lengthAdjust="spacingAndGlyphs" fill="#1a1a1a" stroke="#1a1a1a" stroke-width="0.3">61</text>
<text x="529.9" y="475.8" font-family="Liberation Serif" font-size="12.6" font-weight="normal" text-anchor="middle" textLength="11.6" lengthAdjust="spacingAndGlyphs" fill="#1a1a1a" stroke="#1a1a1a" stroke-width="0.3">62</text>
<text x="605.4" y="469.8" font-family="Liberation Serif" font-size="12.6" font-weight="normal" text-anchor="middle" textLength="11.6" lengthAdjust="spacingAndGlyphs" fill="#1a1a1a" stroke="#1a1a1a" stroke-width="0.3">63</text>
<text x="636" y="466.2" font-family="Liberation Serif" font-size="12.6" font-weight="normal" text-anchor="middle" textLength="11.6" lengthAdjust="spacingAndGlyphs" fill="#1a1a1a" stroke="#1a1a1a" stroke-width="0.3">64</text>
<text x="684.6" y="477.6" font-family="Liberation Serif" font-size="12.6" font-weight="normal" text-anchor="middle" textLength="11.6" lengthAdjust="spacingAndGlyphs" fill="#1a1a1a" stroke="#1a1a1a" stroke-width="0.3">65</text>
<text x="828.3" y="412.9" font-family="Liberation Serif" font-size="12.6" font-weight="normal" text-anchor="middle" textLength="11.6" lengthAdjust="spacingAndGlyphs" fill="#1a1a1a" stroke="#1a1a1a" stroke-width="0.3">74</text>
<text x="868.5" y="408.6" font-family="Liberation Serif" font-size="12.6" font-weight="normal" text-anchor="middle" textLength="11.6" lengthAdjust="spacingAndGlyphs" fill="#1a1a1a" stroke="#1a1a1a" stroke-width="0.3">75</text>
<text x="913.5" y="583.8" font-family="Liberation Serif" font-size="12.6" font-weight="normal" text-anchor="middle" textLength="11.6" lengthAdjust="spacingAndGlyphs" fill="#1a1a1a" stroke="#1a1a1a" stroke-width="0.3">70</text>
<text x="763.6" y="475.6" font-family="Liberation Serif" font-size="12.6" font-weight="normal" text-anchor="middle" textLength="11.6" lengthAdjust="spacingAndGlyphs" fill="#1a1a1a" stroke="#1a1a1a" stroke-width="0.3">67</text>
<text x="734" y="530.4" font-family="Liberation Serif" font-size="12.6" font-weight="normal" text-anchor="middle" textLength="11.6" lengthAdjust="spacingAndGlyphs" fill="#1a1a1a" stroke="#1a1a1a" stroke-width="0.3">67</text>
<text x="749.5" y="592.8" font-family="Liberation Serif" font-size="12.6" font-weight="normal" text-anchor="middle" textLength="11.6" lengthAdjust="spacingAndGlyphs" fill="#1a1a1a" stroke="#1a1a1a" stroke-width="0.3">68</text>
<text x="781.8" y="664.7" font-family="Liberation Serif" font-size="12.6" font-weight="normal" text-anchor="middle" textLength="11.6" lengthAdjust="spacingAndGlyphs" fill="#1a1a1a" stroke="#1a1a1a" stroke-width="0.3">69</text>
<text x="728" y="631.9" font-family="Liberation Serif" font-size="12.6" font-weight="normal" text-anchor="middle" textLength="11.6" lengthAdjust="spacingAndGlyphs" fill="#1a1a1a" stroke="#1a1a1a" stroke-width="0.3">84</text>
<text x="849.8" y="715.8" font-family="Liberation Serif" font-size="12.6" font-weight="normal" text-anchor="middle" textLength="11.6" lengthAdjust="spacingAndGlyphs" fill="#1a1a1a" stroke="#1a1a1a" stroke-width="0.3">71</text>
<text x="878.3" y="706.6" font-family="Liberation Serif" font-size="12.6" font-weight="normal" text-anchor="middle" textLength="11.6" lengthAdjust="spacingAndGlyphs" fill="#1a1a1a" stroke="#1a1a1a" stroke-width="0.3">90</text>
<text x="799.3" y="743" font-family="Liberation Serif" font-size="12.6" font-weight="normal" text-anchor="middle" textLength="11.6" lengthAdjust="spacingAndGlyphs" fill="#1a1a1a" stroke="#1a1a1a" stroke-width="0.3">72</text>
<text x="822.2" y="805.5" font-family="Liberation Serif" font-size="12.6" font-weight="normal" text-anchor="middle" textLength="11.6" lengthAdjust="spacingAndGlyphs" fill="#1a1a1a" stroke="#1a1a1a" stroke-width="0.3">73</text>
<text x="632.7" y="747.2" font-family="Liberation Serif" font-size="12.6" font-weight="normal" text-anchor="middle" textLength="11.6" lengthAdjust="spacingAndGlyphs" fill="#1a1a1a" stroke="#1a1a1a" stroke-width="0.3">66</text>
<text x="293.7" y="646.9" font-family="Liberation Serif" font-size="12.6" font-weight="normal" text-anchor="middle" textLength="11.6" lengthAdjust="spacingAndGlyphs" fill="#1a1a1a" stroke="#1a1a1a" stroke-width="0.3">79</text>
<text x="220.3" y="664.4" font-family="Liberation Serif" font-size="12.6" font-weight="normal" text-anchor="middle" textLength="11.6" lengthAdjust="spacingAndGlyphs" fill="#1a1a1a" stroke="#1a1a1a" stroke-width="0.3">80</text>
<text x="224.7" y="703.1" font-family="Liberation Serif" font-size="12.6" font-weight="normal" text-anchor="middle" textLength="11.6" lengthAdjust="spacingAndGlyphs" fill="#1a1a1a" stroke="#1a1a1a" stroke-width="0.3">89</text>
<text x="162.6" y="708.1" font-family="Liberation Serif" font-size="12.6" font-weight="normal" text-anchor="middle" textLength="11.6" lengthAdjust="spacingAndGlyphs" fill="#1a1a1a" stroke="#1a1a1a" stroke-width="0.3">81</text>
<text x="393.6" y="662.3" font-family="Liberation Serif" font-size="12.6" font-weight="normal" text-anchor="middle" textLength="11.6" lengthAdjust="spacingAndGlyphs" fill="#1a1a1a" stroke="#1a1a1a" stroke-width="0.3">78</text>
<text x="379.6" y="709" font-family="Liberation Serif" font-size="12.6" font-weight="normal" text-anchor="middle" textLength="11.6" lengthAdjust="spacingAndGlyphs" fill="#1a1a1a" stroke="#1a1a1a" stroke-width="0.3">77</text>
<text x="375.3" y="731.4" font-family="Liberation Serif" font-size="12.6" font-weight="normal" text-anchor="middle" textLength="11.6" lengthAdjust="spacingAndGlyphs" fill="#1a1a1a" stroke="#1a1a1a" stroke-width="0.3">87</text>
<text x="374.1" y="763.4" font-family="Liberation Serif" font-size="12.6" font-weight="normal" text-anchor="middle" textLength="11.6" lengthAdjust="spacingAndGlyphs" fill="#1a1a1a" stroke="#1a1a1a" stroke-width="0.3">88</text>
<text x="353.7" y="826.6" font-family="Liberation Serif" font-size="12.6" font-weight="normal" text-anchor="middle" textLength="11.6" lengthAdjust="spacingAndGlyphs" fill="#1a1a1a" stroke="#1a1a1a" stroke-width="0.3">76</text>
</g>
</svg>
</body></html>
